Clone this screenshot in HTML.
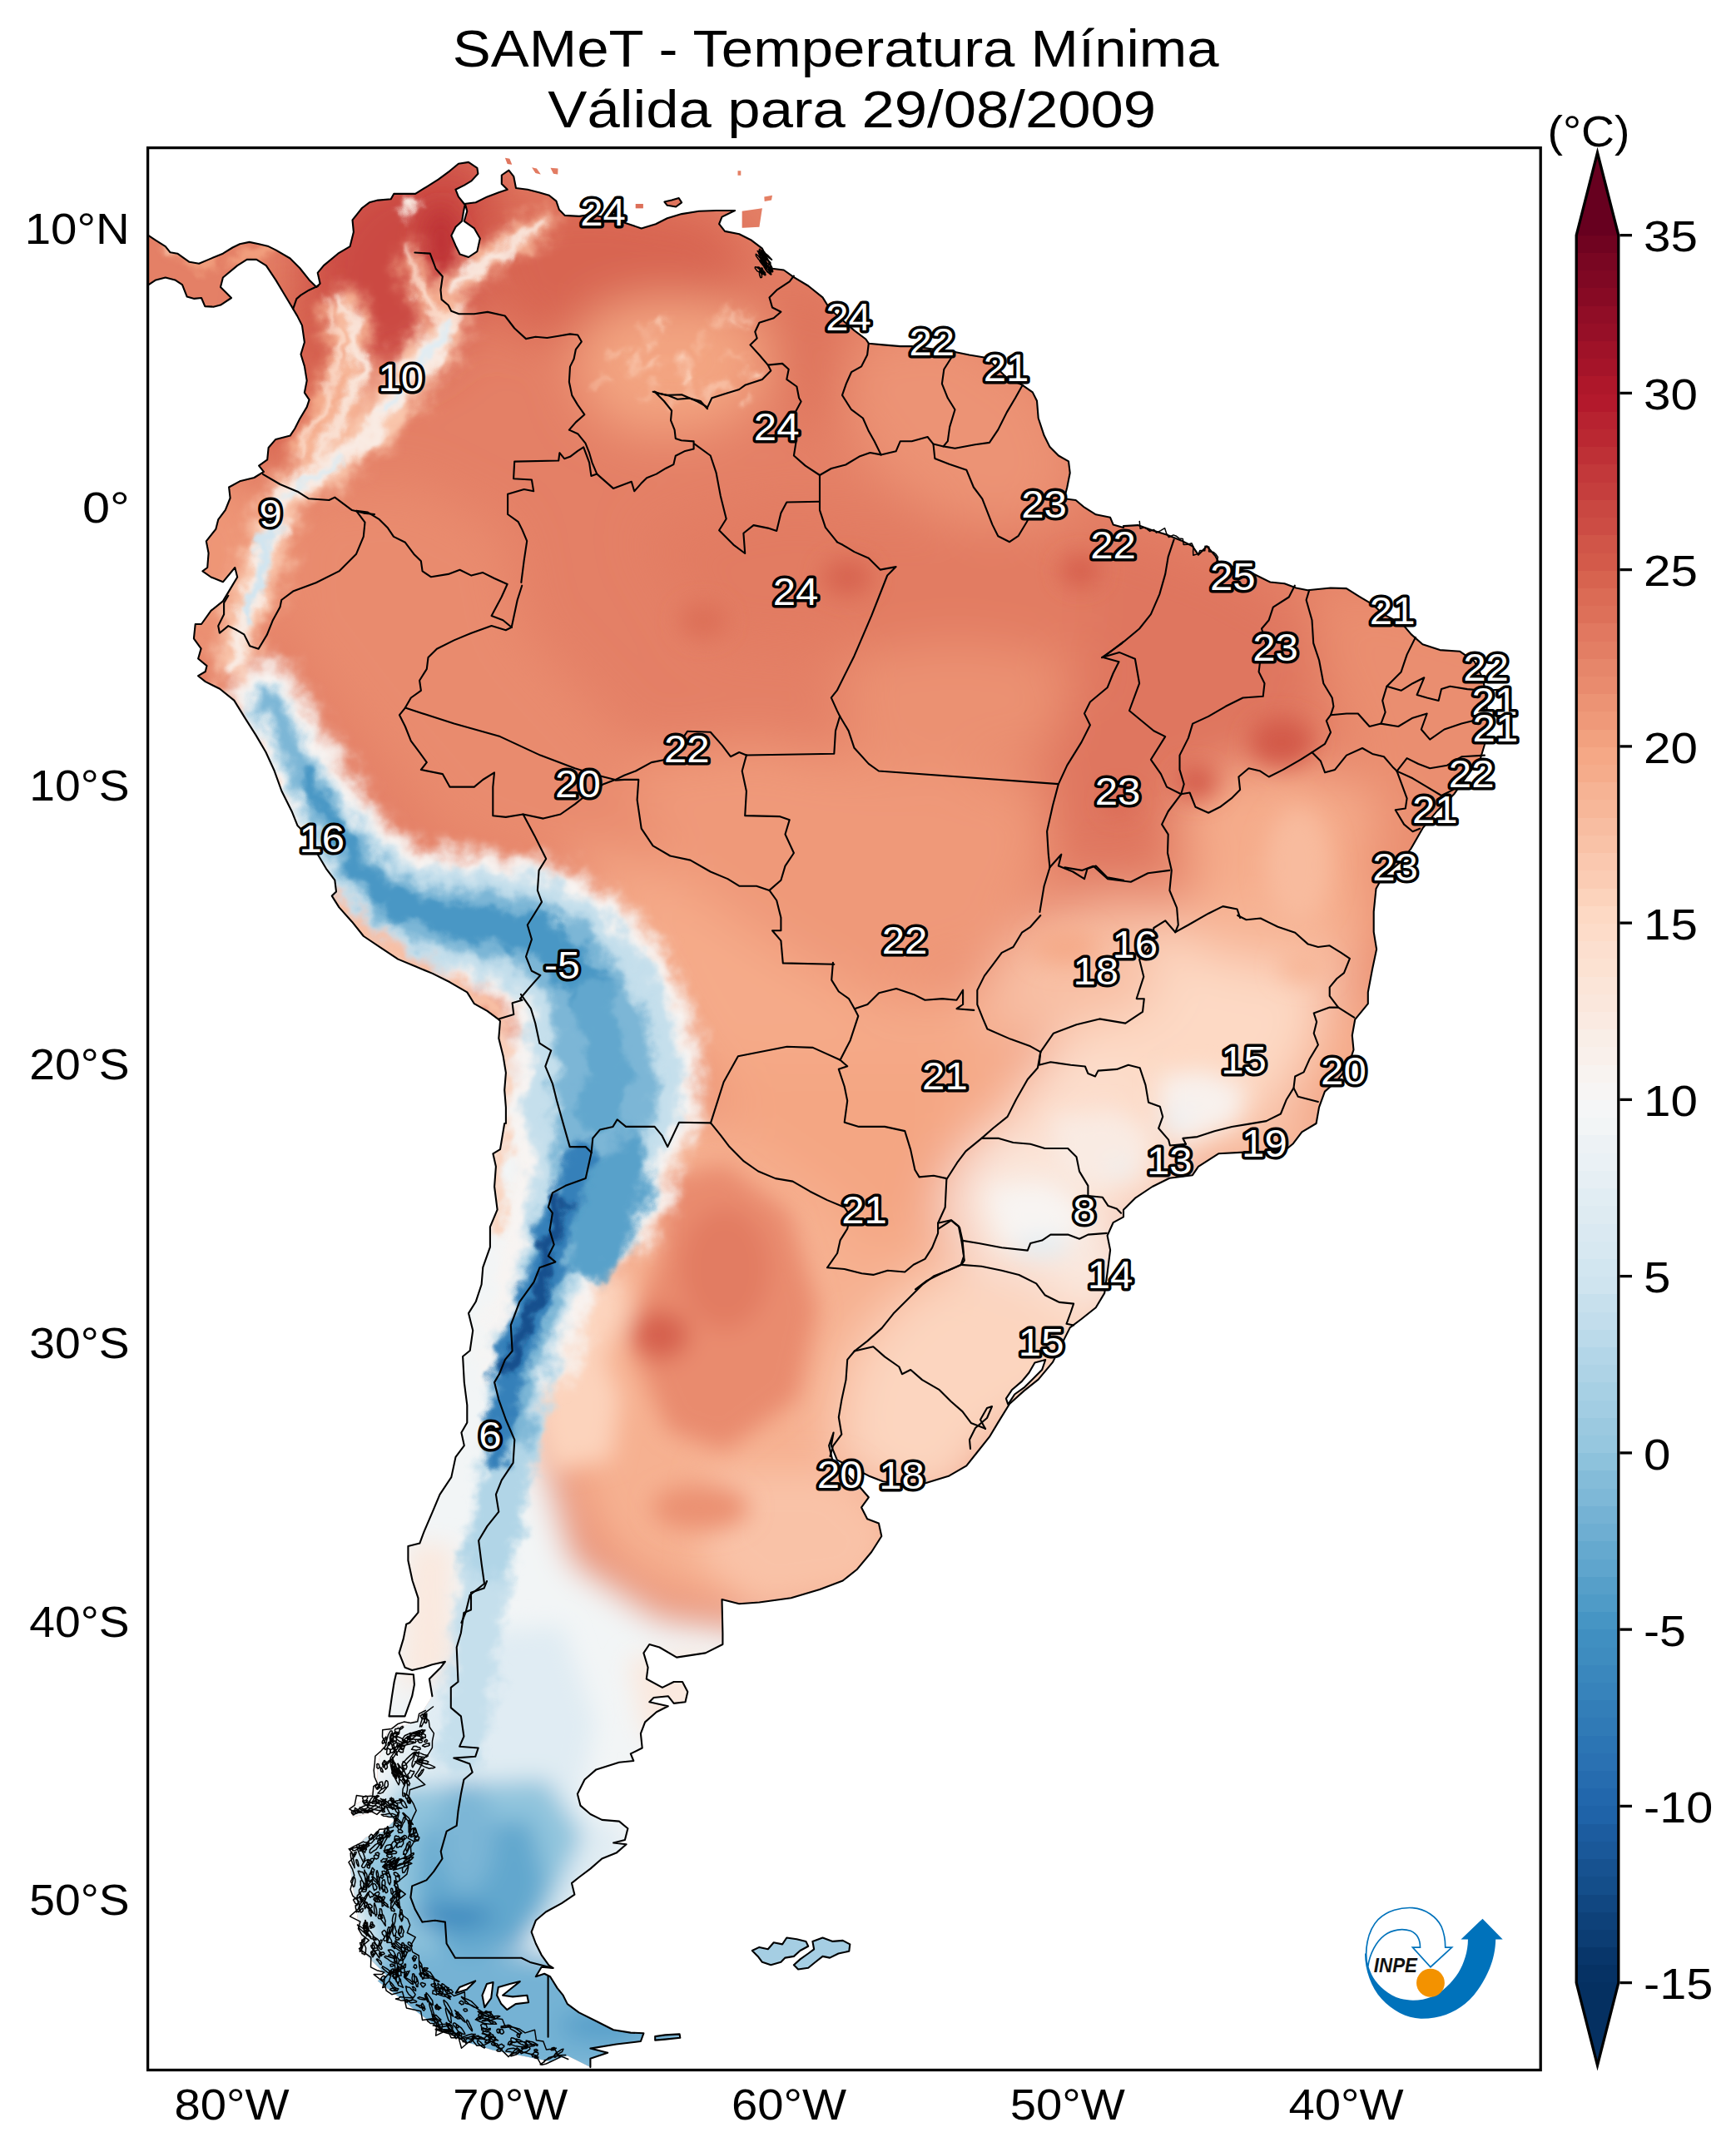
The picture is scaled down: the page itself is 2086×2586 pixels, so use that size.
<!DOCTYPE html>
<html><head><meta charset="utf-8"><title>SAMeT - Temperatura Mínima</title>
<style>html,body{margin:0;padding:0;background:#fff}body{width:2086px;height:2586px;overflow:hidden}svg{display:block}text{font-family:"Liberation Sans",sans-serif;fill:#000}</style></head><body>
<svg width="2086" height="2586" viewBox="0 0 2086 2586">
<defs>
<clipPath id="land"><path d="M174.3 280.2 L178.6 283.1 L187.3 288.9 L198.8 296.1 L204.6 303.3 L213.2 304.7 L227.6 314.8 L239.1 316.8 L250.6 311.9 L267.9 304.7 L279.4 297.5 L288.1 293.2 L299.6 290.9 L311.1 293.2 L322.6 296.1 L331.3 300.4 L348.6 310.5 L360.1 322.0 L371.6 336.4 L380.3 345.0 L384.6 340.7 L381.7 327.8 L388.9 319.1 L406.2 304.7 L420.6 296.1 L424.9 278.8 L423.5 264.4 L435.0 250.0 L443.8 243.3 L454.1 240.6 L469.7 239.2 L473.2 232.9 L487.0 232.9 L499.1 232.9 L512.9 224.3 L526.7 215.7 L540.6 205.3 L550.9 196.7 L563.0 194.9 L573.4 201.8 L574.4 208.8 L566.5 217.4 L557.8 222.6 L547.5 227.8 L550.9 236.4 L557.8 245.0 L571.7 243.3 L585.5 236.4 L599.3 231.2 L609.7 227.8 L602.8 220.9 L602.8 210.5 L611.4 204.6 L617.3 212.2 L620.0 226.0 L633.9 227.8 L647.7 231.2 L659.8 234.7 L668.4 241.6 L671.9 252.0 L678.8 258.9 L696.1 259.9 L709.9 257.8 L730.6 262.3 L750.0 266.8 L750.0 267.5 L770.7 274.4 L788.0 269.2 L801.8 262.3 L819.1 257.1 L839.9 253.7 L860.6 253.0 L883.1 253.0 L867.5 260.6 L864.1 269.2 L871.0 277.9 L888.2 281.3 L902.1 288.2 L915.9 298.6 L922.8 312.4 L928.0 322.8 L941.8 324.5 L953.9 333.2 L971.2 343.5 L988.5 357.4 L997.1 371.2 L1012.7 385.0 L1026.5 397.1 L1040.3 407.5 L1043.8 412.7 L1061.1 414.4 L1081.8 416.1 L1095.6 416.1 L1147.5 423.0 L1164.7 426.5 L1185.5 430.0 L1209.7 454.1 L1228.7 462.8 L1240.8 471.4 L1246.0 481.8 L1247.7 502.5 L1254.6 523.3 L1261.5 537.1 L1271.9 547.5 L1284.0 554.4 L1285.7 568.2 L1282.3 585.5 L1278.8 599.3 L1292.6 601.0 L1303.0 609.7 L1316.8 618.3 L1334.1 621.8 L1337.6 630.4 L1350.0 633.9 L1350.0 632.1 L1367.3 631.1 L1384.6 637.3 L1401.8 642.5 L1419.1 649.4 L1432.9 656.3 L1439.9 666.7 L1450.2 656.3 L1460.6 668.4 L1464.1 675.3 L1505.5 689.2 L1526.3 699.5 L1543.5 701.3 L1557.4 706.5 L1571.2 709.2 L1598.8 706.5 L1617.9 707.1 L1633.4 716.8 L1650.7 727.2 L1661.1 737.6 L1685.3 750.0 L1695.6 762.1 L1709.4 774.2 L1730.2 781.1 L1754.4 782.8 L1771.7 794.9 L1782.0 815.7 L1786.2 839.9 L1787.2 867.5 L1783.8 895.2 L1778.6 912.4 L1764.7 929.7 L1747.5 953.9 L1726.7 974.7 L1709.4 995.4 L1695.6 1019.6 L1681.8 1036.9 L1661.1 1054.1 L1653.5 1068.0 L1650.7 1095.6 L1650.7 1119.8 L1654.1 1140.6 L1649.0 1164.7 L1643.8 1192.4 L1643.8 1206.2 L1628.2 1225.2 L1624.8 1244.2 L1626.5 1261.5 L1619.6 1282.3 L1605.8 1299.5 L1591.9 1311.6 L1585.0 1330.6 L1581.6 1350.0 L1581.6 1350.0 L1564.3 1360.4 L1553.9 1374.2 L1543.5 1382.8 L1495.2 1384.6 L1464.1 1386.3 L1439.9 1401.8 L1432.9 1412.2 L1405.3 1415.7 L1384.6 1426.0 L1363.8 1439.9 L1350.0 1453.7 L1350.0 1462.3 L1337.6 1469.2 L1330.6 1484.8 L1334.1 1502.1 L1330.6 1529.7 L1327.2 1553.9 L1316.8 1571.2 L1299.5 1585.0 L1285.7 1595.4 L1275.3 1616.1 L1265.0 1636.9 L1247.7 1657.6 L1230.4 1671.4 L1213.1 1687.0 L1199.3 1709.4 L1188.9 1726.7 L1175.1 1744.0 L1161.3 1761.3 L1140.6 1773.4 L1112.9 1782.0 L1081.8 1783.8 L1061.1 1780.3 L1043.8 1773.4 L1023.0 1763.0 L1005.8 1754.4 L998.8 1737.1 L1001.6 1721.5 L996.1 1737.1 L1000.6 1756.1 L1019.6 1773.4 L1033.4 1787.2 L1043.8 1799.3 L1035.1 1811.4 L1042.1 1825.2 L1055.9 1830.4 L1059.3 1846.0 L1047.2 1865.0 L1030.0 1885.7 L1012.7 1899.5 L985.0 1909.9 L950.5 1920.3 L912.4 1925.5 L888.2 1927.2 L867.5 1922.0 L868.4 1962.2 L868.4 1976.0 L847.7 1986.4 L813.1 1991.6 L792.4 1979.5 L780.3 1976.0 L773.4 1986.4 L778.6 2003.7 L776.8 2017.5 L795.9 2027.9 L809.7 2021.0 L820.0 2021.0 L826.3 2033.1 L823.5 2045.2 L809.7 2046.9 L802.8 2038.2 L785.5 2040.0 L780.3 2045.2 L802.8 2050.3 L788.9 2057.3 L775.1 2069.4 L769.9 2083.2 L771.7 2100.5 L757.8 2107.4 L761.3 2116.0 L744.0 2117.7 L716.4 2126.4 L702.5 2138.5 L693.9 2155.8 L697.4 2169.6 L709.4 2180.0 L723.3 2186.9 L744.0 2188.6 L754.4 2197.2 L750.9 2211.1 L737.1 2214.5 L752.6 2216.2 L740.6 2226.6 L723.3 2233.5 L709.4 2245.6 L695.6 2256.0 L687.0 2262.9 L690.4 2276.7 L674.9 2287.1 L655.9 2297.5 L643.8 2307.8 L638.6 2321.7 L643.8 2335.5 L650.7 2349.3 L659.3 2361.4 L664.5 2364.9 L650.7 2363.8 L643.8 2375.2 L654.1 2371.8 L661.1 2375.2 L669.7 2389.1 L676.6 2397.7 L681.8 2408.1 L695.6 2418.4 L716.4 2428.8 L737.1 2439.2 L757.8 2442.6 L773.4 2443.3 L769.9 2453.0 L740.6 2456.5 L709.4 2461.6 L730.2 2466.8 L709.4 2473.7 L709.4 2484.1 L681.8 2470.3 L661.1 2477.2 L626.5 2470.3 L591.9 2463.4 L557.4 2453.0 L529.7 2439.2 L502.1 2418.4 L481.3 2401.2 L453.7 2380.4 L464.1 2373.5 L436.4 2345.9 L431.2 2314.7 L426.0 2280.2 L420.9 2245.6 L424.3 2221.4 L439.9 2207.6 L460.6 2200.7 L474.4 2186.9 L453.7 2176.5 L424.3 2183.4 L419.1 2173.0 L436.4 2162.7 L453.7 2148.8 L453.7 2121.2 L460.6 2093.5 L467.5 2076.3 L488.2 2072.8 L502.1 2065.9 L510.7 2052.1 L519.4 2038.2 L515.9 2017.5 L529.7 2003.7 L534.9 1996.8 L519.4 2000.2 L509.0 2003.7 L495.2 2007.1 L486.5 2003.7 L479.6 1986.4 L484.8 1969.1 L488.2 1951.8 L492.2 1950.0 L502.5 1937.6 L502.5 1920.3 L495.6 1899.5 L490.4 1875.3 L490.4 1858.1 L504.3 1854.6 L509.4 1840.8 L519.8 1816.6 L528.5 1795.9 L542.3 1775.1 L547.5 1750.9 L557.8 1737.1 L554.4 1721.5 L561.3 1709.4 L561.3 1688.7 L557.8 1661.1 L556.1 1630.0 L564.7 1623.0 L568.2 1598.8 L563.0 1578.1 L571.7 1564.3 L578.6 1543.5 L580.3 1522.8 L588.9 1498.6 L588.9 1474.4 L597.6 1453.7 L594.1 1426.0 L595.9 1401.8 L592.4 1386.3 L601.0 1381.1 L606.2 1350.0 L607.9 1350.0 L607.9 1330.6 L606.2 1309.9 L607.9 1289.2 L604.5 1268.4 L599.3 1247.7 L601.0 1227.0 L599.3 1225.2 L585.5 1214.9 L569.9 1206.2 L561.3 1192.4 L540.6 1180.3 L519.8 1169.9 L499.1 1161.3 L478.3 1152.6 L457.6 1138.8 L436.9 1125.0 L423.0 1107.7 L407.5 1090.4 L398.8 1076.6 L404.0 1071.4 L402.3 1057.6 L391.9 1043.8 L381.6 1026.5 L371.2 1005.8 L357.4 991.9 L350.5 974.7 L338.4 950.5 L329.7 926.3 L319.4 903.8 L307.3 883.1 L295.2 864.1 L281.3 841.6 L264.1 827.8 L246.8 819.1 L238.1 812.2 L246.8 807.0 L248.5 800.1 L238.1 791.5 L241.6 779.4 L232.9 767.3 L234.7 750.0 L242.0 750.0 L253.5 733.9 L267.9 722.4 L276.6 707.9 L285.2 693.5 L282.3 682.0 L267.9 699.3 L253.5 693.5 L243.4 686.3 L249.2 682.0 L250.6 664.7 L247.8 650.3 L259.3 635.9 L262.2 624.4 L270.8 612.9 L276.6 598.5 L275.1 585.5 L288.1 578.3 L305.4 574.0 L316.9 566.8 L311.1 559.6 L321.2 552.4 L322.6 538.0 L331.3 527.9 L348.6 523.6 L354.3 515.0 L360.1 503.5 L368.7 489.1 L371.6 480.4 L365.9 471.8 L368.7 457.4 L365.9 440.1 L361.5 425.7 L365.9 411.3 L363.0 391.1 L357.2 379.6 L348.6 365.2 L339.9 350.8 L331.3 336.4 L319.8 319.1 L308.2 311.9 L296.7 311.9 L285.2 319.1 L267.9 333.5 L265.0 345.0 L270.8 350.8 L278.0 358.0 L265.0 366.6 L256.4 368.7 L246.3 368.1 L242.0 358.0 L233.4 358.9 L224.7 356.6 L219.0 342.2 L210.3 336.4 L198.8 333.5 L187.3 336.4 L178.6 342.2 L174.3 342.7Z M476.2 2010.6 L496.9 2012.3 L497.9 2024.4 L495.2 2038.2 L486.5 2062.4 L467.5 2062.4 L471.0 2038.2 L473.7 2021.0Z M903.8 2344.0 L912.4 2339.9 L922.8 2342.3 L929.7 2334.3 L940.1 2336.4 L945.3 2328.5 L957.4 2330.2 L968.4 2332.9 L971.2 2338.8 L961.5 2344.0 L953.9 2350.9 L943.5 2352.6 L938.4 2357.8 L926.3 2361.3 L915.9 2357.8 L910.7 2350.9Z M976.4 2332.9 L988.5 2328.5 L1000.6 2332.9 L1012.7 2331.9 L1021.3 2336.4 L1020.3 2344.7 L1007.5 2347.5 L997.1 2352.6 L988.5 2350.9 L979.8 2357.8 L971.2 2364.7 L959.1 2366.5 L953.9 2361.3 L961.5 2354.4 L971.2 2347.5 L978.1 2342.3Z M787.2 2447.1 L799.3 2445.4 L816.6 2444.4 L817.3 2448.8 L799.3 2450.6 L787.2 2451.6Z M798.4 242.6 L807.0 240.6 L815.7 238.1 L819.1 243.3 L812.2 248.5 L801.8 246.8Z M891.7 253.7 L915.9 250.2 L912.4 272.7 L891.7 273.7Z M918.3 236.4 L928.0 234.7 L927.0 240.6 L918.7 241.9Z M606.9 189.7 L612.4 190.8 L615.2 197.7 L609.7 197.0Z M639.1 201.2 L644.9 202.5 L649.8 209.4 L643.5 208.1Z M661.5 201.8 L670.5 202.5 L670.2 209.4 L665.0 208.8Z M886.5 205.3 L890.3 205.3 L890.3 210.8 L886.5 210.8Z M763.8 245.0 L772.8 245.0 L772.8 250.2 L763.8 250.2Z"/></clipPath>
<clipPath id="frame"><rect x="177.6" y="177.6" width="1673.6" height="2309.9"/></clipPath>
<filter id="b40" x="-30%" y="-30%" width="160%" height="160%" filterUnits="objectBoundingBox"><feGaussianBlur stdDeviation="40"/></filter>
<filter id="b40d" x="-30%" y="-30%" width="160%" height="160%" filterUnits="objectBoundingBox"><feGaussianBlur stdDeviation="40" result="b"/><feTurbulence type="fractalNoise" baseFrequency="0.035" numOctaves="3" seed="43" result="n"/><feDisplacementMap in="b" in2="n" scale="34" xChannelSelector="R" yChannelSelector="G"/></filter>
<filter id="b30" x="-30%" y="-30%" width="160%" height="160%" filterUnits="objectBoundingBox"><feGaussianBlur stdDeviation="30"/></filter>
<filter id="b30d" x="-30%" y="-30%" width="160%" height="160%" filterUnits="objectBoundingBox"><feGaussianBlur stdDeviation="30" result="b"/><feTurbulence type="fractalNoise" baseFrequency="0.035" numOctaves="3" seed="33" result="n"/><feDisplacementMap in="b" in2="n" scale="34" xChannelSelector="R" yChannelSelector="G"/></filter>
<filter id="b24" x="-30%" y="-30%" width="160%" height="160%" filterUnits="objectBoundingBox"><feGaussianBlur stdDeviation="24"/></filter>
<filter id="b24d" x="-30%" y="-30%" width="160%" height="160%" filterUnits="objectBoundingBox"><feGaussianBlur stdDeviation="24" result="b"/><feTurbulence type="fractalNoise" baseFrequency="0.035" numOctaves="3" seed="27" result="n"/><feDisplacementMap in="b" in2="n" scale="34" xChannelSelector="R" yChannelSelector="G"/></filter>
<filter id="b20" x="-30%" y="-30%" width="160%" height="160%" filterUnits="objectBoundingBox"><feGaussianBlur stdDeviation="20"/></filter>
<filter id="b20d" x="-30%" y="-30%" width="160%" height="160%" filterUnits="objectBoundingBox"><feGaussianBlur stdDeviation="20" result="b"/><feTurbulence type="fractalNoise" baseFrequency="0.035" numOctaves="3" seed="23" result="n"/><feDisplacementMap in="b" in2="n" scale="34" xChannelSelector="R" yChannelSelector="G"/></filter>
<filter id="b14" x="-30%" y="-30%" width="160%" height="160%" filterUnits="objectBoundingBox"><feGaussianBlur stdDeviation="14"/></filter>
<filter id="b14d" x="-30%" y="-30%" width="160%" height="160%" filterUnits="objectBoundingBox"><feGaussianBlur stdDeviation="14" result="b"/><feTurbulence type="fractalNoise" baseFrequency="0.035" numOctaves="3" seed="17" result="n"/><feDisplacementMap in="b" in2="n" scale="34" xChannelSelector="R" yChannelSelector="G"/></filter>
<filter id="b10" x="-30%" y="-30%" width="160%" height="160%" filterUnits="objectBoundingBox"><feGaussianBlur stdDeviation="10"/></filter>
<filter id="b10d" x="-30%" y="-30%" width="160%" height="160%" filterUnits="objectBoundingBox"><feGaussianBlur stdDeviation="10" result="b"/><feTurbulence type="fractalNoise" baseFrequency="0.035" numOctaves="3" seed="13" result="n"/><feDisplacementMap in="b" in2="n" scale="34" xChannelSelector="R" yChannelSelector="G"/></filter>
<filter id="b8" x="-30%" y="-30%" width="160%" height="160%" filterUnits="objectBoundingBox"><feGaussianBlur stdDeviation="8"/></filter>
<filter id="b8d" x="-30%" y="-30%" width="160%" height="160%" filterUnits="objectBoundingBox"><feGaussianBlur stdDeviation="8" result="b"/><feTurbulence type="fractalNoise" baseFrequency="0.035" numOctaves="3" seed="11" result="n"/><feDisplacementMap in="b" in2="n" scale="34" xChannelSelector="R" yChannelSelector="G"/></filter>
<filter id="b6" x="-30%" y="-30%" width="160%" height="160%" filterUnits="objectBoundingBox"><feGaussianBlur stdDeviation="6"/></filter>
<filter id="b6d" x="-30%" y="-30%" width="160%" height="160%" filterUnits="objectBoundingBox"><feGaussianBlur stdDeviation="6" result="b"/><feTurbulence type="fractalNoise" baseFrequency="0.035" numOctaves="3" seed="9" result="n"/><feDisplacementMap in="b" in2="n" scale="34" xChannelSelector="R" yChannelSelector="G"/></filter>
<filter id="b4" x="-30%" y="-30%" width="160%" height="160%" filterUnits="objectBoundingBox"><feGaussianBlur stdDeviation="4"/></filter>
<filter id="b4d" x="-30%" y="-30%" width="160%" height="160%" filterUnits="objectBoundingBox"><feGaussianBlur stdDeviation="4" result="b"/><feTurbulence type="fractalNoise" baseFrequency="0.035" numOctaves="3" seed="7" result="n"/><feDisplacementMap in="b" in2="n" scale="34" xChannelSelector="R" yChannelSelector="G"/></filter>
<filter id="b3" x="-30%" y="-30%" width="160%" height="160%" filterUnits="objectBoundingBox"><feGaussianBlur stdDeviation="3"/></filter>
<filter id="b3d" x="-30%" y="-30%" width="160%" height="160%" filterUnits="objectBoundingBox"><feGaussianBlur stdDeviation="3" result="b"/><feTurbulence type="fractalNoise" baseFrequency="0.035" numOctaves="3" seed="6" result="n"/><feDisplacementMap in="b" in2="n" scale="34" xChannelSelector="R" yChannelSelector="G"/></filter>
<filter id="b2" x="-30%" y="-30%" width="160%" height="160%" filterUnits="objectBoundingBox"><feGaussianBlur stdDeviation="2"/></filter>
<filter id="b2d" x="-30%" y="-30%" width="160%" height="160%" filterUnits="objectBoundingBox"><feGaussianBlur stdDeviation="2" result="b"/><feTurbulence type="fractalNoise" baseFrequency="0.035" numOctaves="3" seed="5" result="n"/><feDisplacementMap in="b" in2="n" scale="34" xChannelSelector="R" yChannelSelector="G"/></filter>
</defs>
<rect width="2086" height="2586" fill="#fff"/>
<g clip-path="url(#frame)"><g clip-path="url(#land)">
<rect x="0" y="0" width="2086" height="2586" fill="#e48066"/>
<g filter="url(#b30)">
<rect x="-300" y="-300" width="2686" height="3186" fill="none" stroke="none"/>
<path d="M364.7 286.8 L423.1 208.9 L559.4 170.0 L608.1 228.4 L578.9 325.8 L539.9 423.1 L462.1 462.1 L393.9 442.6 L364.7 364.7Z" fill="#cb4942" fill-opacity="1"/>
<path d="M578.9 247.9 L715.2 228.4 L870.9 257.6 L909.9 325.8 L851.5 393.9 L715.2 413.4 L598.3 393.9Z" fill="#d86551" fill-opacity="1"/>
<path d="M335.5 345.2 L393.9 364.7 L393.9 462.1 L364.7 539.9 L286.8 578.9 L228.4 559.4 L316.0 481.5Z" fill="#d7634f" fill-opacity="1"/>
<path d="M689.2 419.6 L720.3 372.9 L798.0 357.4 L886.2 367.7 L927.6 419.6 L917.3 471.4 L865.4 512.9 L772.1 523.3 L709.9 492.2Z" fill="#f3a481" fill-opacity="1"/>
<path d="M909.9 325.8 L1007.2 355.0 L1046.2 442.6 L1026.7 520.5 L948.8 501.0 L929.3 413.4Z" fill="#de735c" fill-opacity="1"/>
<path d="M1026.7 403.6 L1143.5 384.2 L1260.3 462.1 L1299.3 578.9 L1240.9 637.3 L1143.5 627.6 L1046.2 559.4 L1007.2 481.5Z" fill="#ec9374" fill-opacity="1"/>
<path d="M345.2 598.3 L491.3 578.9 L608.1 637.3 L627.6 754.1 L715.2 851.5 L793.1 929.3 L773.6 1026.7 L656.8 1046.2 L539.9 1007.2 L423.1 870.9 L335.5 754.1Z" fill="#e98b6e" fill-opacity="1"/>
<path d="M208.9 578.9 L306.3 559.4 L335.5 676.2 L286.8 773.6 L208.9 793.1 L189.5 676.2Z" fill="#ee9677" fill-opacity="1"/>
<path d="M773.6 637.3 L948.8 598.3 L1143.5 627.6 L1338.2 637.3 L1396.6 715.2 L1318.8 793.1 L1104.6 793.1 L851.5 773.6Z" fill="#e27b62" fill-opacity="1"/>
<path d="M1010.0 790.0 L1150.0 770.0 L1280.0 790.0 L1290.0 900.0 L1150.0 930.0 L1020.0 910.0Z" fill="#eb9172" fill-opacity="1"/>
<path d="M1318.8 627.6 L1464.8 676.2 L1571.9 734.6 L1591.3 851.5 L1532.9 929.3 L1425.8 978.0 L1386.9 1046.2 L1270.1 1046.2 L1250.6 909.9 L1309.0 793.1Z" fill="#df765e" fill-opacity="1"/>
<path d="M1571.9 695.7 L1688.7 715.2 L1883.4 773.6 L1883.4 948.8 L1727.6 1026.7 L1630.3 929.3 L1591.3 812.5Z" fill="#ea8e70" fill-opacity="1"/>
<path d="M1416.1 948.8 L1532.9 909.9 L1649.8 948.8 L1688.7 1046.2 L1669.2 1143.5 L1552.4 1163.0 L1435.6 1104.6Z" fill="#f5ac8b" fill-opacity="1"/>
<path d="M1630.3 1007.2 L1708.2 968.3 L1727.6 1143.5 L1669.2 1240.9 L1620.5 1201.9 L1649.8 1104.6Z" fill="#eb9172" fill-opacity="1"/>
<path d="M754.1 909.9 L909.9 890.4 L1046.2 919.6 L1250.6 939.1 L1260.3 1046.2 L1192.2 1153.3 L1046.2 1201.9 L939.1 1143.5 L793.1 1046.2Z" fill="#ef9979" fill-opacity="1"/>
<path d="M676.2 1007.2 L793.1 1046.2 L939.1 1143.5 L1046.2 1201.9 L1182.5 1182.5 L1240.9 1289.5 L1201.9 1396.6 L1007.2 1396.6 L851.5 1318.8 L773.6 1182.5Z" fill="#f5aa89" fill-opacity="1"/>
<path d="M1176.0 1189.9 L1203.7 1141.5 L1252.1 1100.0 L1341.9 1079.3 L1411.1 1086.2 L1397.2 1120.7 L1376.5 1169.1 L1376.5 1214.1 L1321.2 1224.4 L1265.9 1245.2 L1214.1 1248.6 L1182.9 1234.8Z" fill="#f8bfa4" fill-opacity="1"/>
<path d="M1376.5 1214.1 L1386.9 1120.7 L1445.6 1079.3 L1549.3 1093.1 L1625.3 1151.8 L1597.7 1203.7 L1583.9 1255.5 L1556.2 1307.4 L1514.7 1348.8 L1428.3 1373.0 L1404.1 1369.6 L1376.5 1307.4 L1355.8 1279.7 L1252.1 1265.9 L1265.9 1245.2 L1321.2 1224.4Z" fill="#fdd9c4" fill-opacity="1"/>
<path d="M1411.1 1086.2 L1497.5 1072.4 L1618.4 1106.9 L1625.3 1151.8 L1577.0 1169.1 L1497.5 1155.3 L1428.3 1141.5Z" fill="#f7b596" fill-opacity="1"/>
<path d="M1252.1 1265.9 L1355.8 1279.7 L1376.5 1307.4 L1404.1 1369.6 L1440.4 1400.7 L1428.3 1445.6 L1376.5 1480.2 L1307.4 1437.0 L1293.5 1390.3 L1255.5 1380.0 L1179.5 1367.9 L1210.6 1341.9 L1234.8 1297.0Z" fill="#fcdecd" fill-opacity="1"/>
<path d="M1138.0 1416.2 L1179.5 1367.9 L1255.5 1380.0 L1293.5 1390.3 L1307.4 1437.0 L1347.1 1457.7 L1329.8 1481.9 L1283.2 1483.6 L1203.7 1499.2 L1155.3 1490.6 L1127.6 1476.7Z" fill="#fae8de" fill-opacity="1"/>
<path d="M1155.3 1490.6 L1203.7 1499.2 L1283.2 1483.6 L1329.8 1481.9 L1376.5 1480.2 L1376.5 1549.3 L1324.7 1601.2 L1290.1 1566.6 L1245.2 1542.4 L1179.5 1521.7 L1158.8 1514.7Z" fill="#faeae1" fill-opacity="1"/>
<path d="M1608.1 1210.6 L1687.6 1186.4 L1687.6 1272.8 L1653.0 1341.9 L1587.3 1328.1 L1559.7 1317.7 L1556.2 1293.5 L1583.9 1255.5 L1580.4 1221.0Z" fill="#f5aa89" fill-opacity="1"/>
<path d="M1424.9 1374.8 L1480.2 1354.0 L1538.9 1338.5 L1559.7 1317.7 L1587.3 1328.1 L1618.4 1376.5 L1549.3 1428.3 L1459.4 1428.3 L1440.4 1400.7Z" fill="#f8bb9e" fill-opacity="1"/>
<path d="M851.5 1271.6 L1143.5 1271.6 L1133.8 1427.4 L1085.1 1524.7 L997.5 1524.7 L870.9 1368.9Z" fill="#f4a683" fill-opacity="1"/>
<path d="M997.5 1524.7 L1133.8 1456.6 L1153.3 1524.7 L1085.1 1573.4 L1026.7 1622.1Z" fill="#f6af8e" fill-opacity="1"/>
<path d="M1026.7 1622.1 L1085.1 1553.9 L1153.3 1515.0 L1289.5 1563.6 L1367.4 1583.1 L1299.3 1680.5 L1201.9 1738.9 L1143.5 1816.8 L1046.2 1797.3 L997.5 1748.6 L1002.4 1670.7Z" fill="#fcd5bf" fill-opacity="1"/>
<path d="M686.0 1349.5 L802.8 1310.5 L870.9 1359.2 L1017.0 1456.6 L1046.2 1573.4 L1017.0 1651.3 L997.5 1768.1 L1075.4 1836.2 L1046.2 1914.1 L909.9 1938.5 L793.1 1923.8 L715.2 1865.4 L666.5 1748.6 L676.2 1622.1 L715.2 1524.7 L754.1 1427.4Z" fill="#f6b191" fill-opacity="1"/>
</g>
<g filter="url(#b20)">
<rect x="-300" y="-300" width="2686" height="3186" fill="none" stroke="none"/>
<path d="M316.0 1252.1 L627.6 1252.1 L656.8 1330.0 L661.6 1524.7 L651.9 1738.9 L690.8 1875.2 L793.1 1943.3 L909.9 1957.9 L1104.6 1933.6 L1104.6 2595.6 L316.0 2595.6Z" fill="#f2f5f6" fill-opacity="1"/>
<path d="M851.5 1768.1 L1007.2 1768.1 L1085.1 1836.2 L1046.2 1914.1 L909.9 1933.6 L841.7 1875.2Z" fill="#f9c2a7" fill-opacity="1"/>
</g>
<g filter="url(#b14)">
<rect x="-300" y="-300" width="2686" height="3186" fill="none" stroke="none"/>
<ellipse cx="1018.0" cy="694.0" rx="30.0" ry="22.0" transform="rotate(0 1018.0 694.0)" fill="#d7634f" fill-opacity="1"/>
<ellipse cx="1298.0" cy="686.0" rx="24.0" ry="18.0" transform="rotate(0 1298.0 686.0)" fill="#d55d4c" fill-opacity="1"/>
<ellipse cx="845.0" cy="746.0" rx="28.0" ry="20.0" transform="rotate(0 845.0 746.0)" fill="#dc6e57" fill-opacity="1"/>
<ellipse cx="1345.0" cy="965.0" rx="16.0" ry="14.0" transform="rotate(0 1345.0 965.0)" fill="#da6853" fill-opacity="1"/>
<path d="M1393.8 1293.5 L1445.6 1286.6 L1497.5 1307.4 L1487.1 1348.8 L1428.3 1373.0 L1404.1 1369.6 L1393.8 1341.9Z" fill="#f8f1ed" fill-opacity="1"/>
<path d="M1262.4 1341.9 L1341.9 1335.0 L1383.4 1362.7 L1376.5 1411.1 L1321.2 1431.8 L1272.8 1411.1Z" fill="#f9ebe3" fill-opacity="1"/>
<path d="M1186.4 1428.3 L1255.5 1421.4 L1293.5 1445.6 L1307.4 1480.2 L1255.5 1490.6 L1203.7 1497.5Z" fill="#f8f4f2" fill-opacity="1"/>
<ellipse cx="1252.1" cy="1497.5" rx="34.0" ry="12.0" transform="rotate(0 1252.1 1497.5)" fill="#e0ecf3" fill-opacity="1"/>
<ellipse cx="1411.1" cy="1345.4" rx="16.0" ry="9.0" transform="rotate(0 1411.1 1345.4)" fill="#e4eef4" fill-opacity="1"/>
<ellipse cx="1345.4" cy="1404.1" rx="14.0" ry="8.0" transform="rotate(0 1345.4 1404.1)" fill="#e7f0f4" fill-opacity="1"/>
<ellipse cx="1279.7" cy="1138.0" rx="40.0" ry="22.0" transform="rotate(0 1279.7 1138.0)" fill="#f5aa89" fill-opacity="1"/>
<ellipse cx="1566.6" cy="1162.2" rx="30.0" ry="16.0" transform="rotate(0 1566.6 1162.2)" fill="#f7b596" fill-opacity="1"/>
<path d="M793.1 1417.6 L870.9 1398.1 L948.8 1456.6 L982.9 1573.4 L958.6 1680.5 L870.9 1743.7 L802.8 1719.4 L773.6 1651.3 L754.1 1602.6 L793.1 1505.2Z" fill="#e98b6e" fill-opacity="1"/>
<path d="M693.7 1542.4 L749.4 1527.5 L756.9 1579.6 L727.1 1631.6 L745.7 1679.9 L734.6 1754.3 L660.2 1769.1 L641.6 1694.8 L660.2 1620.4Z" fill="#fcd3bc" fill-opacity="1"/>
<ellipse cx="870.9" cy="1524.7" rx="53.5" ry="73.0" transform="rotate(0 870.9 1524.7)" fill="#e27b62" fill-opacity="1"/>
<ellipse cx="793.1" cy="1604.5" rx="35.0" ry="29.2" transform="rotate(0 793.1 1604.5)" fill="#d6604d" fill-opacity="1"/>
<ellipse cx="841.7" cy="1811.9" rx="58.4" ry="27.3" transform="rotate(0 841.7 1811.9)" fill="#eb9172" fill-opacity="1"/>
<ellipse cx="530.0" cy="292.0" rx="22.0" ry="45.0" transform="rotate(0 530.0 292.0)" fill="#be3036" fill-opacity="1"/>
<ellipse cx="1540.0" cy="892.0" rx="40.0" ry="30.0" transform="rotate(0 1540.0 892.0)" fill="#d35a4a" fill-opacity="1"/>
<ellipse cx="1438.0" cy="940.0" rx="25.0" ry="20.0" transform="rotate(0 1438.0 940.0)" fill="#d35a4a" fill-opacity="1"/>
<ellipse cx="1560.0" cy="1040.0" rx="40.0" ry="70.0" transform="rotate(0 1560.0 1040.0)" fill="#f8bb9e" fill-opacity="1"/>
<path d="M539.9 1962.8 L676.2 1953.1 L715.2 2069.9 L695.7 2167.2 L754.1 2206.2 L715.2 2303.5 L637.3 2361.9 L491.3 2381.4 L442.6 2206.2 L491.3 2069.9Z" fill="#e0ecf3" fill-opacity="1"/>
<path d="M754.1 1992.0 L851.5 1982.3 L841.7 2079.6 L773.6 2089.3Z" fill="#fae9df" fill-opacity="1"/>
<path d="M481.5 2147.8 L656.8 2138.0 L700.6 2206.2 L656.8 2303.5 L578.9 2361.9 L462.1 2361.9 L423.1 2245.1Z" fill="#90c4dd" fill-opacity="1"/>
<path d="M505.9 2196.4 L637.3 2186.7 L656.8 2264.6 L627.6 2342.5 L539.9 2352.2 L501.0 2284.0Z" fill="#62a7ce" fill-opacity="1"/>
<path d="M462.1 2342.5 L676.2 2352.2 L832.0 2430.1 L832.0 2498.2 L539.9 2498.2 L413.4 2400.9Z" fill="#75b2d4" fill-opacity="1"/>
<ellipse cx="544.8" cy="2303.5" rx="48.7" ry="12.7" transform="rotate(0 544.8 2303.5)" fill="#3885bc" fill-opacity="1"/>
<ellipse cx="724.9" cy="2434.9" rx="53.5" ry="17.5" transform="rotate(0 724.9 2434.9)" fill="#569fc9" fill-opacity="1"/>
<ellipse cx="559.4" cy="2206.2" rx="34.1" ry="68.1" transform="rotate(0 559.4 2206.2)" fill="#7bb6d6" fill-opacity="1"/>
<path d="M491.3 1855.7 L544.8 1855.7 L544.8 2011.5 L481.5 2030.9Z" fill="#fae9df" fill-opacity="1"/>
</g>
<g filter="url(#b6)">
<rect x="-300" y="-300" width="2686" height="3186" fill="none" stroke="none"/>
<path d="M860.0 2290.0 L1060.0 2290.0 L1060.0 2400.0 L860.0 2400.0Z" fill="#a5cee3" fill-opacity="1"/>
</g>
<g filter="url(#b4d)">
<rect x="-300" y="-300" width="2686" height="3186" fill="none" stroke="none"/>
<ellipse cx="760.7" cy="432.0" rx="8.3" ry="4.1" transform="rotate(-52 760.7 432.0)" fill="#fbceb7" fill-opacity="1"/>
<ellipse cx="831.2" cy="471.9" rx="8.3" ry="3.1" transform="rotate(0 831.2 471.9)" fill="#fbccb4" fill-opacity="1"/>
<ellipse cx="818.8" cy="432.5" rx="10.4" ry="3.1" transform="rotate(-41 818.8 432.5)" fill="#fbceb7" fill-opacity="1"/>
<ellipse cx="881.5" cy="430.0" rx="8.8" ry="2.6" transform="rotate(15 881.5 430.0)" fill="#f9c4a9" fill-opacity="1"/>
<ellipse cx="723.4" cy="457.9" rx="6.2" ry="4.1" transform="rotate(-11 723.4 457.9)" fill="#f8bfa4" fill-opacity="1"/>
<ellipse cx="852.0" cy="473.0" rx="9.9" ry="3.6" transform="rotate(-43 852.0 473.0)" fill="#fbceb7" fill-opacity="1"/>
<ellipse cx="883.6" cy="383.3" rx="5.7" ry="5.2" transform="rotate(-5 883.6 383.3)" fill="#fcd7c2" fill-opacity="1"/>
<ellipse cx="864.4" cy="466.2" rx="10.4" ry="4.1" transform="rotate(8 864.4 466.2)" fill="#fbccb4" fill-opacity="1"/>
<ellipse cx="827.1" cy="436.7" rx="9.3" ry="5.2" transform="rotate(-25 827.1 436.7)" fill="#f8bda1" fill-opacity="1"/>
<ellipse cx="905.4" cy="446.0" rx="10.4" ry="5.2" transform="rotate(13 905.4 446.0)" fill="#fcd5bf" fill-opacity="1"/>
<ellipse cx="824.5" cy="450.7" rx="10.4" ry="4.1" transform="rotate(-24 824.5 450.7)" fill="#fcd5bf" fill-opacity="1"/>
<ellipse cx="738.9" cy="425.3" rx="7.8" ry="3.6" transform="rotate(-52 738.9 425.3)" fill="#f9c6ac" fill-opacity="1"/>
<ellipse cx="793.9" cy="389.5" rx="9.9" ry="4.7" transform="rotate(-55 793.9 389.5)" fill="#fbd0b9" fill-opacity="1"/>
<ellipse cx="831.2" cy="455.9" rx="8.3" ry="4.1" transform="rotate(-25 831.2 455.9)" fill="#fbceb7" fill-opacity="1"/>
<ellipse cx="812.0" cy="481.8" rx="4.7" ry="4.1" transform="rotate(-56 812.0 481.8)" fill="#fbd0b9" fill-opacity="1"/>
<ellipse cx="897.1" cy="478.7" rx="6.2" ry="4.1" transform="rotate(-17 897.1 478.7)" fill="#fbd0b9" fill-opacity="1"/>
<ellipse cx="775.2" cy="477.1" rx="6.7" ry="3.6" transform="rotate(6 775.2 477.1)" fill="#f8bda1" fill-opacity="1"/>
<ellipse cx="789.2" cy="467.3" rx="4.7" ry="5.2" transform="rotate(4 789.2 467.3)" fill="#f9c6ac" fill-opacity="1"/>
<ellipse cx="766.9" cy="441.9" rx="10.9" ry="3.6" transform="rotate(-27 766.9 441.9)" fill="#f9c4a9" fill-opacity="1"/>
<ellipse cx="815.1" cy="432.5" rx="7.3" ry="4.1" transform="rotate(-58 815.1 432.5)" fill="#fddbc7" fill-opacity="1"/>
<ellipse cx="787.2" cy="437.2" rx="8.8" ry="3.6" transform="rotate(-15 787.2 437.2)" fill="#fcd7c2" fill-opacity="1"/>
<ellipse cx="845.2" cy="411.3" rx="9.3" ry="2.6" transform="rotate(-53 845.2 411.3)" fill="#f9c4a9" fill-opacity="1"/>
<ellipse cx="898.1" cy="375.0" rx="8.8" ry="3.1" transform="rotate(16 898.1 375.0)" fill="#fbceb7" fill-opacity="1"/>
<ellipse cx="776.3" cy="412.3" rx="6.7" ry="4.1" transform="rotate(-22 776.3 412.3)" fill="#fbd0b9" fill-opacity="1"/>
<ellipse cx="866.0" cy="384.3" rx="11.4" ry="4.1" transform="rotate(-44 866.0 384.3)" fill="#f9c2a7" fill-opacity="1"/>
<ellipse cx="774.7" cy="397.3" rx="5.7" ry="3.1" transform="rotate(-5 774.7 397.3)" fill="#f9c2a7" fill-opacity="1"/>
<ellipse cx="227.8" cy="305.5" rx="36.3" ry="11.4" transform="rotate(20 227.8 305.5)" fill="#f19e7d" fill-opacity="1"/>
<ellipse cx="212.2" cy="300.3" rx="20.7" ry="4.1" transform="rotate(20 212.2 300.3)" fill="#f9c6ac" fill-opacity="1"/>
<ellipse cx="305.5" cy="305.5" rx="31.1" ry="9.3" transform="rotate(-20 305.5 305.5)" fill="#f19e7d" fill-opacity="1"/>
</g>
<g filter="url(#b10d)">
<rect x="-300" y="-300" width="2686" height="3186" fill="none" stroke="none"/>
<path d="M318.0 838.0 L340.0 880.0" fill="none" stroke="#f8f4f2" stroke-width="85.0" stroke-linecap="round" stroke-linejoin="round" stroke-opacity="1"/>
<path d="M340.0 880.0 L366.0 932.0" fill="none" stroke="#f8f4f2" stroke-width="91.0" stroke-linecap="round" stroke-linejoin="round" stroke-opacity="1"/>
<path d="M366.0 932.0 L396.0 985.0" fill="none" stroke="#f8f4f2" stroke-width="98.0" stroke-linecap="round" stroke-linejoin="round" stroke-opacity="1"/>
<path d="M396.0 985.0 L428.0 1038.0" fill="none" stroke="#f8f4f2" stroke-width="108.0" stroke-linecap="round" stroke-linejoin="round" stroke-opacity="1"/>
<path d="M428.0 1038.0 L470.0 1082.0" fill="none" stroke="#f8f4f2" stroke-width="124.0" stroke-linecap="round" stroke-linejoin="round" stroke-opacity="1"/>
<path d="M470.0 1082.0 L528.0 1101.0" fill="none" stroke="#f8f4f2" stroke-width="146.0" stroke-linecap="round" stroke-linejoin="round" stroke-opacity="1"/>
<path d="M528.0 1101.0 L580.0 1112.0" fill="none" stroke="#f8f4f2" stroke-width="162.0" stroke-linecap="round" stroke-linejoin="round" stroke-opacity="1"/>
<path d="M580.0 1112.0 L632.0 1118.0" fill="none" stroke="#f8f4f2" stroke-width="169.0" stroke-linecap="round" stroke-linejoin="round" stroke-opacity="1"/>
<path d="M632.0 1118.0 L684.0 1153.0" fill="none" stroke="#f8f4f2" stroke-width="176.0" stroke-linecap="round" stroke-linejoin="round" stroke-opacity="1"/>
<path d="M684.0 1153.0 L712.0 1200.0" fill="none" stroke="#f8f4f2" stroke-width="185.0" stroke-linecap="round" stroke-linejoin="round" stroke-opacity="1"/>
<path d="M712.0 1200.0 L724.0 1250.0" fill="none" stroke="#f8f4f2" stroke-width="204.0" stroke-linecap="round" stroke-linejoin="round" stroke-opacity="1"/>
<path d="M724.0 1250.0 L730.0 1290.0" fill="none" stroke="#f8f4f2" stroke-width="223.0" stroke-linecap="round" stroke-linejoin="round" stroke-opacity="1"/>
<path d="M730.0 1290.0 L726.0 1330.0" fill="none" stroke="#f8f4f2" stroke-width="223.0" stroke-linecap="round" stroke-linejoin="round" stroke-opacity="1"/>
<path d="M726.0 1330.0 L715.2 1330.0" fill="none" stroke="#f8f4f2" stroke-width="214.31542056074767" stroke-linecap="round" stroke-linejoin="round" stroke-opacity="1"/>
<path d="M715.2 1330.0 L710.3 1427.4" fill="none" stroke="#f8f4f2" stroke-width="187.26635514018693" stroke-linecap="round" stroke-linejoin="round" stroke-opacity="1"/>
<path d="M710.3 1427.4 L681.1 1476.0" fill="none" stroke="#f8f4f2" stroke-width="149.78582554517135" stroke-linecap="round" stroke-linejoin="round" stroke-opacity="1"/>
<path d="M681.1 1476.0 L661.6 1524.7" fill="none" stroke="#f8f4f2" stroke-width="125.93457943925235" stroke-linecap="round" stroke-linejoin="round" stroke-opacity="1"/>
<path d="M661.6 1524.7 L632.4 1622.1" fill="none" stroke="#f8f4f2" stroke-width="114.25233644859813" stroke-linecap="round" stroke-linejoin="round" stroke-opacity="1"/>
<path d="M541.5 385.4 L527.1 411.3" fill="none" stroke="#f9c6ac" stroke-width="46.4815668202765" stroke-linecap="round" stroke-linejoin="round" stroke-opacity="1"/>
<path d="M527.1 411.3 L504.1 434.3" fill="none" stroke="#f9c6ac" stroke-width="53.68202764976958" stroke-linecap="round" stroke-linejoin="round" stroke-opacity="1"/>
<path d="M504.1 434.3 L481.1 468.9" fill="none" stroke="#f9c6ac" stroke-width="55.1221198156682" stroke-linecap="round" stroke-linejoin="round" stroke-opacity="1"/>
<path d="M481.1 468.9 L463.8 494.8" fill="none" stroke="#f9c6ac" stroke-width="50.80184331797235" stroke-linecap="round" stroke-linejoin="round" stroke-opacity="1"/>
<path d="M463.8 494.8 L446.5 517.9" fill="none" stroke="#f9c6ac" stroke-width="46.4815668202765" stroke-linecap="round" stroke-linejoin="round" stroke-opacity="1"/>
<path d="M446.5 517.9 L423.5 538.0" fill="none" stroke="#f9c6ac" stroke-width="45.04147465437788" stroke-linecap="round" stroke-linejoin="round" stroke-opacity="1"/>
<path d="M423.5 538.0 L400.4 555.3" fill="none" stroke="#f9c6ac" stroke-width="45.04147465437788" stroke-linecap="round" stroke-linejoin="round" stroke-opacity="1"/>
<path d="M400.4 555.3 L383.1 569.7" fill="none" stroke="#f9c6ac" stroke-width="45.04147465437788" stroke-linecap="round" stroke-linejoin="round" stroke-opacity="1"/>
<path d="M383.1 569.7 L360.1 584.1" fill="none" stroke="#f9c6ac" stroke-width="45.04147465437788" stroke-linecap="round" stroke-linejoin="round" stroke-opacity="1"/>
<path d="M360.1 584.1 L342.8 595.6" fill="none" stroke="#f9c6ac" stroke-width="45.04147465437788" stroke-linecap="round" stroke-linejoin="round" stroke-opacity="1"/>
<path d="M342.8 595.6 L331.3 624.4" fill="none" stroke="#f9c6ac" stroke-width="46.4815668202765" stroke-linecap="round" stroke-linejoin="round" stroke-opacity="1"/>
<path d="M331.3 624.4 L319.8 653.2" fill="none" stroke="#f9c6ac" stroke-width="49.36175115207373" stroke-linecap="round" stroke-linejoin="round" stroke-opacity="1"/>
<path d="M319.8 653.2 L314.0 682.0" fill="none" stroke="#f9c6ac" stroke-width="50.80184331797235" stroke-linecap="round" stroke-linejoin="round" stroke-opacity="1"/>
<path d="M314.0 682.0 L305.4 710.8" fill="none" stroke="#f9c6ac" stroke-width="49.36175115207373" stroke-linecap="round" stroke-linejoin="round" stroke-opacity="1"/>
<path d="M305.4 710.8 L296.7 739.6" fill="none" stroke="#f9c6ac" stroke-width="46.4815668202765" stroke-linecap="round" stroke-linejoin="round" stroke-opacity="1"/>
<path d="M296.7 739.6 L285.2 768.4" fill="none" stroke="#f9c6ac" stroke-width="43.60138248847926" stroke-linecap="round" stroke-linejoin="round" stroke-opacity="1"/>
<path d="M285.2 768.4 L279.4 797.2" fill="none" stroke="#f9c6ac" stroke-width="40.72119815668203" stroke-linecap="round" stroke-linejoin="round" stroke-opacity="1"/>
<path d="M414.8 359.4 L423.5 388.2" fill="none" stroke="#f7b596" stroke-width="27.52073732718894" stroke-linecap="round" stroke-linejoin="round" stroke-opacity="1"/>
<path d="M423.5 388.2 L429.2 417.1" fill="none" stroke="#f7b596" stroke-width="31.120967741935484" stroke-linecap="round" stroke-linejoin="round" stroke-opacity="1"/>
<path d="M429.2 417.1 L432.1 445.9" fill="none" stroke="#f7b596" stroke-width="31.841013824884794" stroke-linecap="round" stroke-linejoin="round" stroke-opacity="1"/>
<path d="M432.1 445.9 L423.5 474.7" fill="none" stroke="#f7b596" stroke-width="31.120967741935484" stroke-linecap="round" stroke-linejoin="round" stroke-opacity="1"/>
<path d="M423.5 474.7 L411.9 497.7" fill="none" stroke="#f7b596" stroke-width="29.680875576036865" stroke-linecap="round" stroke-linejoin="round" stroke-opacity="1"/>
<path d="M411.9 497.7 L397.5 523.6" fill="none" stroke="#f7b596" stroke-width="28.24078341013825" stroke-linecap="round" stroke-linejoin="round" stroke-opacity="1"/>
<path d="M397.5 523.6 L383.1 549.5" fill="none" stroke="#f7b596" stroke-width="27.52073732718894" stroke-linecap="round" stroke-linejoin="round" stroke-opacity="1"/>
<path d="M397.5 371.0 L403.3 399.8" fill="none" stroke="#f6af8e" stroke-width="19.920506912442395" stroke-linecap="round" stroke-linejoin="round" stroke-opacity="1"/>
<path d="M403.3 399.8 L409.1 428.6" fill="none" stroke="#f6af8e" stroke-width="22.08064516129032" stroke-linecap="round" stroke-linejoin="round" stroke-opacity="1"/>
<path d="M409.1 428.6 L400.4 457.4" fill="none" stroke="#f6af8e" stroke-width="22.08064516129032" stroke-linecap="round" stroke-linejoin="round" stroke-opacity="1"/>
<path d="M400.4 457.4 L388.9 486.2" fill="none" stroke="#f6af8e" stroke-width="21.360599078341014" stroke-linecap="round" stroke-linejoin="round" stroke-opacity="1"/>
<path d="M388.9 486.2 L371.6 517.9" fill="none" stroke="#f6af8e" stroke-width="20.640552995391705" stroke-linecap="round" stroke-linejoin="round" stroke-opacity="1"/>
<path d="M371.6 517.9 L357.2 546.7" fill="none" stroke="#f6af8e" stroke-width="20.640552995391705" stroke-linecap="round" stroke-linejoin="round" stroke-opacity="1"/>
<path d="M498.3 301.8 L496.9 330.6" fill="none" stroke="#f6af8e" stroke-width="20.640552995391705" stroke-linecap="round" stroke-linejoin="round" stroke-opacity="1"/>
<path d="M496.9 330.6 L507.0 353.7" fill="none" stroke="#f6af8e" stroke-width="22.80069124423963" stroke-linecap="round" stroke-linejoin="round" stroke-opacity="1"/>
<path d="M507.0 353.7 L524.3 371.0" fill="none" stroke="#f6af8e" stroke-width="24.96082949308756" stroke-linecap="round" stroke-linejoin="round" stroke-opacity="1"/>
<path d="M524.3 371.0 L541.5 385.4" fill="none" stroke="#f6af8e" stroke-width="27.84101382488479" stroke-linecap="round" stroke-linejoin="round" stroke-opacity="1"/>
<path d="M541.5 347.9 L573.2 322.0" fill="none" stroke="#f8bb9e" stroke-width="29.68087557603687" stroke-linecap="round" stroke-linejoin="round" stroke-opacity="1"/>
<path d="M573.2 322.0 L602.0 299.0" fill="none" stroke="#f8bb9e" stroke-width="31.120967741935484" stroke-linecap="round" stroke-linejoin="round" stroke-opacity="1"/>
<path d="M602.0 299.0 L630.8 278.8" fill="none" stroke="#f8bb9e" stroke-width="28.96082949308756" stroke-linecap="round" stroke-linejoin="round" stroke-opacity="1"/>
<path d="M630.8 278.8 L653.9 267.3" fill="none" stroke="#f8bb9e" stroke-width="26.08064516129032" stroke-linecap="round" stroke-linejoin="round" stroke-opacity="1"/>
</g>
<g filter="url(#b4d)">
<rect x="-300" y="-300" width="2686" height="3186" fill="none" stroke="none"/>
<path d="M541.5 385.4 L527.1 411.3" fill="none" stroke="#f9ebe3" stroke-width="21.5852534562212" stroke-linecap="round" stroke-linejoin="round" stroke-opacity="1"/>
<path d="M527.1 411.3 L504.1 434.3" fill="none" stroke="#f9ebe3" stroke-width="27.34562211981567" stroke-linecap="round" stroke-linejoin="round" stroke-opacity="1"/>
<path d="M504.1 434.3 L481.1 468.9" fill="none" stroke="#f9ebe3" stroke-width="28.497695852534562" stroke-linecap="round" stroke-linejoin="round" stroke-opacity="1"/>
<path d="M481.1 468.9 L463.8 494.8" fill="none" stroke="#f9ebe3" stroke-width="25.04147465437788" stroke-linecap="round" stroke-linejoin="round" stroke-opacity="1"/>
<path d="M463.8 494.8 L446.5 517.9" fill="none" stroke="#f9ebe3" stroke-width="21.5852534562212" stroke-linecap="round" stroke-linejoin="round" stroke-opacity="1"/>
<path d="M446.5 517.9 L423.5 538.0" fill="none" stroke="#f9ebe3" stroke-width="20.433179723502302" stroke-linecap="round" stroke-linejoin="round" stroke-opacity="1"/>
<path d="M423.5 538.0 L400.4 555.3" fill="none" stroke="#f9ebe3" stroke-width="20.433179723502302" stroke-linecap="round" stroke-linejoin="round" stroke-opacity="1"/>
<path d="M400.4 555.3 L383.1 569.7" fill="none" stroke="#f9ebe3" stroke-width="20.433179723502302" stroke-linecap="round" stroke-linejoin="round" stroke-opacity="1"/>
<path d="M383.1 569.7 L360.1 584.1" fill="none" stroke="#f9ebe3" stroke-width="20.433179723502302" stroke-linecap="round" stroke-linejoin="round" stroke-opacity="1"/>
<path d="M360.1 584.1 L342.8 595.6" fill="none" stroke="#f9ebe3" stroke-width="20.433179723502302" stroke-linecap="round" stroke-linejoin="round" stroke-opacity="1"/>
<path d="M342.8 595.6 L331.3 624.4" fill="none" stroke="#f9ebe3" stroke-width="21.5852534562212" stroke-linecap="round" stroke-linejoin="round" stroke-opacity="1"/>
<path d="M331.3 624.4 L319.8 653.2" fill="none" stroke="#f9ebe3" stroke-width="23.889400921658986" stroke-linecap="round" stroke-linejoin="round" stroke-opacity="1"/>
<path d="M319.8 653.2 L314.0 682.0" fill="none" stroke="#f9ebe3" stroke-width="25.04147465437788" stroke-linecap="round" stroke-linejoin="round" stroke-opacity="1"/>
<path d="M314.0 682.0 L305.4 710.8" fill="none" stroke="#f9ebe3" stroke-width="23.889400921658986" stroke-linecap="round" stroke-linejoin="round" stroke-opacity="1"/>
<path d="M305.4 710.8 L296.7 739.6" fill="none" stroke="#f9ebe3" stroke-width="21.5852534562212" stroke-linecap="round" stroke-linejoin="round" stroke-opacity="1"/>
<path d="M296.7 739.6 L285.2 768.4" fill="none" stroke="#f9ebe3" stroke-width="19.28110599078341" stroke-linecap="round" stroke-linejoin="round" stroke-opacity="1"/>
<path d="M285.2 768.4 L279.4 797.2" fill="none" stroke="#f9ebe3" stroke-width="16.976958525345623" stroke-linecap="round" stroke-linejoin="round" stroke-opacity="1"/>
<path d="M414.8 359.4 L423.5 388.2" fill="none" stroke="#fae9df" stroke-width="10.640552995391705" stroke-linecap="round" stroke-linejoin="round" stroke-opacity="1"/>
<path d="M423.5 388.2 L429.2 417.1" fill="none" stroke="#fae9df" stroke-width="13.340725806451612" stroke-linecap="round" stroke-linejoin="round" stroke-opacity="1"/>
<path d="M429.2 417.1 L432.1 445.9" fill="none" stroke="#fae9df" stroke-width="13.880760368663594" stroke-linecap="round" stroke-linejoin="round" stroke-opacity="1"/>
<path d="M432.1 445.9 L423.5 474.7" fill="none" stroke="#fae9df" stroke-width="13.340725806451612" stroke-linecap="round" stroke-linejoin="round" stroke-opacity="1"/>
<path d="M423.5 474.7 L411.9 497.7" fill="none" stroke="#fae9df" stroke-width="12.260656682027648" stroke-linecap="round" stroke-linejoin="round" stroke-opacity="1"/>
<path d="M411.9 497.7 L397.5 523.6" fill="none" stroke="#fae9df" stroke-width="11.180587557603687" stroke-linecap="round" stroke-linejoin="round" stroke-opacity="1"/>
<path d="M397.5 523.6 L383.1 549.5" fill="none" stroke="#fae9df" stroke-width="10.640552995391705" stroke-linecap="round" stroke-linejoin="round" stroke-opacity="1"/>
<path d="M397.5 371.0 L403.3 399.8" fill="none" stroke="#fce0d0" stroke-width="7.940380184331797" stroke-linecap="round" stroke-linejoin="round" stroke-opacity="1"/>
<path d="M403.3 399.8 L409.1 428.6" fill="none" stroke="#fce0d0" stroke-width="9.560483870967742" stroke-linecap="round" stroke-linejoin="round" stroke-opacity="1"/>
<path d="M409.1 428.6 L400.4 457.4" fill="none" stroke="#fce0d0" stroke-width="9.560483870967742" stroke-linecap="round" stroke-linejoin="round" stroke-opacity="1"/>
<path d="M400.4 457.4 L388.9 486.2" fill="none" stroke="#fce0d0" stroke-width="9.020449308755762" stroke-linecap="round" stroke-linejoin="round" stroke-opacity="1"/>
<path d="M388.9 486.2 L371.6 517.9" fill="none" stroke="#fce0d0" stroke-width="8.48041474654378" stroke-linecap="round" stroke-linejoin="round" stroke-opacity="1"/>
<path d="M371.6 517.9 L357.2 546.7" fill="none" stroke="#fce0d0" stroke-width="8.48041474654378" stroke-linecap="round" stroke-linejoin="round" stroke-opacity="1"/>
<path d="M498.3 301.8 L496.9 330.6" fill="none" stroke="#fce0d0" stroke-width="8.048387096774192" stroke-linecap="round" stroke-linejoin="round" stroke-opacity="1"/>
<path d="M496.9 330.6 L507.0 353.7" fill="none" stroke="#fce0d0" stroke-width="9.56048387096774" stroke-linecap="round" stroke-linejoin="round" stroke-opacity="1"/>
<path d="M507.0 353.7 L524.3 371.0" fill="none" stroke="#fce0d0" stroke-width="11.07258064516129" stroke-linecap="round" stroke-linejoin="round" stroke-opacity="1"/>
<path d="M524.3 371.0 L541.5 385.4" fill="none" stroke="#fce0d0" stroke-width="13.088709677419354" stroke-linecap="round" stroke-linejoin="round" stroke-opacity="1"/>
<path d="M541.5 347.9 L573.2 322.0" fill="none" stroke="#f9ebe3" stroke-width="12.26065668202765" stroke-linecap="round" stroke-linejoin="round" stroke-opacity="1"/>
<path d="M573.2 322.0 L602.0 299.0" fill="none" stroke="#f9ebe3" stroke-width="13.340725806451612" stroke-linecap="round" stroke-linejoin="round" stroke-opacity="1"/>
<path d="M602.0 299.0 L630.8 278.8" fill="none" stroke="#f9ebe3" stroke-width="11.720622119815667" stroke-linecap="round" stroke-linejoin="round" stroke-opacity="1"/>
<path d="M630.8 278.8 L653.9 267.3" fill="none" stroke="#f9ebe3" stroke-width="9.560483870967742" stroke-linecap="round" stroke-linejoin="round" stroke-opacity="1"/>
<ellipse cx="489.7" cy="250.0" rx="12.0" ry="10.0" transform="rotate(0 489.7 250.0)" fill="#f9ebe3" fill-opacity="1"/>
</g>
<g filter="url(#b3d)">
<rect x="-300" y="-300" width="2686" height="3186" fill="none" stroke="none"/>
<path d="M541.5 385.4 L527.1 411.3" fill="none" stroke="#e0ecf3" stroke-width="9.7926267281106" stroke-linecap="round" stroke-linejoin="round" stroke-opacity="1"/>
<path d="M527.1 411.3 L504.1 434.3" fill="none" stroke="#e0ecf3" stroke-width="12.672811059907835" stroke-linecap="round" stroke-linejoin="round" stroke-opacity="1"/>
<path d="M481.1 468.9 L463.8 494.8" fill="none" stroke="#e0ecf3" stroke-width="10.080645161290322" stroke-linecap="round" stroke-linejoin="round" stroke-opacity="1"/>
<path d="M400.4 555.3 L383.1 569.7" fill="none" stroke="#ddebf2" stroke-width="8.064516129032258" stroke-linecap="round" stroke-linejoin="round" stroke-opacity="1"/>
<path d="M383.1 569.7 L360.1 584.1" fill="none" stroke="#ddebf2" stroke-width="8.064516129032258" stroke-linecap="round" stroke-linejoin="round" stroke-opacity="1"/>
<path d="M360.1 584.1 L342.8 595.6" fill="none" stroke="#ddebf2" stroke-width="8.064516129032258" stroke-linecap="round" stroke-linejoin="round" stroke-opacity="1"/>
<path d="M331.3 624.4 L319.8 653.2" fill="none" stroke="#d1e5f0" stroke-width="13.680875576036865" stroke-linecap="round" stroke-linejoin="round" stroke-opacity="1"/>
<path d="M319.8 653.2 L314.0 682.0" fill="none" stroke="#d1e5f0" stroke-width="14.400921658986174" stroke-linecap="round" stroke-linejoin="round" stroke-opacity="1"/>
<path d="M314.0 682.0 L305.4 710.8" fill="none" stroke="#d1e5f0" stroke-width="13.680875576036865" stroke-linecap="round" stroke-linejoin="round" stroke-opacity="1"/>
<path d="M305.4 710.8 L296.7 739.6" fill="none" stroke="#d1e5f0" stroke-width="12.240783410138249" stroke-linecap="round" stroke-linejoin="round" stroke-opacity="1"/>
</g>
<g filter="url(#b6d)">
<rect x="-300" y="-300" width="2686" height="3186" fill="none" stroke="none"/>
<path d="M318.0 838.0 L340.0 880.0" fill="none" stroke="#c5dfec" stroke-width="41.0" stroke-linecap="round" stroke-linejoin="round" stroke-opacity="1"/>
<path d="M340.0 880.0 L366.0 932.0" fill="none" stroke="#c5dfec" stroke-width="47.0" stroke-linecap="round" stroke-linejoin="round" stroke-opacity="1"/>
<path d="M366.0 932.0 L396.0 985.0" fill="none" stroke="#c5dfec" stroke-width="54.0" stroke-linecap="round" stroke-linejoin="round" stroke-opacity="1"/>
<path d="M396.0 985.0 L428.0 1038.0" fill="none" stroke="#c5dfec" stroke-width="64.0" stroke-linecap="round" stroke-linejoin="round" stroke-opacity="1"/>
<path d="M428.0 1038.0 L470.0 1082.0" fill="none" stroke="#c5dfec" stroke-width="80.0" stroke-linecap="round" stroke-linejoin="round" stroke-opacity="1"/>
<path d="M470.0 1082.0 L528.0 1101.0" fill="none" stroke="#c5dfec" stroke-width="102.0" stroke-linecap="round" stroke-linejoin="round" stroke-opacity="1"/>
<path d="M528.0 1101.0 L580.0 1112.0" fill="none" stroke="#c5dfec" stroke-width="118.0" stroke-linecap="round" stroke-linejoin="round" stroke-opacity="1"/>
<path d="M580.0 1112.0 L632.0 1118.0" fill="none" stroke="#c5dfec" stroke-width="125.0" stroke-linecap="round" stroke-linejoin="round" stroke-opacity="1"/>
<path d="M632.0 1118.0 L684.0 1153.0" fill="none" stroke="#c5dfec" stroke-width="132.0" stroke-linecap="round" stroke-linejoin="round" stroke-opacity="1"/>
<path d="M684.0 1153.0 L712.0 1200.0" fill="none" stroke="#c5dfec" stroke-width="141.0" stroke-linecap="round" stroke-linejoin="round" stroke-opacity="1"/>
<path d="M712.0 1200.0 L724.0 1250.0" fill="none" stroke="#c5dfec" stroke-width="160.0" stroke-linecap="round" stroke-linejoin="round" stroke-opacity="1"/>
<path d="M724.0 1250.0 L730.0 1290.0" fill="none" stroke="#c5dfec" stroke-width="179.0" stroke-linecap="round" stroke-linejoin="round" stroke-opacity="1"/>
<path d="M730.0 1290.0 L726.0 1330.0" fill="none" stroke="#c5dfec" stroke-width="179.0" stroke-linecap="round" stroke-linejoin="round" stroke-opacity="1"/>
<path d="M726.0 1330.0 L715.2 1330.0" fill="none" stroke="#c5dfec" stroke-width="170.31542056074767" stroke-linecap="round" stroke-linejoin="round" stroke-opacity="1"/>
<path d="M715.2 1330.0 L710.3 1427.4" fill="none" stroke="#c5dfec" stroke-width="143.26635514018693" stroke-linecap="round" stroke-linejoin="round" stroke-opacity="1"/>
<path d="M710.3 1427.4 L681.1 1476.0" fill="none" stroke="#c5dfec" stroke-width="105.78582554517135" stroke-linecap="round" stroke-linejoin="round" stroke-opacity="1"/>
<path d="M681.1 1476.0 L661.6 1524.7" fill="none" stroke="#c5dfec" stroke-width="81.93457943925235" stroke-linecap="round" stroke-linejoin="round" stroke-opacity="1"/>
<path d="M661.6 1524.7 L632.4 1622.1" fill="none" stroke="#c5dfec" stroke-width="70.25233644859813" stroke-linecap="round" stroke-linejoin="round" stroke-opacity="1"/>
<path d="M632.4 1622.1 L617.8 1719.4" fill="none" stroke="#c5dfec" stroke-width="64.41121495327103" stroke-linecap="round" stroke-linejoin="round" stroke-opacity="1"/>
<path d="M617.8 1719.4 L598.3 1816.8" fill="none" stroke="#b1d5e7" stroke-width="60.517133956386296" stroke-linecap="round" stroke-linejoin="round" stroke-opacity="1"/>
<path d="M598.3 1816.8 L578.9 1914.1" fill="none" stroke="#b1d5e7" stroke-width="58.570093457943926" stroke-linecap="round" stroke-linejoin="round" stroke-opacity="1"/>
<path d="M578.9 1914.1 L569.1 2011.5" fill="none" stroke="#c5dfec" stroke-width="56.676012461059194" stroke-linecap="round" stroke-linejoin="round" stroke-opacity="1"/>
<path d="M569.1 2011.5 L554.5 2108.8" fill="none" stroke="#c5dfec" stroke-width="53.755451713395644" stroke-linecap="round" stroke-linejoin="round" stroke-opacity="1"/>
<path d="M604.0 1230.0 L602.0 1300.0 L598.0 1400.0 L592.0 1480.0" fill="none" stroke="#fbd0b9" stroke-width="16" stroke-linecap="round" stroke-linejoin="round" stroke-opacity="1"/>
<path d="M258.0 830.0 L296.0 905.0 L333.0 995.0 L378.0 1064.0 L440.0 1124.0 L520.0 1174.0 L590.0 1214.0" fill="none" stroke="#f8bfa4" stroke-width="24" stroke-linecap="round" stroke-linejoin="round" stroke-opacity="1"/>
</g>
<g filter="url(#b6d)">
<rect x="-300" y="-300" width="2686" height="3186" fill="none" stroke="none"/>
<path d="M318.0 838.0 L340.0 880.0" fill="none" stroke="#7bb6d6" stroke-width="23.1" stroke-linecap="round" stroke-linejoin="round" stroke-opacity="1"/>
<path d="M340.0 880.0 L366.0 932.0" fill="none" stroke="#7bb6d6" stroke-width="27.060000000000002" stroke-linecap="round" stroke-linejoin="round" stroke-opacity="1"/>
<path d="M366.0 932.0 L396.0 985.0" fill="none" stroke="#7bb6d6" stroke-width="31.68" stroke-linecap="round" stroke-linejoin="round" stroke-opacity="1"/>
<path d="M396.0 985.0 L428.0 1038.0" fill="none" stroke="#7bb6d6" stroke-width="38.28" stroke-linecap="round" stroke-linejoin="round" stroke-opacity="1"/>
<path d="M428.0 1038.0 L470.0 1082.0" fill="none" stroke="#7bb6d6" stroke-width="48.84" stroke-linecap="round" stroke-linejoin="round" stroke-opacity="1"/>
<path d="M470.0 1082.0 L528.0 1101.0" fill="none" stroke="#7bb6d6" stroke-width="63.36" stroke-linecap="round" stroke-linejoin="round" stroke-opacity="1"/>
<path d="M528.0 1101.0 L580.0 1112.0" fill="none" stroke="#7bb6d6" stroke-width="73.92" stroke-linecap="round" stroke-linejoin="round" stroke-opacity="1"/>
<path d="M580.0 1112.0 L632.0 1118.0" fill="none" stroke="#7bb6d6" stroke-width="78.54" stroke-linecap="round" stroke-linejoin="round" stroke-opacity="1"/>
<path d="M632.0 1118.0 L684.0 1153.0" fill="none" stroke="#7bb6d6" stroke-width="83.16000000000001" stroke-linecap="round" stroke-linejoin="round" stroke-opacity="1"/>
<path d="M684.0 1153.0 L712.0 1200.0" fill="none" stroke="#7bb6d6" stroke-width="89.10000000000001" stroke-linecap="round" stroke-linejoin="round" stroke-opacity="1"/>
<path d="M712.0 1200.0 L724.0 1250.0" fill="none" stroke="#7bb6d6" stroke-width="101.64" stroke-linecap="round" stroke-linejoin="round" stroke-opacity="1"/>
<path d="M724.0 1250.0 L730.0 1290.0" fill="none" stroke="#7bb6d6" stroke-width="114.18" stroke-linecap="round" stroke-linejoin="round" stroke-opacity="1"/>
<path d="M730.0 1290.0 L726.0 1330.0" fill="none" stroke="#7bb6d6" stroke-width="114.18" stroke-linecap="round" stroke-linejoin="round" stroke-opacity="1"/>
<path d="M726.0 1330.0 L715.2 1330.0" fill="none" stroke="#7bb6d6" stroke-width="108.44817757009346" stroke-linecap="round" stroke-linejoin="round" stroke-opacity="1"/>
<path d="M715.2 1330.0 L710.3 1427.4" fill="none" stroke="#7bb6d6" stroke-width="90.59579439252337" stroke-linecap="round" stroke-linejoin="round" stroke-opacity="1"/>
<path d="M710.3 1427.4 L681.1 1476.0" fill="none" stroke="#7bb6d6" stroke-width="65.8586448598131" stroke-linecap="round" stroke-linejoin="round" stroke-opacity="1"/>
<path d="M681.1 1476.0 L661.6 1524.7" fill="none" stroke="#7bb6d6" stroke-width="50.11682242990655" stroke-linecap="round" stroke-linejoin="round" stroke-opacity="1"/>
<path d="M661.6 1524.7 L632.4 1622.1" fill="none" stroke="#7bb6d6" stroke-width="42.40654205607477" stroke-linecap="round" stroke-linejoin="round" stroke-opacity="1"/>
<path d="M632.4 1622.1 L617.8 1719.4" fill="none" stroke="#7bb6d6" stroke-width="38.55140186915888" stroke-linecap="round" stroke-linejoin="round" stroke-opacity="1"/>
<path d="M708.6 1386.2 L771.7 1360.2 L777.3 1434.6 L753.2 1505.2 L716.0 1542.4 L686.2 1527.5 L677.0 1471.7 L697.4 1419.7Z" fill="#59a1ca" fill-opacity="1"/>
</g>
<g filter="url(#b4d)">
<rect x="-300" y="-300" width="2686" height="3186" fill="none" stroke="none"/>
<path d="M366.0 932.0 L396.0 985.0" fill="none" stroke="#4997c5" stroke-width="17.28" stroke-linecap="round" stroke-linejoin="round" stroke-opacity="1"/>
<path d="M396.0 985.0 L428.0 1038.0" fill="none" stroke="#4997c5" stroke-width="20.88" stroke-linecap="round" stroke-linejoin="round" stroke-opacity="1"/>
<path d="M428.0 1038.0 L470.0 1082.0" fill="none" stroke="#4997c5" stroke-width="26.64" stroke-linecap="round" stroke-linejoin="round" stroke-opacity="1"/>
<path d="M470.0 1082.0 L528.0 1101.0" fill="none" stroke="#4997c5" stroke-width="34.56" stroke-linecap="round" stroke-linejoin="round" stroke-opacity="1"/>
<path d="M528.0 1101.0 L580.0 1112.0" fill="none" stroke="#4997c5" stroke-width="40.32" stroke-linecap="round" stroke-linejoin="round" stroke-opacity="1"/>
<path d="M580.0 1112.0 L632.0 1118.0" fill="none" stroke="#4997c5" stroke-width="42.839999999999996" stroke-linecap="round" stroke-linejoin="round" stroke-opacity="1"/>
<path d="M632.0 1118.0 L684.0 1153.0" fill="none" stroke="#4997c5" stroke-width="45.36" stroke-linecap="round" stroke-linejoin="round" stroke-opacity="1"/>
<path d="M684.0 1153.0 L712.0 1200.0" fill="none" stroke="#4997c5" stroke-width="48.6" stroke-linecap="round" stroke-linejoin="round" stroke-opacity="1"/>
<path d="M712.0 1200.0 L724.0 1250.0" fill="none" stroke="#62a7ce" stroke-width="46.199999999999996" stroke-linecap="round" stroke-linejoin="round" stroke-opacity="1"/>
<path d="M724.0 1250.0 L730.0 1290.0" fill="none" stroke="#62a7ce" stroke-width="51.9" stroke-linecap="round" stroke-linejoin="round" stroke-opacity="1"/>
<path d="M730.0 1290.0 L726.0 1330.0" fill="none" stroke="#62a7ce" stroke-width="51.9" stroke-linecap="round" stroke-linejoin="round" stroke-opacity="1"/>
<path d="M726.0 1330.0 L715.2 1330.0" fill="none" stroke="#62a7ce" stroke-width="49.2946261682243" stroke-linecap="round" stroke-linejoin="round" stroke-opacity="1"/>
</g>
<g filter="url(#b4d)">
<rect x="-300" y="-300" width="2686" height="3186" fill="none" stroke="none"/>
<path d="M700.6 1388.4 L676.2 1446.8" fill="none" stroke="#3480b9" stroke-width="35.0" stroke-linecap="round" stroke-linejoin="round" stroke-opacity="1"/>
<path d="M676.2 1446.8 L653.8 1524.7" fill="none" stroke="#3480b9" stroke-width="40.0" stroke-linecap="round" stroke-linejoin="round" stroke-opacity="1"/>
<path d="M653.8 1524.7 L637.3 1583.1" fill="none" stroke="#3480b9" stroke-width="42.5" stroke-linecap="round" stroke-linejoin="round" stroke-opacity="1"/>
<path d="M637.3 1583.1 L613.0 1641.5" fill="none" stroke="#3480b9" stroke-width="40.0" stroke-linecap="round" stroke-linejoin="round" stroke-opacity="1"/>
<path d="M613.0 1641.5 L603.2 1699.9" fill="none" stroke="#3480b9" stroke-width="33.75" stroke-linecap="round" stroke-linejoin="round" stroke-opacity="1"/>
<path d="M603.2 1699.9 L598.3 1748.6" fill="none" stroke="#3480b9" stroke-width="23.75" stroke-linecap="round" stroke-linejoin="round" stroke-opacity="1"/>
</g>
<g filter="url(#b3d)">
<rect x="-300" y="-300" width="2686" height="3186" fill="none" stroke="none"/>
<path d="M676.2 1446.8 L653.8 1524.7" fill="none" stroke="#15508d" stroke-width="16.0" stroke-linecap="round" stroke-linejoin="round" stroke-opacity="1"/>
<path d="M653.8 1524.7 L637.3 1583.1" fill="none" stroke="#15508d" stroke-width="17.0" stroke-linecap="round" stroke-linejoin="round" stroke-opacity="1"/>
<path d="M637.3 1583.1 L613.0 1641.5" fill="none" stroke="#15508d" stroke-width="16.0" stroke-linecap="round" stroke-linejoin="round" stroke-opacity="1"/>
</g>
</g>
<path d="M558.9 245.0 L561.3 253.7 L557.8 265.8 L569.9 274.4 L576.8 286.5 L573.4 302.1 L563.0 309.0 L552.6 305.5 L547.5 295.2 L542.3 283.1 L547.5 272.7 L555.1 265.8 L557.1 253.7Z" fill="#fff"/>
<path d="M1256.2 1634.0 L1252.1 1646.1 L1241.7 1656.5 L1231.3 1666.8 L1219.2 1675.5 L1211.3 1687.6 L1208.9 1680.6 L1215.8 1670.3 L1227.9 1659.9 L1236.5 1649.5 L1243.4 1637.4Z" fill="#fff"/>
<path d="M598.8 2388.0 L612.7 2383.9 L624.8 2381.1 L612.7 2390.8 L604.0 2397.7 L616.1 2399.4 L633.4 2397.7 L635.1 2406.3 L619.6 2408.1 L609.2 2415.0 L602.3 2408.1 L597.1 2397.7Z" fill="#fff"/>
<path d="M585.0 2383.9 L592.6 2382.1 L590.2 2401.2 L582.3 2412.2 L579.5 2397.7Z" fill="#fff"/>
<path d="M552.2 2388.0 L571.2 2380.4 L560.8 2390.8 L547.7 2394.9Z" fill="#fff"/>
<g fill="none" stroke="#000" stroke-width="2.1" stroke-linejoin="round" stroke-linecap="round">
<path d="M174.3 280.2 L178.6 283.1 L187.3 288.9 L198.8 296.1 L204.6 303.3 L213.2 304.7 L227.6 314.8 L239.1 316.8 L250.6 311.9 L267.9 304.7 L279.4 297.5 L288.1 293.2 L299.6 290.9 L311.1 293.2 L322.6 296.1 L331.3 300.4 L348.6 310.5 L360.1 322.0 L371.6 336.4 L380.3 345.0 L384.6 340.7 L381.7 327.8 L388.9 319.1 L406.2 304.7 L420.6 296.1 L424.9 278.8 L423.5 264.4 L435.0 250.0 L443.8 243.3 L454.1 240.6 L469.7 239.2 L473.2 232.9 L487.0 232.9 L499.1 232.9 L512.9 224.3 L526.7 215.7 L540.6 205.3 L550.9 196.7 L563.0 194.9 L573.4 201.8 L574.4 208.8 L566.5 217.4 L557.8 222.6 L547.5 227.8 L550.9 236.4 L557.8 245.0 L571.7 243.3 L585.5 236.4 L599.3 231.2 L609.7 227.8 L602.8 220.9 L602.8 210.5 L611.4 204.6 L617.3 212.2 L620.0 226.0 L633.9 227.8 L647.7 231.2 L659.8 234.7 L668.4 241.6 L671.9 252.0 L678.8 258.9 L696.1 259.9 L709.9 257.8 L730.6 262.3 L750.0 266.8 L750.0 267.5 L770.7 274.4 L788.0 269.2 L801.8 262.3 L819.1 257.1 L839.9 253.7 L860.6 253.0 L883.1 253.0 L867.5 260.6 L864.1 269.2 L871.0 277.9 L888.2 281.3 L902.1 288.2 L915.9 298.6 L922.8 312.4 L928.0 322.8 L941.8 324.5 L953.9 333.2 L971.2 343.5 L988.5 357.4 L997.1 371.2 L1012.7 385.0 L1026.5 397.1 L1040.3 407.5 L1043.8 412.7 L1061.1 414.4 L1081.8 416.1 L1095.6 416.1 L1147.5 423.0 L1164.7 426.5 L1185.5 430.0 L1209.7 454.1 L1228.7 462.8 L1240.8 471.4 L1246.0 481.8 L1247.7 502.5 L1254.6 523.3 L1261.5 537.1 L1271.9 547.5 L1284.0 554.4 L1285.7 568.2 L1282.3 585.5 L1278.8 599.3 L1292.6 601.0 L1303.0 609.7 L1316.8 618.3 L1334.1 621.8 L1337.6 630.4 L1350.0 633.9 L1350.0 632.1 L1367.3 631.1 L1384.6 637.3 L1401.8 642.5 L1419.1 649.4 L1432.9 656.3 L1439.9 666.7 L1450.2 656.3 L1460.6 668.4 L1464.1 675.3 L1505.5 689.2 L1526.3 699.5 L1543.5 701.3 L1557.4 706.5 L1571.2 709.2 L1598.8 706.5 L1617.9 707.1 L1633.4 716.8 L1650.7 727.2 L1661.1 737.6 L1685.3 750.0 L1695.6 762.1 L1709.4 774.2 L1730.2 781.1 L1754.4 782.8 L1771.7 794.9 L1782.0 815.7 L1786.2 839.9 L1787.2 867.5 L1783.8 895.2 L1778.6 912.4 L1764.7 929.7 L1747.5 953.9 L1726.7 974.7 L1709.4 995.4 L1695.6 1019.6 L1681.8 1036.9 L1661.1 1054.1 L1653.5 1068.0 L1650.7 1095.6 L1650.7 1119.8 L1654.1 1140.6 L1649.0 1164.7 L1643.8 1192.4 L1643.8 1206.2 L1628.2 1225.2 L1624.8 1244.2 L1626.5 1261.5 L1619.6 1282.3 L1605.8 1299.5 L1591.9 1311.6 L1585.0 1330.6 L1581.6 1350.0 L1581.6 1350.0 L1564.3 1360.4 L1553.9 1374.2 L1543.5 1382.8 L1495.2 1384.6 L1464.1 1386.3 L1439.9 1401.8 L1432.9 1412.2 L1405.3 1415.7 L1384.6 1426.0 L1363.8 1439.9 L1350.0 1453.7 L1350.0 1462.3 L1337.6 1469.2 L1330.6 1484.8 L1334.1 1502.1 L1330.6 1529.7 L1327.2 1553.9 L1316.8 1571.2 L1299.5 1585.0 L1285.7 1595.4 L1275.3 1616.1 L1265.0 1636.9 L1247.7 1657.6 L1230.4 1671.4 L1213.1 1687.0 L1199.3 1709.4 L1188.9 1726.7 L1175.1 1744.0 L1161.3 1761.3 L1140.6 1773.4 L1112.9 1782.0 L1081.8 1783.8 L1061.1 1780.3 L1043.8 1773.4 L1023.0 1763.0 L1005.8 1754.4 L998.8 1737.1 L1001.6 1721.5 L996.1 1737.1 L1000.6 1756.1 L1019.6 1773.4 L1033.4 1787.2 L1043.8 1799.3 L1035.1 1811.4 L1042.1 1825.2 L1055.9 1830.4 L1059.3 1846.0 L1047.2 1865.0 L1030.0 1885.7 L1012.7 1899.5 L985.0 1909.9 L950.5 1920.3 L912.4 1925.5 L888.2 1927.2 L867.5 1922.0 L868.4 1962.2 L868.4 1976.0 L847.7 1986.4 L813.1 1991.6 L792.4 1979.5 L780.3 1976.0 L773.4 1986.4 L778.6 2003.7 L776.8 2017.5 L795.9 2027.9 L809.7 2021.0 L820.0 2021.0 L826.3 2033.1 L823.5 2045.2 L809.7 2046.9 L802.8 2038.2 L785.5 2040.0 L780.3 2045.2 L802.8 2050.3 L788.9 2057.3 L775.1 2069.4 L769.9 2083.2 L771.7 2100.5 L757.8 2107.4 L761.3 2116.0 L744.0 2117.7 L716.4 2126.4 L702.5 2138.5 L693.9 2155.8 L697.4 2169.6 L709.4 2180.0 L723.3 2186.9 L744.0 2188.6 L754.4 2197.2 L750.9 2211.1 L737.1 2214.5 L752.6 2216.2 L740.6 2226.6 L723.3 2233.5 L709.4 2245.6 L695.6 2256.0 L687.0 2262.9 L690.4 2276.7 L674.9 2287.1 L655.9 2297.5 L643.8 2307.8 L638.6 2321.7 L643.8 2335.5 L650.7 2349.3 L659.3 2361.4 L664.5 2364.9 L650.7 2363.8 L643.8 2375.2 L654.1 2371.8 L661.1 2375.2 L669.7 2389.1 L676.6 2397.7 L681.8 2408.1 L695.6 2418.4 L716.4 2428.8 L737.1 2439.2 L757.8 2442.6 L773.4 2443.3 L769.9 2453.0 L740.6 2456.5 L709.4 2461.6 L730.2 2466.8 L709.4 2473.7 L709.4 2484.1"/>
<path d="M519.4 2038.2 L515.9 2017.5 L529.7 2003.7 L534.9 1996.8 L519.4 2000.2 L509.0 2003.7 L495.2 2007.1 L486.5 2003.7 L479.6 1986.4 L484.8 1969.1 L488.2 1951.8 L492.2 1950.0 L502.5 1937.6 L502.5 1920.3 L495.6 1899.5 L490.4 1875.3 L490.4 1858.1 L504.3 1854.6 L509.4 1840.8 L519.8 1816.6 L528.5 1795.9 L542.3 1775.1 L547.5 1750.9 L557.8 1737.1 L554.4 1721.5 L561.3 1709.4 L561.3 1688.7 L557.8 1661.1 L556.1 1630.0 L564.7 1623.0 L568.2 1598.8 L563.0 1578.1 L571.7 1564.3 L578.6 1543.5 L580.3 1522.8 L588.9 1498.6 L588.9 1474.4 L597.6 1453.7 L594.1 1426.0 L595.9 1401.8 L592.4 1386.3 L601.0 1381.1 L606.2 1350.0 L607.9 1350.0 L607.9 1330.6 L606.2 1309.9 L607.9 1289.2 L604.5 1268.4 L599.3 1247.7 L601.0 1227.0 L599.3 1225.2 L585.5 1214.9 L569.9 1206.2 L561.3 1192.4 L540.6 1180.3 L519.8 1169.9 L499.1 1161.3 L478.3 1152.6 L457.6 1138.8 L436.9 1125.0 L423.0 1107.7 L407.5 1090.4 L398.8 1076.6 L404.0 1071.4 L402.3 1057.6 L391.9 1043.8 L381.6 1026.5 L371.2 1005.8 L357.4 991.9 L350.5 974.7 L338.4 950.5 L329.7 926.3 L319.4 903.8 L307.3 883.1 L295.2 864.1 L281.3 841.6 L264.1 827.8 L246.8 819.1 L238.1 812.2 L246.8 807.0 L248.5 800.1 L238.1 791.5 L241.6 779.4 L232.9 767.3 L234.7 750.0 L242.0 750.0 L253.5 733.9 L267.9 722.4 L276.6 707.9 L285.2 693.5 L282.3 682.0 L267.9 699.3 L253.5 693.5 L243.4 686.3 L249.2 682.0 L250.6 664.7 L247.8 650.3 L259.3 635.9 L262.2 624.4 L270.8 612.9 L276.6 598.5 L275.1 585.5 L288.1 578.3 L305.4 574.0 L316.9 566.8 L311.1 559.6 L321.2 552.4 L322.6 538.0 L331.3 527.9 L348.6 523.6 L354.3 515.0 L360.1 503.5 L368.7 489.1 L371.6 480.4 L365.9 471.8 L368.7 457.4 L365.9 440.1 L361.5 425.7 L365.9 411.3 L363.0 391.1 L357.2 379.6 L348.6 365.2 L339.9 350.8 L331.3 336.4 L319.8 319.1 L308.2 311.9 L296.7 311.9 L285.2 319.1 L267.9 333.5 L265.0 345.0 L270.8 350.8 L278.0 358.0 L265.0 366.6 L256.4 368.7 L246.3 368.1 L242.0 358.0 L233.4 358.9 L224.7 356.6 L219.0 342.2 L210.3 336.4 L198.8 333.5 L187.3 336.4 L178.6 342.2 L174.3 342.7"/>
<path d="M476.2 2010.6 L496.9 2012.3 L497.9 2024.4 L495.2 2038.2 L486.5 2062.4 L467.5 2062.4 L471.0 2038.2 L473.7 2021.0Z"/>
<path d="M903.8 2344.0 L912.4 2339.9 L922.8 2342.3 L929.7 2334.3 L940.1 2336.4 L945.3 2328.5 L957.4 2330.2 L968.4 2332.9 L971.2 2338.8 L961.5 2344.0 L953.9 2350.9 L943.5 2352.6 L938.4 2357.8 L926.3 2361.3 L915.9 2357.8 L910.7 2350.9Z"/>
<path d="M976.4 2332.9 L988.5 2328.5 L1000.6 2332.9 L1012.7 2331.9 L1021.3 2336.4 L1020.3 2344.7 L1007.5 2347.5 L997.1 2352.6 L988.5 2350.9 L979.8 2357.8 L971.2 2364.7 L959.1 2366.5 L953.9 2361.3 L961.5 2354.4 L971.2 2347.5 L978.1 2342.3Z"/>
<path d="M787.2 2447.1 L799.3 2445.4 L816.6 2444.4 L817.3 2448.8 L799.3 2450.6 L787.2 2451.6Z"/>
<path d="M798.4 242.6 L807.0 240.6 L815.7 238.1 L819.1 243.3 L812.2 248.5 L801.8 246.8Z"/>
<path d="M558.9 245.0 L561.3 253.7 L557.8 265.8 L569.9 274.4 L576.8 286.5 L573.4 302.1 L563.0 309.0 L552.6 305.5 L547.5 295.2 L542.3 283.1 L547.5 272.7 L555.1 265.8 L557.1 253.7Z"/>
<path d="M1256.2 1634.0 L1252.1 1646.1 L1241.7 1656.5 L1231.3 1666.8 L1219.2 1675.5 L1211.3 1687.6 L1208.9 1680.6 L1215.8 1670.3 L1227.9 1659.9 L1236.5 1649.5 L1243.4 1637.4Z"/>
<path d="M598.8 2388.0 L612.7 2383.9 L624.8 2381.1 L612.7 2390.8 L604.0 2397.7 L616.1 2399.4 L633.4 2397.7 L635.1 2406.3 L619.6 2408.1 L609.2 2415.0 L602.3 2408.1 L597.1 2397.7Z"/>
<path d="M585.0 2383.9 L592.6 2382.1 L590.2 2401.2 L582.3 2412.2 L579.5 2397.7Z"/>
<path d="M552.2 2388.0 L571.2 2380.4 L560.8 2390.8 L547.7 2394.9Z"/>
<path d="M498.4 303.5 L516.8 304.6 L523.7 323.0 L531.8 332.3 L529.5 348.4 L530.6 359.9 L538.7 366.8 L542.2 373.7 L551.4 377.2 L569.8 377.2 L585.9 374.9 L606.7 379.5 L618.2 394.5 L632.0 407.1 L643.5 404.8 L657.4 406.0 L671.2 403.7 L685.0 401.4 L694.2 402.5 L698.8 410.6 L691.9 419.8 L689.6 431.3 L685.0 440.6 L683.9 459.0 L687.3 475.1 L694.2 486.6 L702.3 498.2 L691.9 507.4 L683.9 516.6 L694.2 521.2 L703.5 532.7 L708.1 544.2 L711.5 555.8 L717.3 569.6"/>
<path d="M717.3 569.6 L736.9 586.9 L749.5 582.3 L758.8 578.8 L762.2 590.3 L770.3 581.1 L777.2 574.2 L788.7 569.6 L800.2 562.7 L809.4 558.1 L811.8 547.7 L823.3 541.9 L833.6 539.6 L833.6 530.4 L818.7 529.3 L811.8 527.0 L810.6 516.6 L806.0 505.1 L807.1 493.5 L797.9 482.0 L786.4 470.5 L791.0 472.8 L802.5 475.1 L814.1 479.7 L827.9 478.6 L841.7 482.0 L850.0 491.2"/>
<path d="M717.3 569.6 L710.4 571.9 L708.1 555.8 L701.2 537.3 L694.2 541.9 L685.0 548.8 L678.1 551.2 L672.4 544.2 L671.2 553.5 L618.2 554.6 L617.1 575.3 L638.9 576.5 L641.2 590.3 L629.7 588.0 L610.1 593.8 L610.1 618.0 L622.8 627.2 L627.4 636.4 L633.2 650.2 L629.7 673.3 L626.3 700.0"/>
<path d="M382.3 343.5 L371.2 348.7 L361.5 354.6 L356.3 359.1 L352.2 371.2"/>
<path d="M315.9 569.9 L336.6 582.0 L357.4 590.7 L371.2 599.3 L395.4 601.0 L402.3 597.6 L423.0 613.1 L436.9 616.6 L450.0 618.0"/>
<path d="M428.1 613.8 L438.5 627.6 L436.8 644.9 L428.1 665.7 L407.4 686.4 L379.7 700.2 L352.1 710.6 L338.2 721.0 L336.5 729.6 L327.9 745.2 L321.0 762.4 L310.6 779.7 L300.2 776.3 L293.3 762.4 L284.7 757.3 L274.3 752.1 L263.9 760.7 L262.2 752.1 L269.1 738.2 L269.1 724.4 L274.3 715.8"/>
<path d="M428.1 613.8 L441.9 615.6 L455.8 624.2 L466.1 634.6 L473.0 644.9 L486.9 651.8 L497.2 665.7 L505.9 674.3 L507.6 686.4 L518.0 693.3 L538.7 689.9 L552.5 684.7 L566.4 691.6 L580.2 688.1 L594.0 695.0 L609.6 702.0 L602.6 717.5 L590.6 740.0 L604.4 745.2 L614.7 753.8"/>
<path d="M627.2 703.7 L621.7 721.0 L614.7 753.8"/>
<path d="M614.7 753.8 L607.8 757.3 L590.6 752.1 L566.4 760.7 L545.6 769.4 L524.9 779.7 L514.5 790.1 L512.8 803.9 L504.1 817.7 L505.9 829.8 L493.8 838.5 L486.9 850.6 L480.0 859.2 L486.9 873.0 L493.8 890.3 L504.1 904.1 L512.8 916.2 L505.9 924.9 L531.8 930.1 L540.4 945.6 L569.8 945.6 L580.2 937.0 L594.0 928.3 L592.3 945.6 L592.3 980.2 L607.8 981.9 L628.6 978.5 L652.8 983.6 L673.5 978.5 L690.8 966.4 L708.1 952.5 L725.3 942.2 L739.2 937.0"/>
<path d="M486.9 850.6 L545.6 869.6 L600.9 885.1 L649.3 907.6 L690.8 923.2 L718.4 931.8 L739.2 937.0"/>
<path d="M628.6 978.5 L642.4 1004.4 L656.2 1032.0 L647.6 1045.9 L645.9 1070.0 L651.0 1083.9 L642.4 1097.7 L633.8 1111.5 L638.9 1128.8 L632.0 1149.5 L638.9 1166.8 L649.3 1172.0 L635.5 1187.6 L625.1 1200.0"/>
<path d="M953.9 331.5 L948.7 338.4 L933.2 348.7 L924.5 357.4 L928.0 369.5 L938.4 374.7 L929.7 382.3 L912.4 387.8 L907.3 398.8 L909.7 406.5 L901.4 414.4 L912.4 426.5 L922.8 438.6"/>
<path d="M922.8 438.6 L940.1 436.9 L947.7 443.8 L945.3 455.9 L957.4 464.5 L960.1 478.3 L962.6 482.5 L955.6 495.6 L952.2 514.6 L956.7 530.2 L953.9 547.5 L967.7 559.6 L985.0 571.0 L998.8 563.0 L1016.1 558.5 L1033.4 548.2 L1045.5 544.0 L1058.6 546.4"/>
<path d="M922.8 438.6 L926.3 445.5 L915.9 455.9 L895.2 462.8 L888.2 468.0 L871.0 473.2 L855.4 478.3 L850.2 489.4 L838.1 482.5 L819.1 474.2 L801.8 474.9 L784.6 470.7"/>
<path d="M834.7 533.6 L853.7 547.5 L860.6 568.2 L865.8 595.9 L872.7 623.5 L864.1 637.3 L881.3 654.6 L895.2 665.0 L893.4 640.8 L905.5 631.1 L922.8 634.6 L933.2 638.0 L938.4 616.6 L945.3 603.5 L985.0 602.8"/>
<path d="M985.0 571.0 L985.0 613.1 L991.9 633.9 L1005.8 651.2"/>
<path d="M1043.8 412.7 L1042.1 426.5 L1035.1 440.3 L1023.0 447.2 L1016.8 461.1 L1012.0 474.9 L1023.0 492.2 L1036.9 502.5 L1043.8 518.1 L1050.7 530.2 L1058.6 546.4"/>
<path d="M1147.5 423.0 L1134.3 443.8 L1131.9 461.1 L1138.8 478.3 L1147.5 492.2 L1141.2 512.9 L1138.8 530.2 L1133.6 536.4"/>
<path d="M1058.6 546.4 L1076.6 542.3 L1081.8 530.2 L1095.6 530.2 L1114.6 525.0 L1121.5 533.6 L1133.6 536.4 L1147.5 538.8 L1171.7 534.3 L1188.9 531.9 L1199.3 516.4 L1209.7 495.6 L1220.0 478.3 L1228.7 462.8"/>
<path d="M1121.5 533.6 L1123.3 550.9 L1140.6 557.8 L1161.3 564.7 L1169.9 585.5 L1180.3 599.3 L1192.4 630.4 L1199.3 644.2 L1213.1 651.2 L1223.5 644.2 L1233.9 627.0 L1240.8 613.1"/>
<path d="M1005.8 651.4 L1012.7 654.8 L1026.5 663.1 L1043.8 670.7 L1057.6 684.6 L1076.6 681.1 L1066.2 691.5 L1047.2 739.9 L1026.5 788.2 L1005.8 829.7 L998.8 838.4 L1005.8 853.9 L1009.2 860.8"/>
<path d="M1009.2 860.8 L1004.0 878.1 L1002.3 905.8 L896.9 907.5"/>
<path d="M1009.2 860.8 L1019.6 878.1 L1026.5 898.8 L1043.8 917.9 L1055.9 926.5 L1271.9 942.1"/>
<path d="M896.9 907.5 L888.2 904.0 L877.9 909.2 L867.5 895.4 L853.7 879.8 L826.0 878.8 L812.2 898.8 L800.1 912.7 L782.8 916.1 L763.8 926.5 L750.0 931.7 L739.6 936.9"/>
<path d="M896.9 907.5 L891.7 926.5 L896.9 950.7 L895.2 980.1 L936.6 981.1 L948.7 985.3 L943.5 1002.5 L953.9 1025.0 L943.5 1040.6 L938.4 1057.8 L924.5 1069.9"/>
<path d="M739.6 937.6 L750.0 936.9 L767.3 936.9 L765.6 961.1 L770.7 995.6 L784.6 1016.4 L805.3 1028.5 L829.5 1033.6 L853.7 1047.5 L874.4 1056.1 L888.2 1064.7 L909.0 1064.7 L924.5 1069.9 L933.2 1082.0 L938.4 1102.8 L938.4 1118.3 L928.0 1118.3 L938.4 1130.4 L940.8 1157.4 L1002.3 1158.8"/>
<path d="M1271.9 942.1 L1265.0 968.0 L1258.1 999.1 L1259.8 1026.7 L1261.5 1042.3 L1254.6 1064.7 L1249.4 1095.9"/>
<path d="M1271.9 942.1 L1282.3 919.6 L1299.5 891.9 L1309.9 871.2 L1303.0 857.4 L1309.9 843.5 L1330.6 826.3 L1337.6 809.0 L1344.5 795.2 L1325.5 790.0 L1350.0 771.0"/>
<path d="M1261.5 1042.3 L1275.3 1026.7 L1271.9 1040.6 L1289.2 1047.5 L1303.0 1056.1 L1306.5 1044.0 L1316.8 1040.6 L1330.6 1054.4 L1350.0 1057.8"/>
<path d="M1410.6 648.4 L1403.7 669.1 L1400.2 689.9 L1393.3 714.1 L1382.9 738.2 L1369.1 755.5 L1348.4 772.8 L1324.2 790.1"/>
<path d="M1324.2 790.1 L1344.9 783.9 L1363.9 791.8 L1369.1 821.2 L1357.0 854.0 L1386.4 878.2 L1400.2 885.1 L1382.9 912.8 L1395.0 930.1 L1402.0 945.6 L1419.2 954.3"/>
<path d="M1555.8 703.7 L1548.8 717.5 L1529.8 729.6 L1524.7 745.2 L1516.0 755.5 L1521.2 772.8 L1514.3 793.5 L1512.6 807.4 L1519.5 821.2 L1517.7 836.8 L1493.5 838.5 L1472.8 848.8 L1452.1 860.9 L1433.1 869.6 L1427.9 886.9 L1417.5 907.6 L1417.5 924.9 L1422.7 942.2 L1419.2 954.3"/>
<path d="M1419.2 954.3 L1429.6 952.5 L1436.5 969.8 L1452.1 976.7 L1465.9 969.8 L1479.7 959.4 L1490.1 949.1 L1488.4 933.5 L1500.5 923.2 L1514.3 926.6 L1524.7 933.5 L1541.9 924.9 L1562.7 912.8 L1576.5 904.1"/>
<path d="M1419.2 954.3 L1403.7 975.0 L1396.1 990.6 L1403.7 1002.6 L1403.0 1025.1 L1407.8 1045.9 L1405.4 1070.0 L1414.1 1090.8 L1415.8 1111.5 L1412.3 1120.2"/>
<path d="M1573.0 709.9 L1569.6 721.0 L1576.5 745.2 L1578.2 772.8 L1585.1 793.5 L1590.3 821.2 L1600.7 838.5 L1602.4 848.8 L1599.0 859.2 L1593.8 866.1 L1599.0 880.0 L1592.1 893.8 L1576.5 904.1"/>
<path d="M1599.0 859.2 L1618.0 857.5 L1631.8 857.5 L1645.6 873.0 L1659.4 869.6"/>
<path d="M1700.9 765.9 L1690.6 786.6 L1683.6 807.4 L1666.4 824.7 L1661.2 841.9 L1664.6 855.8 L1659.4 869.6"/>
<path d="M1666.4 824.7 L1683.6 829.8 L1697.5 821.2 L1711.3 814.3 L1702.6 835.0 L1714.7 838.5 L1728.6 841.9 L1732.0 828.1 L1742.4 824.7 L1763.1 828.1 L1783.9 829.8 L1801.2 828.8"/>
<path d="M1659.4 869.6 L1680.2 873.0 L1697.5 862.7 L1714.7 857.5 L1707.8 876.5 L1718.2 888.6 L1735.5 876.5 L1756.2 869.6 L1783.9 862.7 L1802.9 857.5"/>
<path d="M1576.5 904.1 L1586.9 914.5 L1592.1 928.3 L1604.1 924.9 L1618.0 907.6 L1637.0 899.0 L1649.1 905.9 L1662.9 909.3 L1673.3 921.4 L1678.5 926.6"/>
<path d="M1678.5 926.6 L1690.6 911.1 L1704.4 918.0 L1718.2 923.2 L1738.9 919.7 L1756.2 909.3 L1783.9 907.6"/>
<path d="M1678.5 926.6 L1697.5 935.3 L1714.7 945.6 L1732.0 956.0 L1745.9 949.1"/>
<path d="M1678.5 926.6 L1683.6 940.4 L1690.6 959.4 L1688.8 971.5 L1676.7 973.3 L1687.1 990.6 L1697.5 999.2 L1706.1 995.7"/>
<path d="M1412.3 1120.2 L1427.9 1111.5 L1452.1 1097.7 L1469.4 1089.1 L1486.6 1092.5 L1490.1 1102.9"/>
<path d="M1279.3 1042.4 L1300.0 1045.9 L1313.8 1040.7 L1331.1 1056.2 L1358.8 1059.7 L1379.5 1049.3 L1405.4 1045.9"/>
<path d="M1412.3 1120.2 L1400.2 1106.3 L1386.4 1115.0 L1384.7 1132.3 L1369.1 1153.0 L1374.3 1173.7 L1365.7 1200.0"/>
<path d="M1250.3 1100.0 L1238.2 1113.8 L1227.9 1120.7 L1217.5 1138.0 L1203.7 1144.9 L1193.3 1158.8 L1182.9 1172.6 L1174.3 1189.9 L1174.3 1207.1 L1181.2 1224.4 L1186.4 1236.5 L1214.1 1248.6 L1238.2 1257.3 L1250.3 1264.2"/>
<path d="M1250.3 1264.2 L1265.9 1241.7 L1293.5 1231.3 L1321.2 1224.4 L1352.3 1229.6 L1373.0 1215.8 L1374.8 1200.2 L1366.1 1200.2"/>
<path d="M1250.3 1264.2 L1246.9 1283.2 L1234.8 1297.0 L1221.0 1321.2 L1210.6 1341.9 L1193.3 1355.8 L1179.5 1367.9 L1160.5 1383.4 L1150.1 1397.2 L1138.0 1416.2"/>
<path d="M1250.3 1264.2 L1248.6 1279.7 L1262.4 1276.3 L1286.6 1279.7 L1303.9 1281.5 L1307.4 1290.1 L1316.0 1293.5 L1319.5 1286.6 L1341.9 1284.9 L1355.8 1279.7 L1369.6 1283.2 L1376.5 1303.9 L1380.0 1324.7 L1393.8 1329.8 L1397.2 1341.9 L1392.1 1355.8 L1404.1 1369.6 L1405.9 1376.5 L1424.9 1374.8"/>
<path d="M1424.9 1374.8 L1421.4 1367.9 L1438.7 1366.1 L1459.4 1359.2 L1480.2 1354.0 L1500.9 1350.6 L1521.7 1347.1 L1538.9 1338.5 L1545.9 1321.2 L1554.5 1307.4 L1556.2 1293.5 L1566.6 1288.4 L1573.5 1272.8 L1583.9 1255.5 L1578.7 1241.7 L1582.1 1227.9 L1578.7 1217.5 L1597.7 1210.6 L1608.1 1210.6 L1627.1 1222.7"/>
<path d="M1554.5 1307.4 L1559.7 1317.7 L1583.9 1324.0"/>
<path d="M1487.1 1100.0 L1497.5 1105.2 L1514.7 1103.5 L1535.5 1113.8 L1556.2 1120.7 L1571.8 1134.6 L1583.9 1138.0 L1597.7 1136.3 L1611.5 1144.9 L1621.9 1151.8 L1615.0 1169.1 L1606.3 1176.0 L1597.7 1186.4 L1597.7 1196.8 L1608.1 1210.6"/>
<path d="M1179.5 1367.9 L1200.2 1367.9 L1217.5 1373.0 L1238.2 1374.8 L1255.5 1380.0 L1283.2 1380.0 L1293.5 1390.3 L1297.0 1407.6 L1307.4 1424.9 L1307.4 1437.0 L1324.7 1438.7 L1331.6 1449.1 L1341.9 1452.5 L1347.1 1457.7"/>
<path d="M1127.6 1476.7 L1143.2 1466.4 L1151.8 1473.3 L1155.3 1490.6 L1176.0 1494.0 L1203.7 1499.2 L1234.8 1502.6 L1238.2 1494.0 L1252.1 1490.6 L1262.4 1483.6 L1283.2 1483.6 L1297.0 1488.8 L1307.4 1483.6 L1329.8 1481.9"/>
<path d="M1155.3 1490.6 L1158.8 1514.7 L1155.3 1519.9 L1179.5 1521.7 L1203.7 1526.8 L1224.4 1532.0 L1245.2 1542.4 L1255.5 1556.2 L1272.8 1564.9 L1290.1 1566.6 L1286.6 1577.0 L1281.5 1590.8 L1290.1 1592.5"/>
<path d="M1155.3 1519.9 L1134.6 1528.6 L1113.8 1538.9 L1100.0 1549.3"/>
<path d="M624.9 1200.1 L627.6 1201.8 L615.6 1205.3 L617.3 1219.1 L600.0 1224.3"/>
<path d="M625.9 1194.9 L638.0 1212.2 L643.2 1229.5 L648.4 1253.7 L662.2 1262.3 L655.3 1281.3 L663.9 1302.1 L669.1 1322.8 L677.8 1353.9 L684.7 1378.1 L703.7 1378.1 L710.6 1385.0"/>
<path d="M710.6 1385.0 L712.3 1367.7 L721.0 1357.4 L736.5 1353.9 L741.7 1345.3 L752.1 1353.9 L786.6 1353.9 L795.3 1364.3 L802.2 1378.1 L816.0 1348.7 L854.0 1349.4"/>
<path d="M710.6 1385.0 L703.7 1416.1 L679.5 1424.8 L663.9 1433.4 L658.8 1450.7 L663.9 1457.6 L660.5 1478.3 L665.7 1495.6 L658.8 1509.4 L667.4 1516.4 L648.4 1523.3 L641.5 1540.6 L624.2 1564.7 L613.8 1592.4 L615.6 1623.5 L606.9 1633.9 L600.0 1651.2"/>
<path d="M854.0 1349.4 L869.6 1300.3 L886.9 1269.2 L945.6 1257.8 L976.7 1258.9 L1009.6 1273.7"/>
<path d="M1000.9 1156.9 L999.2 1177.6 L1007.8 1191.5 L1019.9 1200.1 L1026.8 1212.2 L1031.3 1220.9 L1021.7 1250.2 L1009.6 1273.7"/>
<path d="M1009.6 1273.7 L1018.2 1281.3 L1007.8 1284.8 L1014.7 1305.5 L1018.2 1322.8 L1014.7 1348.7 L1032.0 1353.9 L1063.1 1353.9 L1087.3 1359.1 L1094.2 1381.6 L1099.4 1405.8 L1104.6 1414.4 L1121.9 1412.7 L1137.4 1416.1"/>
<path d="M1026.8 1212.2 L1042.4 1207.0 L1056.2 1193.2 L1077.0 1188.0 L1097.7 1194.9 L1111.5 1201.8 L1132.3 1200.1 L1149.5 1201.8 L1157.1 1189.7 L1157.1 1207.0 L1149.5 1212.2 L1170.3 1213.9"/>
<path d="M854.0 1349.4 L866.1 1364.3 L876.5 1378.1 L893.8 1395.4 L911.1 1407.5 L931.8 1416.1 L952.5 1419.6 L973.3 1431.7 L994.0 1442.1 L1014.7 1450.7 L1021.7 1461.1 L1018.2 1476.6 L1009.6 1490.4 L1006.1 1506.0 L994.0 1523.3 L1014.7 1525.0 L1035.5 1530.2 L1049.3 1531.9 L1066.6 1526.7 L1087.3 1528.5 L1097.7 1519.8 L1111.5 1512.9 L1120.2 1499.1 L1127.1 1481.8 L1127.1 1469.7 L1135.7 1450.7 L1137.4 1416.1"/>
<path d="M1127.1 1469.7 L1142.6 1466.2 L1153.0 1474.9 L1156.5 1490.4 L1158.2 1509.4 L1154.7 1519.8 L1139.2 1526.7 L1121.9 1533.6 L1108.1 1544.0 L1090.8 1561.3 L1073.5 1578.6 L1059.7 1595.9 L1042.4 1611.4 L1026.8 1623.5"/>
<path d="M1026.8 1623.5 L1018.2 1633.9 L1016.5 1658.1 L1011.3 1682.3 L1007.8 1703.0 L1011.3 1723.7 L1000.9 1737.6 L997.5 1750.0"/>
<path d="M1026.8 1623.5 L1049.3 1618.3 L1063.1 1630.4 L1080.4 1642.5 L1083.9 1651.2 L1094.2 1646.0 L1108.1 1658.1 L1128.8 1670.2 L1142.6 1684.0 L1156.5 1696.1 L1166.8 1709.9 L1184.1 1716.8"/>
<path d="M600.0 1651.0 L594.1 1661.1 L599.3 1681.8 L607.9 1706.0 L618.3 1730.2 L616.6 1757.8 L602.8 1778.6 L595.9 1795.9 L599.3 1816.6 L585.5 1833.9 L575.1 1851.2 L578.6 1878.8 L582.0 1903.0 L564.7 1916.8 L559.6 1937.6 L554.4 1950.0"/>
<path d="M585.0 1900.0 L581.6 1908.6 L566.0 1913.8 L566.0 1934.6 L557.4 1938.0 L553.9 1962.2 L548.7 1979.5 L550.5 2021.0 L541.8 2027.9 L541.8 2052.1 L553.9 2062.4 L557.4 2086.6 L552.2 2098.7 L574.7 2100.5 L571.2 2110.8 L545.3 2112.6 L564.3 2119.5 L567.7 2129.8 L557.4 2138.5 L553.9 2155.8 L550.5 2176.5 L548.7 2193.8 L536.6 2200.7 L529.7 2224.9 L531.5 2233.5 L521.1 2249.1 L512.4 2259.4 L495.2 2266.4 L493.4 2280.2 L498.6 2294.0 L507.3 2309.6 L522.8 2307.8 L534.9 2309.6 L536.6 2335.5 L547.0 2352.8 L626.5 2352.8 L636.9 2357.9 L664.5 2364.9"/>
<path d="M658.6 2375.2 L658.6 2447.8"/>
<path d="M1184.0 1717.0 L1178.0 1706.0 L1186.0 1692.0 L1192.0 1690.0 L1186.0 1704.0 L1172.0 1716.0 L1165.0 1730.0 L1166.0 1741.0"/>
</g>
<g fill="none" stroke="#000" stroke-width="1.5" stroke-linejoin="round">
<path d="M506.1 2116.0 L506.6 2117.3 L506.0 2118.7 L504.4 2118.3 L503.4 2117.9 L502.2 2117.6 L502.1 2116.4 L501.8 2115.2 L503.1 2114.8 L503.9 2113.7 L505.5 2113.4 L506.4 2114.7 L506.1 2116.0 M474.8 2285.7 L475.3 2285.4 L476.4 2285.6 L478.0 2288.1 L479.7 2290.1 L480.6 2292.0 L480.0 2292.4 L479.4 2292.6 L477.7 2290.7 L476.4 2289.3 L475.2 2287.7 L473.7 2285.4 L474.8 2285.7 M496.3 2387.6 L496.8 2387.3 L497.8 2388.2 L498.8 2389.2 L499.6 2390.5 L499.3 2391.1 L499.6 2392.3 L498.7 2391.8 L497.9 2391.4 L496.7 2390.6 L496.3 2389.2 L495.4 2387.5 L496.3 2387.6 M440.4 2285.8 L441.1 2286.2 L441.7 2287.5 L440.6 2289.6 L440.1 2291.1 L439.4 2292.4 L438.4 2293.7 L438.3 2291.7 L437.4 2291.1 L438.1 2289.0 L438.6 2286.9 L439.6 2285.4 L440.4 2285.8 M474.0 2168.7 L475.7 2171.1 L476.8 2171.5 L478.0 2173.6 L479.3 2176.4 L479.4 2178.6 L478.9 2179.9 L477.3 2178.0 L476.1 2177.0 L475.0 2174.9 L473.5 2172.2 L473.2 2169.7 L474.0 2168.7 M457.5 2123.6 L458.4 2124.9 L459.0 2125.5 L459.5 2126.7 L460.1 2128.1 L460.2 2129.4 L459.6 2129.5 L459.0 2129.0 L458.3 2129.1 L457.5 2127.4 L457.3 2125.8 L457.2 2124.4 L457.5 2123.6 M535.5 2412.7 L537.0 2413.6 L539.1 2417.9 L541.5 2421.4 L541.9 2425.6 L542.3 2428.7 L542.2 2430.9 L540.8 2429.8 L539.0 2427.7 L537.4 2423.0 L536.3 2419.3 L535.5 2415.6 L535.5 2412.7 M447.0 2204.6 L447.6 2205.2 L447.9 2206.3 L447.4 2207.7 L446.4 2208.4 L445.3 2210.0 L443.8 2210.0 L443.6 2208.3 L443.4 2207.0 L444.4 2205.9 L445.1 2205.0 L446.1 2204.2 L447.0 2204.6 M486.2 2403.9 L487.2 2403.5 L487.8 2402.9 L489.0 2402.8 L490.1 2403.4 L490.3 2404.2 L490.8 2404.9 L489.8 2405.2 L489.5 2406.1 L488.4 2405.8 L487.1 2405.6 L487.0 2404.7 L486.2 2403.9 M475.7 2269.4 L476.7 2270.0 L478.1 2275.5 L479.3 2282.1 L480.0 2288.6 L480.0 2293.0 L479.0 2291.4 L478.3 2291.9 L477.3 2287.5 L476.6 2282.5 L476.2 2278.5 L475.8 2274.2 L475.7 2269.4 M489.5 2340.1 L489.8 2342.4 L491.1 2343.8 L488.9 2347.1 L487.9 2349.2 L486.6 2351.7 L485.4 2351.6 L484.3 2350.9 L483.3 2349.2 L484.7 2345.6 L486.5 2344.0 L487.9 2339.9 L489.5 2340.1 M450.8 2276.5 L454.9 2279.7 L455.8 2279.4 L460.7 2284.5 L465.8 2288.9 L465.3 2289.5 L466.7 2291.4 L466.6 2292.1 L463.9 2290.4 L459.3 2286.0 L455.2 2282.1 L451.2 2277.9 L450.8 2276.5 M546.2 2415.2 L549.4 2418.2 L550.9 2419.2 L554.1 2422.4 L557.0 2426.0 L558.2 2428.1 L559.2 2430.0 L558.1 2429.5 L555.9 2427.8 L552.6 2423.6 L549.5 2420.2 L548.5 2418.4 L546.2 2415.2 M485.0 2375.0 L488.6 2377.3 L489.9 2377.8 L492.7 2379.3 L495.4 2381.9 L496.0 2383.1 L496.6 2384.1 L496.3 2384.6 L494.4 2383.8 L491.2 2381.2 L489.0 2379.2 L486.7 2377.0 L485.0 2375.0 M475.4 2240.2 L475.8 2240.9 L474.5 2242.2 L473.5 2244.0 L471.0 2245.5 L468.6 2246.3 L469.1 2244.6 L467.7 2244.3 L469.1 2242.5 L471.5 2241.2 L473.7 2239.0 L476.2 2238.2 L475.4 2240.2 M465.0 2234.5 L464.2 2235.4 L463.7 2236.3 L462.0 2237.1 L460.1 2237.5 L458.1 2237.6 L458.0 2236.6 L457.9 2235.7 L459.4 2234.8 L460.9 2233.4 L462.6 2234.0 L465.3 2233.2 L465.0 2234.5 M443.5 2167.6 L443.7 2168.3 L443.1 2169.2 L441.3 2169.5 L439.9 2168.8 L439.2 2168.4 L437.4 2167.9 L438.4 2167.0 L439.4 2166.3 L441.1 2166.6 L442.2 2166.7 L444.0 2166.7 L443.5 2167.6 M452.0 2274.2 L453.2 2274.0 L454.9 2273.2 L455.6 2274.6 L455.8 2276.0 L454.9 2277.1 L454.2 2278.2 L452.9 2278.9 L451.8 2278.0 L450.2 2277.7 L449.6 2276.2 L451.4 2275.2 L452.0 2274.2 M494.0 2238.6 L494.8 2239.4 L489.0 2241.8 L484.2 2243.8 L478.4 2245.8 L472.4 2247.2 L474.2 2245.4 L472.5 2244.9 L477.2 2242.5 L483.0 2240.3 L488.1 2239.1 L491.6 2238.6 L494.0 2238.6 M484.4 2116.3 L486.0 2117.6 L487.3 2118.9 L488.4 2120.7 L489.1 2123.1 L488.4 2124.4 L487.9 2126.1 L486.5 2125.4 L484.6 2125.5 L483.1 2122.6 L483.2 2119.8 L484.0 2118.4 L484.4 2116.3 M490.1 2089.6 L490.6 2090.4 L489.6 2091.0 L489.4 2092.3 L488.1 2092.4 L487.5 2091.4 L486.2 2091.2 L486.2 2090.1 L486.9 2089.2 L487.7 2088.4 L488.9 2088.3 L489.7 2088.8 L490.1 2089.6 M544.6 2431.1 L546.6 2431.1 L550.3 2433.9 L554.2 2436.8 L557.1 2440.9 L558.9 2444.3 L557.1 2444.4 L555.1 2443.6 L553.1 2442.6 L550.2 2440.5 L548.3 2437.5 L544.4 2433.1 L544.6 2431.1 M441.8 2164.1 L441.3 2164.9 L440.8 2165.9 L439.0 2166.0 L437.3 2167.0 L436.7 2166.2 L436.6 2165.6 L435.8 2165.1 L437.2 2164.4 L438.2 2163.6 L439.6 2163.5 L441.2 2163.4 L441.8 2164.1 M452.6 2248.2 L453.2 2247.7 L454.3 2250.9 L455.2 2257.0 L456.0 2262.3 L456.7 2268.0 L456.5 2271.2 L455.2 2266.9 L454.1 2262.1 L453.3 2257.3 L452.3 2252.0 L452.3 2249.1 L452.6 2248.2 M441.8 2263.2 L442.4 2264.3 L440.9 2266.8 L440.3 2268.1 L439.4 2270.3 L438.3 2270.4 L437.3 2270.6 L436.5 2270.1 L436.7 2268.5 L437.9 2266.7 L439.0 2265.6 L440.2 2264.3 L441.8 2263.2 M547.1 2423.6 L547.6 2423.3 L548.9 2423.4 L550.1 2423.8 L551.4 2424.2 L552.2 2424.8 L553.3 2425.7 L551.5 2425.4 L551.2 2426.0 L549.5 2425.7 L548.6 2424.8 L546.6 2424.1 L547.1 2423.6 M602.7 2435.7 L602.1 2435.1 L604.9 2434.8 L606.3 2434.0 L608.6 2434.0 L610.5 2434.3 L609.9 2435.0 L609.0 2435.5 L608.7 2436.2 L606.5 2436.6 L604.9 2436.3 L602.1 2436.5 L602.7 2435.7 M477.4 2083.3 L477.1 2084.7 L475.1 2086.4 L473.2 2087.5 L470.9 2089.7 L470.1 2088.7 L468.4 2088.9 L468.8 2087.7 L469.9 2086.3 L471.5 2084.6 L474.2 2082.9 L475.3 2083.7 L477.4 2083.3 M461.6 2115.2 L462.8 2116.1 L464.1 2117.0 L464.9 2120.4 L465.5 2123.4 L464.9 2124.9 L464.2 2125.5 L463.4 2126.3 L462.2 2123.8 L461.3 2121.3 L460.2 2117.9 L461.2 2116.9 L461.6 2115.2 M469.0 2161.4 L471.9 2163.6 L473.2 2163.9 L475.4 2165.9 L477.9 2168.6 L477.7 2169.7 L477.8 2170.8 L476.8 2170.6 L475.3 2169.9 L473.2 2168.0 L470.5 2165.3 L469.3 2163.0 L469.0 2161.4 M454.6 2158.0 L455.5 2158.4 L454.0 2159.3 L453.2 2160.0 L452.0 2160.9 L451.6 2160.3 L450.5 2160.4 L449.9 2159.9 L451.3 2158.9 L452.2 2158.2 L453.4 2157.3 L454.1 2157.8 L454.6 2158.0 M427.7 2225.4 L428.2 2225.7 L428.0 2226.7 L427.6 2227.6 L427.2 2228.6 L426.4 2229.4 L426.0 2228.7 L425.9 2228.1 L425.7 2227.6 L425.9 2226.7 L426.4 2225.7 L427.0 2225.7 L427.7 2225.4 M475.9 2368.2 L476.8 2368.8 L478.0 2370.9 L479.3 2375.0 L480.4 2380.6 L479.2 2381.3 L478.8 2383.7 L477.7 2381.9 L476.3 2381.4 L475.8 2375.7 L475.5 2372.4 L475.5 2369.9 L475.9 2368.2 M509.4 2125.6 L508.8 2127.3 L507.9 2129.2 L506.4 2131.5 L504.8 2133.4 L503.8 2134.2 L502.6 2135.2 L502.5 2134.6 L502.4 2133.4 L504.9 2130.5 L506.8 2127.1 L507.7 2127.2 L509.4 2125.6 M510.4 2396.3 L511.7 2398.0 L512.6 2398.6 L513.8 2400.9 L514.6 2403.0 L515.5 2405.5 L514.9 2405.8 L514.2 2405.8 L512.9 2403.6 L511.7 2401.9 L510.9 2399.6 L510.6 2398.0 L510.4 2396.3 M537.3 2393.5 L538.7 2392.5 L539.8 2391.8 L541.1 2390.6 L542.7 2391.5 L543.3 2392.7 L544.4 2393.7 L543.3 2394.7 L542.2 2395.4 L541.0 2395.2 L539.2 2395.9 L537.7 2395.0 L537.3 2393.5 M582.5 2454.3 L583.1 2453.5 L583.6 2452.6 L585.1 2451.8 L586.9 2451.2 L588.3 2451.3 L587.8 2452.2 L588.3 2452.7 L586.9 2453.4 L586.2 2454.5 L584.7 2454.4 L583.2 2454.8 L582.5 2454.3 M464.6 2148.4 L462.4 2150.7 L461.5 2152.0 L460.0 2154.0 L457.5 2154.9 L456.1 2155.2 L455.3 2155.0 L454.0 2154.9 L455.9 2153.0 L457.6 2150.8 L460.8 2148.9 L463.7 2147.7 L464.6 2148.4 M493.8 2082.1 L492.3 2085.5 L491.6 2087.3 L490.7 2089.7 L488.4 2092.6 L486.6 2091.9 L484.6 2092.4 L483.4 2091.3 L484.3 2088.6 L486.3 2085.7 L488.9 2084.5 L490.8 2083.7 L493.8 2082.1 M487.0 2155.6 L488.0 2156.2 L489.0 2156.1 L490.7 2159.4 L491.7 2161.9 L492.3 2164.1 L493.1 2166.9 L491.3 2165.0 L489.7 2162.8 L487.9 2160.9 L486.7 2157.9 L485.4 2154.6 L487.0 2155.6 M447.3 2249.8 L448.4 2249.9 L448.4 2252.2 L448.0 2254.6 L447.7 2258.5 L445.7 2259.5 L443.7 2261.1 L443.4 2258.1 L442.2 2256.6 L443.5 2253.2 L444.9 2250.9 L446.3 2247.7 L447.3 2249.8 M477.0 2206.8 L478.8 2206.6 L479.8 2208.1 L479.4 2210.0 L478.4 2211.5 L476.7 2211.6 L475.3 2211.4 L473.9 2210.9 L474.2 2209.3 L474.4 2208.1 L474.5 2206.6 L475.9 2205.9 L477.0 2206.8 M524.9 2388.7 L525.7 2388.3 L526.9 2387.8 L527.9 2389.1 L528.4 2390.4 L528.5 2391.6 L528.7 2393.4 L527.0 2392.8 L525.8 2392.8 L524.8 2391.6 L524.1 2390.4 L523.3 2388.8 L524.9 2388.7 M469.7 2360.5 L470.4 2360.2 L471.1 2360.2 L472.2 2360.2 L472.5 2361.2 L473.1 2362.2 L472.0 2362.6 L471.4 2362.9 L470.7 2363.0 L469.5 2363.1 L469.2 2362.0 L468.9 2361.0 L469.7 2360.5 M465.2 2197.9 L466.5 2198.3 L467.4 2199.6 L467.3 2201.5 L465.4 2201.9 L464.2 2202.3 L462.5 2203.4 L461.2 2202.3 L461.5 2200.3 L462.4 2199.2 L462.4 2197.0 L464.1 2197.3 L465.2 2197.9 M524.4 2409.9 L525.0 2408.4 L526.1 2410.2 L527.0 2411.1 L527.1 2412.3 L528.0 2414.3 L527.0 2415.1 L525.6 2414.1 L524.3 2414.5 L523.2 2413.0 L522.9 2411.3 L523.1 2409.8 L524.4 2409.9 M532.9 2403.1 L534.9 2404.8 L537.2 2407.0 L540.3 2412.1 L542.8 2416.8 L542.8 2418.5 L544.8 2423.1 L542.9 2421.6 L540.1 2417.6 L537.1 2414.1 L534.0 2408.4 L533.3 2405.5 L532.9 2403.1 M464.5 2251.1 L465.0 2250.3 L466.4 2251.2 L467.7 2252.1 L467.8 2253.4 L468.1 2254.4 L468.7 2256.1 L467.2 2255.5 L466.1 2255.6 L465.3 2254.1 L463.9 2253.0 L463.4 2251.5 L464.5 2251.1 M490.9 2187.6 L491.6 2187.7 L492.5 2189.4 L493.6 2191.0 L493.9 2193.1 L494.0 2194.7 L493.8 2196.1 L492.6 2194.1 L491.7 2194.3 L491.0 2191.9 L490.6 2190.0 L490.2 2187.8 L490.9 2187.6 M459.5 2363.7 L459.8 2362.8 L463.4 2364.9 L466.5 2366.9 L468.7 2369.2 L469.2 2370.3 L469.6 2371.2 L469.0 2371.5 L467.7 2371.5 L464.7 2369.3 L461.9 2367.1 L459.0 2364.4 L459.5 2363.7 M455.1 2147.1 L455.1 2147.8 L455.2 2148.5 L454.7 2149.4 L453.9 2150.0 L453.2 2150.2 L452.8 2149.9 L452.4 2149.7 L452.2 2149.0 L453.1 2148.2 L453.7 2147.7 L454.5 2146.7 L455.1 2147.1 M625.6 2466.3 L626.0 2464.6 L627.9 2462.6 L631.2 2460.8 L634.5 2459.7 L636.3 2460.3 L636.8 2461.2 L636.8 2462.3 L635.2 2463.7 L633.2 2465.2 L630.5 2466.0 L626.1 2467.8 L625.6 2466.3 M446.8 2310.1 L447.5 2309.8 L447.8 2311.1 L448.0 2312.6 L447.8 2314.4 L447.0 2314.7 L446.5 2315.2 L446.0 2314.8 L445.8 2313.6 L445.1 2312.4 L445.5 2310.7 L446.1 2309.6 L446.8 2310.1 M478.4 2094.4 L479.2 2094.7 L479.8 2095.5 L479.5 2096.8 L479.3 2097.6 L479.2 2098.7 L478.5 2099.1 L477.8 2098.8 L477.2 2098.1 L476.9 2096.9 L477.5 2096.0 L477.6 2094.7 L478.4 2094.4 M474.3 2117.9 L474.7 2119.0 L475.7 2120.4 L474.3 2121.8 L472.9 2122.7 L471.3 2122.8 L469.6 2122.5 L469.7 2120.7 L469.2 2119.1 L470.3 2117.7 L471.8 2116.6 L473.3 2117.1 L474.3 2117.9 M468.6 2087.9 L470.1 2089.9 L472.1 2094.3 L474.0 2099.4 L476.5 2105.3 L477.4 2109.2 L476.6 2108.7 L475.7 2107.9 L474.0 2104.4 L472.2 2100.1 L469.5 2093.7 L470.3 2093.4 L468.6 2087.9 M609.6 2433.2 L612.3 2433.7 L616.6 2436.3 L619.7 2437.6 L623.2 2440.1 L626.9 2443.1 L625.6 2443.5 L625.5 2444.7 L621.7 2443.0 L617.9 2440.4 L613.0 2437.8 L613.4 2436.5 L609.6 2433.2 M613.4 2471.0 L613.5 2470.1 L615.3 2468.5 L618.7 2466.7 L622.1 2464.8 L623.7 2464.8 L624.8 2464.8 L623.2 2466.2 L623.0 2467.2 L620.0 2469.1 L617.5 2469.7 L615.9 2470.2 L613.4 2471.0 M507.6 2093.0 L506.7 2093.7 L505.8 2094.1 L504.6 2094.2 L503.4 2093.9 L503.1 2092.9 L501.7 2092.0 L502.8 2091.2 L503.7 2090.4 L505.1 2091.2 L506.5 2091.2 L507.5 2092.0 L507.6 2093.0 M488.6 2141.3 L489.4 2142.9 L489.6 2146.0 L489.5 2150.9 L487.9 2157.4 L486.1 2157.9 L484.8 2158.8 L483.9 2158.0 L483.7 2154.7 L484.1 2149.7 L485.9 2145.6 L487.4 2141.7 L488.6 2141.3 M475.0 2212.7 L475.6 2214.2 L477.1 2215.2 L475.4 2218.0 L474.2 2219.4 L473.0 2221.0 L471.3 2222.5 L471.4 2219.7 L470.8 2218.5 L470.5 2216.1 L472.0 2213.7 L473.7 2212.5 L475.0 2212.7 M467.2 2101.9 L468.3 2101.8 L469.3 2102.9 L469.2 2105.3 L468.4 2107.3 L467.2 2108.0 L466.2 2108.7 L465.3 2108.1 L464.5 2106.7 L464.8 2104.6 L465.1 2102.4 L466.1 2100.4 L467.2 2101.9 M464.8 2324.6 L466.8 2326.9 L468.1 2327.7 L469.1 2329.5 L470.5 2332.0 L470.8 2334.8 L468.8 2334.1 L467.7 2334.4 L466.0 2334.1 L464.9 2331.3 L464.8 2329.1 L464.4 2326.9 L464.8 2324.6 M549.2 2444.1 L549.6 2443.5 L551.9 2444.7 L554.9 2447.7 L558.1 2450.5 L560.0 2453.1 L561.4 2455.5 L558.8 2454.0 L556.1 2452.1 L553.1 2449.6 L549.2 2446.3 L546.2 2442.6 L549.2 2444.1 M481.8 2097.4 L481.8 2098.8 L479.8 2102.6 L475.7 2107.7 L472.3 2112.7 L468.7 2116.8 L467.2 2117.5 L468.9 2114.0 L469.4 2111.9 L473.5 2106.1 L477.3 2101.5 L480.7 2097.6 L481.8 2097.4 M478.4 2346.7 L479.7 2346.2 L481.1 2348.0 L481.6 2351.0 L482.3 2353.6 L481.5 2355.0 L480.9 2356.3 L479.6 2356.3 L478.7 2353.6 L477.0 2352.1 L477.7 2349.9 L477.8 2348.0 L478.4 2346.7 M430.5 2177.2 L428.9 2176.6 L433.9 2176.0 L437.9 2175.7 L443.5 2174.9 L447.1 2175.2 L445.2 2176.1 L447.7 2176.7 L442.9 2177.4 L438.1 2178.1 L433.2 2178.2 L428.5 2178.2 L430.5 2177.2 M467.8 2343.2 L468.9 2343.1 L470.4 2343.3 L472.9 2344.8 L474.3 2347.5 L475.4 2349.8 L475.0 2351.0 L474.3 2352.3 L471.6 2350.5 L469.6 2347.9 L468.2 2345.9 L466.4 2343.3 L467.8 2343.2 M468.6 2204.5 L469.0 2205.7 L468.0 2206.5 L467.5 2207.8 L466.3 2207.4 L465.3 2206.9 L464.2 2206.2 L465.1 2205.1 L464.7 2203.8 L465.7 2203.2 L466.8 2203.4 L468.0 2203.3 L468.6 2204.5 M479.3 2233.3 L479.1 2234.1 L477.8 2235.7 L475.1 2237.9 L471.6 2240.8 L469.0 2242.2 L469.5 2241.0 L470.3 2239.8 L471.1 2238.5 L473.9 2236.4 L476.2 2234.7 L479.5 2232.4 L479.3 2233.3 M434.4 2259.6 L435.7 2260.1 L436.6 2262.2 L437.2 2264.8 L436.6 2266.9 L436.5 2269.7 L435.3 2269.9 L434.1 2270.1 L433.7 2267.0 L433.2 2265.2 L433.4 2263.3 L433.2 2260.1 L434.4 2259.6 M511.9 2394.3 L514.4 2397.0 L516.0 2398.9 L517.4 2401.0 L519.6 2404.0 L520.1 2406.8 L520.2 2409.4 L517.9 2407.6 L516.0 2405.9 L513.6 2403.1 L512.0 2399.3 L512.3 2397.3 L511.9 2394.3 M435.0 2330.5 L436.6 2332.0 L437.9 2336.7 L439.7 2340.7 L439.4 2345.3 L439.0 2348.4 L438.0 2348.9 L436.9 2347.9 L435.1 2347.6 L434.6 2341.5 L432.6 2334.7 L434.6 2334.2 L435.0 2330.5 M482.0 2361.8 L483.0 2361.8 L483.5 2362.8 L484.6 2363.3 L484.2 2364.3 L484.1 2365.3 L483.4 2365.8 L482.5 2366.0 L481.5 2365.7 L480.8 2364.6 L481.5 2363.6 L481.8 2363.0 L482.0 2361.8 M575.0 2420.5 L576.1 2420.0 L577.1 2419.5 L578.5 2419.2 L578.6 2420.6 L579.1 2421.7 L578.4 2423.0 L577.6 2424.2 L576.2 2424.5 L575.5 2423.5 L575.3 2422.6 L574.9 2421.8 L575.0 2420.5 M596.5 2440.5 L597.0 2439.6 L597.5 2438.5 L599.0 2438.3 L600.6 2438.4 L600.9 2439.7 L600.8 2440.6 L601.0 2441.5 L600.3 2442.5 L598.9 2443.0 L597.6 2442.3 L597.4 2441.2 L596.5 2440.5 M438.7 2218.8 L439.0 2220.2 L438.7 2221.8 L436.9 2223.0 L435.5 2223.8 L434.1 2224.0 L432.1 2224.2 L432.3 2222.5 L432.5 2220.9 L434.0 2219.5 L435.7 2218.3 L437.0 2218.8 L438.7 2218.8 M458.2 2301.0 L459.1 2301.0 L460.6 2301.2 L462.1 2305.2 L463.2 2308.7 L462.7 2310.3 L463.3 2314.2 L461.2 2311.2 L459.8 2308.9 L458.2 2306.7 L457.0 2303.2 L456.7 2300.4 L458.2 2301.0 M486.6 2093.0 L484.5 2092.9 L483.7 2093.8 L479.5 2092.3 L477.2 2090.2 L476.1 2089.0 L474.9 2087.8 L475.6 2087.3 L477.2 2086.8 L481.2 2088.3 L484.9 2090.4 L484.6 2091.5 L486.6 2093.0 M613.9 2449.8 L614.5 2448.8 L616.4 2449.0 L618.2 2449.7 L619.8 2450.7 L620.7 2451.9 L620.8 2453.0 L620.0 2453.8 L618.7 2454.4 L616.3 2453.8 L614.2 2452.4 L613.9 2450.9 L613.9 2449.8 M438.3 2311.5 L439.9 2311.5 L440.9 2313.1 L441.2 2314.5 L441.4 2315.6 L442.1 2317.7 L440.4 2317.6 L439.3 2317.5 L438.4 2316.7 L437.5 2315.8 L437.3 2314.4 L437.3 2312.7 L438.3 2311.5 M471.5 2245.1 L471.0 2246.3 L468.4 2246.2 L466.0 2246.1 L462.3 2245.8 L461.6 2244.1 L461.8 2242.9 L461.7 2241.6 L464.3 2241.5 L467.2 2240.9 L469.1 2242.8 L473.3 2243.9 L471.5 2245.1 M485.9 2132.9 L487.4 2135.0 L488.6 2135.7 L490.2 2137.2 L488.8 2138.9 L489.1 2141.4 L487.5 2141.3 L485.9 2142.5 L485.4 2139.5 L483.6 2138.4 L484.3 2136.4 L485.2 2135.3 L485.9 2132.9 M522.7 2438.5 L525.7 2438.2 L529.8 2438.4 L533.6 2438.7 L538.3 2439.1 L542.8 2440.1 L544.5 2441.1 L542.2 2441.6 L538.5 2441.7 L533.3 2440.8 L529.8 2440.3 L524.8 2439.5 L522.7 2438.5 M450.0 2327.8 L451.9 2329.1 L453.8 2330.4 L456.4 2333.7 L457.0 2337.0 L459.1 2341.2 L458.5 2342.5 L457.0 2342.4 L454.4 2338.8 L451.7 2336.4 L449.2 2331.6 L448.0 2327.5 L450.0 2327.8 M466.9 2093.2 L467.5 2093.7 L467.7 2094.9 L468.3 2095.7 L468.0 2096.8 L467.6 2097.4 L467.1 2097.4 L466.6 2097.4 L466.2 2096.7 L466.2 2095.8 L466.3 2095.0 L466.5 2094.3 L466.9 2093.2 M474.3 2332.4 L475.2 2332.1 L477.7 2334.1 L479.6 2335.5 L481.9 2337.4 L482.5 2338.8 L482.2 2339.5 L482.3 2340.7 L480.0 2339.3 L478.0 2337.3 L476.5 2335.7 L475.4 2334.2 L474.3 2332.4 M435.0 2268.7 L435.6 2269.1 L435.1 2271.0 L434.5 2272.7 L433.3 2273.8 L432.2 2275.3 L431.3 2275.6 L431.5 2274.0 L431.6 2272.9 L431.5 2271.2 L433.0 2269.3 L434.4 2267.8 L435.0 2268.7 M484.9 2337.5 L485.8 2337.0 L487.7 2337.6 L489.9 2339.1 L492.4 2340.8 L493.0 2342.4 L493.2 2343.7 L492.7 2344.7 L490.2 2343.5 L487.8 2342.0 L483.7 2340.0 L481.9 2337.2 L484.9 2337.5 M568.2 2447.0 L568.7 2446.5 L571.4 2446.7 L574.4 2447.2 L576.9 2448.0 L580.4 2448.9 L582.4 2450.0 L580.3 2450.2 L577.5 2450.1 L573.9 2449.6 L571.2 2448.5 L567.3 2447.5 L568.2 2447.0 M473.9 2259.2 L476.1 2263.8 L477.4 2263.9 L478.8 2269.5 L479.8 2273.4 L480.1 2276.1 L480.7 2280.5 L478.6 2276.3 L477.3 2273.4 L476.1 2270.3 L474.4 2266.0 L473.9 2262.3 L473.9 2259.2 M551.8 2405.9 L552.9 2405.1 L553.9 2404.3 L555.4 2405.0 L556.7 2405.3 L556.8 2406.5 L556.9 2407.3 L556.9 2408.4 L555.6 2408.5 L554.3 2409.0 L553.7 2407.8 L552.1 2407.2 L551.8 2405.9 M648.7 2480.8 L654.2 2477.5 L654.2 2475.8 L660.7 2473.9 L666.2 2470.7 L670.0 2470.2 L671.4 2470.9 L673.1 2471.8 L667.4 2474.9 L662.2 2477.3 L656.3 2480.0 L651.2 2481.3 L648.7 2480.8 M459.9 2181.6 L458.2 2180.6 L463.4 2180.2 L467.4 2179.2 L472.2 2179.6 L474.1 2180.4 L475.5 2181.1 L477.5 2182.1 L473.1 2183.0 L467.6 2183.5 L464.3 2182.5 L460.9 2182.3 L459.9 2181.6 M586.6 2447.3 L586.8 2446.0 L587.4 2444.6 L588.8 2443.3 L590.4 2444.4 L591.8 2444.9 L593.0 2446.1 L591.7 2447.4 L591.2 2448.6 L590.2 2450.2 L588.3 2449.9 L587.2 2448.6 L586.6 2447.3 M466.9 2315.6 L468.1 2316.0 L468.9 2317.7 L468.4 2319.9 L468.3 2321.3 L468.2 2323.8 L467.1 2324.1 L465.8 2324.3 L465.4 2321.9 L465.5 2320.0 L465.7 2318.6 L466.2 2317.5 L466.9 2315.6 M470.6 2369.3 L469.7 2373.0 L469.0 2376.0 L467.5 2380.4 L464.5 2383.6 L461.5 2388.0 L459.7 2388.6 L460.9 2384.5 L461.6 2381.7 L462.2 2377.4 L465.9 2373.1 L468.6 2370.2 L470.6 2369.3 M525.8 2384.9 L526.2 2383.3 L530.4 2387.3 L533.7 2391.1 L536.7 2394.7 L537.7 2397.2 L541.2 2402.6 L537.8 2400.7 L534.1 2397.3 L530.5 2393.8 L527.4 2389.7 L527.0 2387.6 L525.8 2384.9 M479.9 2176.7 L479.0 2180.0 L478.8 2181.5 L478.2 2183.9 L477.1 2185.7 L475.6 2189.7 L475.3 2188.8 L475.1 2187.8 L475.5 2185.8 L476.1 2183.1 L477.5 2180.7 L478.8 2178.0 L479.9 2176.7 M481.1 2130.2 L481.9 2130.8 L481.8 2132.0 L481.2 2132.9 L480.7 2133.9 L479.7 2134.1 L478.9 2133.8 L477.7 2133.6 L478.1 2132.3 L478.3 2131.2 L478.9 2129.7 L480.2 2129.4 L481.1 2130.2 M443.3 2176.0 L442.9 2174.4 L449.7 2170.4 L452.4 2167.3 L457.4 2165.1 L463.6 2161.9 L462.7 2164.3 L464.8 2164.8 L458.2 2168.9 L454.9 2171.5 L450.7 2173.7 L445.8 2176.0 L443.3 2176.0 M470.8 2335.6 L471.6 2335.5 L474.0 2336.7 L477.2 2339.3 L480.5 2341.7 L483.8 2344.6 L482.5 2344.5 L483.7 2346.4 L479.7 2343.8 L475.8 2341.2 L473.0 2338.5 L470.3 2336.0 L470.8 2335.6 M485.2 2097.4 L486.6 2098.0 L485.7 2099.7 L485.3 2101.2 L484.0 2102.6 L482.4 2102.3 L481.6 2101.2 L480.6 2100.5 L481.0 2099.1 L481.1 2097.3 L482.8 2096.9 L484.1 2096.9 L485.2 2097.4 M472.5 2335.9 L473.4 2334.7 L474.5 2336.0 L475.1 2337.7 L474.8 2339.0 L474.5 2340.0 L474.3 2341.6 L473.1 2340.6 L472.3 2339.9 L470.9 2339.0 L471.6 2337.5 L471.7 2336.2 L472.5 2335.9 M435.9 2313.2 L439.2 2315.8 L441.8 2318.0 L445.2 2321.2 L448.2 2325.7 L452.0 2331.2 L449.7 2330.5 L447.9 2329.9 L445.7 2329.5 L442.0 2323.8 L438.3 2319.5 L437.3 2316.6 L435.9 2313.2 M494.2 2203.9 L495.2 2203.7 L496.3 2203.5 L497.9 2203.5 L497.1 2205.0 L497.1 2206.1 L496.2 2207.1 L495.0 2207.2 L493.7 2207.5 L493.5 2206.4 L492.7 2205.7 L492.5 2204.4 L494.2 2203.9 M503.8 2356.0 L505.2 2358.5 L506.6 2360.4 L507.5 2365.9 L509.8 2372.5 L509.6 2376.1 L509.0 2377.8 L507.8 2378.2 L505.9 2372.5 L504.7 2366.6 L503.8 2362.0 L503.8 2359.2 L503.8 2356.0 M471.9 2311.1 L472.2 2312.8 L471.1 2317.8 L469.0 2323.7 L467.4 2327.9 L465.1 2334.4 L464.8 2332.7 L464.6 2331.5 L465.0 2328.4 L466.8 2323.0 L468.7 2316.7 L469.9 2315.6 L471.9 2311.1 M430.1 2286.7 L431.4 2288.8 L432.3 2290.6 L432.0 2293.1 L431.9 2295.3 L431.2 2297.7 L429.8 2296.8 L428.3 2297.8 L428.1 2295.0 L427.4 2293.0 L427.1 2289.8 L429.0 2289.8 L430.1 2286.7 M428.2 2234.3 L428.9 2234.7 L429.9 2236.4 L430.5 2238.7 L430.8 2240.4 L431.2 2242.4 L430.8 2242.8 L430.1 2242.2 L429.4 2240.9 L428.7 2239.2 L428.0 2237.1 L427.8 2235.1 L428.2 2234.3 M471.3 2082.2 L472.1 2082.8 L472.0 2086.1 L472.1 2088.5 L471.6 2091.6 L470.6 2092.2 L469.5 2095.3 L468.6 2094.0 L468.7 2090.7 L468.5 2088.0 L469.3 2084.9 L470.3 2083.2 L471.3 2082.2 M457.4 2294.1 L458.2 2294.0 L458.8 2296.0 L459.1 2298.2 L459.8 2301.3 L458.6 2301.8 L458.1 2304.0 L457.3 2301.9 L456.2 2301.4 L455.9 2298.4 L456.4 2296.3 L456.4 2293.6 L457.4 2294.1 M631.6 2452.1 L634.3 2452.5 L637.1 2453.3 L639.9 2453.7 L643.2 2455.5 L646.2 2457.1 L644.5 2457.1 L645.7 2458.4 L641.5 2456.8 L639.0 2456.1 L636.0 2454.8 L635.2 2454.0 L631.6 2452.1 M497.9 2349.8 L499.0 2350.6 L500.2 2351.3 L500.5 2352.8 L499.4 2353.8 L499.1 2355.3 L497.9 2355.1 L496.7 2355.3 L495.9 2354.2 L495.4 2352.8 L496.5 2351.9 L496.9 2350.8 L497.9 2349.8 M611.2 2454.2 L611.9 2453.4 L612.9 2453.0 L614.0 2452.8 L614.2 2454.1 L615.4 2454.8 L614.3 2455.9 L613.6 2456.9 L612.6 2457.7 L611.9 2456.6 L610.3 2456.9 L610.7 2455.3 L611.2 2454.2 M440.4 2158.0 L441.7 2158.9 L441.5 2161.1 L440.4 2162.9 L439.9 2165.6 L438.0 2166.2 L437.0 2165.0 L435.9 2164.4 L436.4 2162.5 L435.5 2160.5 L437.4 2159.2 L438.8 2158.3 L440.4 2158.0 M439.1 2307.0 L439.6 2309.7 L440.7 2310.5 L440.3 2315.9 L440.3 2321.4 L439.3 2324.2 L438.4 2322.5 L437.6 2322.8 L437.3 2319.5 L436.6 2315.8 L437.3 2311.0 L438.3 2310.2 L439.1 2307.0 M473.1 2199.2 L469.9 2202.3 L467.8 2204.5 L464.7 2207.1 L461.3 2208.8 L458.7 2209.9 L454.6 2211.8 L456.3 2209.4 L458.7 2206.9 L462.5 2203.8 L465.9 2202.5 L469.2 2200.8 L473.1 2199.2 M600.5 2439.1 L601.9 2438.5 L603.3 2438.4 L604.3 2439.4 L604.8 2440.5 L605.5 2441.8 L604.8 2443.2 L603.5 2444.2 L601.9 2443.8 L601.0 2442.7 L599.8 2441.9 L599.8 2440.4 L600.5 2439.1 M480.9 2198.4 L482.1 2199.0 L482.9 2199.7 L483.8 2200.7 L483.5 2202.0 L482.0 2202.5 L480.7 2202.1 L479.2 2202.4 L478.8 2201.3 L478.1 2200.4 L478.4 2199.3 L479.3 2198.3 L480.9 2198.4 M497.7 2196.2 L499.3 2197.0 L500.3 2199.8 L500.8 2202.0 L502.1 2204.9 L501.1 2206.5 L500.2 2208.0 L498.8 2207.2 L497.8 2204.8 L497.4 2202.7 L497.2 2200.9 L497.1 2198.5 L497.7 2196.2 M484.4 2074.7 L484.7 2075.4 L483.9 2076.3 L483.2 2076.9 L482.5 2077.4 L481.7 2077.9 L480.8 2077.9 L480.8 2077.0 L480.8 2076.1 L482.0 2075.5 L482.7 2075.0 L483.7 2074.4 L484.4 2074.7 M429.4 2216.3 L430.8 2216.3 L433.8 2222.8 L436.7 2227.2 L438.8 2233.6 L437.5 2234.2 L437.9 2237.3 L437.0 2238.3 L434.5 2233.3 L432.3 2229.0 L430.0 2223.2 L428.7 2218.1 L429.4 2216.3 M475.6 2273.6 L476.7 2274.2 L477.2 2275.9 L476.8 2278.0 L475.9 2280.0 L474.4 2281.1 L473.2 2280.6 L471.8 2280.5 L472.1 2278.2 L471.8 2276.3 L472.8 2274.2 L474.3 2272.9 L475.6 2273.6 M499.1 2375.2 L500.1 2375.2 L501.2 2377.7 L502.0 2380.1 L502.8 2383.1 L502.0 2384.2 L502.0 2387.5 L500.6 2387.3 L499.5 2383.2 L498.2 2381.0 L498.1 2378.2 L497.6 2374.3 L499.1 2375.2 M449.5 2280.3 L450.3 2280.1 L451.5 2280.6 L452.7 2282.1 L453.5 2283.8 L453.5 2285.2 L452.8 2285.6 L451.9 2285.4 L450.9 2285.2 L450.0 2283.8 L448.9 2282.3 L449.5 2281.5 L449.5 2280.3 M484.4 2211.2 L482.8 2212.6 L481.4 2213.6 L479.3 2214.2 L476.9 2214.5 L475.6 2213.5 L475.0 2212.5 L473.9 2211.0 L476.0 2209.8 L478.7 2209.6 L481.8 2208.5 L482.4 2210.3 L484.4 2211.2 M490.8 2369.2 L492.1 2368.3 L490.9 2370.6 L490.2 2372.1 L489.1 2374.0 L487.6 2375.7 L487.6 2374.4 L487.6 2373.5 L487.1 2373.0 L488.1 2370.8 L489.5 2369.0 L490.3 2369.2 L490.8 2369.2 M507.8 2368.8 L507.5 2367.7 L509.9 2368.9 L512.3 2370.3 L514.8 2372.3 L514.2 2373.0 L514.9 2374.0 L515.2 2375.0 L513.1 2374.0 L511.0 2372.2 L508.9 2370.8 L508.3 2369.7 L507.8 2368.8 M448.2 2256.0 L448.4 2255.4 L449.8 2256.6 L451.6 2258.6 L453.6 2261.2 L453.8 2262.5 L454.4 2264.0 L453.6 2264.0 L451.4 2261.1 L449.7 2260.1 L448.1 2257.5 L446.8 2255.3 L448.2 2256.0 M479.4 2083.0 L479.1 2083.6 L478.8 2084.3 L477.8 2084.3 L476.8 2084.1 L476.3 2083.4 L476.5 2082.7 L476.1 2081.8 L477.0 2081.4 L478.1 2081.4 L479.1 2081.7 L479.9 2082.3 L479.4 2083.0 M476.6 2126.8 L480.2 2131.1 L481.8 2130.9 L484.2 2135.3 L486.8 2139.5 L487.5 2142.7 L486.4 2143.3 L486.1 2145.8 L482.7 2139.9 L480.0 2137.9 L477.4 2133.1 L477.3 2130.3 L476.6 2126.8 M481.3 2316.1 L482.7 2314.4 L482.3 2317.8 L482.5 2320.0 L481.8 2322.9 L480.7 2323.0 L479.7 2325.5 L479.0 2324.2 L478.4 2322.5 L478.8 2319.4 L479.9 2317.4 L480.6 2314.4 L481.3 2316.1 M471.5 2111.0 L472.5 2114.7 L473.5 2117.9 L474.5 2123.8 L475.0 2130.6 L475.0 2135.5 L473.8 2131.9 L473.3 2132.9 L472.3 2130.7 L471.4 2124.2 L471.6 2119.9 L471.6 2116.6 L471.5 2111.0 M491.5 2093.2 L489.7 2094.7 L488.8 2096.0 L486.1 2098.1 L482.3 2099.0 L480.1 2098.9 L478.8 2098.4 L478.1 2097.5 L480.7 2095.5 L484.6 2094.4 L488.0 2092.6 L490.0 2092.9 L491.5 2093.2 M469.7 2292.4 L470.3 2291.6 L471.8 2292.9 L472.8 2293.7 L473.8 2294.8 L474.3 2296.0 L473.9 2296.8 L472.8 2296.5 L471.9 2296.2 L470.4 2296.0 L470.1 2294.5 L469.1 2293.1 L469.7 2292.4 M608.8 2463.5 L609.8 2462.5 L612.5 2461.7 L617.2 2461.3 L620.8 2463.0 L627.0 2463.8 L627.0 2465.4 L624.0 2466.2 L621.6 2467.2 L616.7 2466.6 L613.5 2465.6 L607.8 2464.9 L608.8 2463.5 M548.1 2433.7 L548.6 2433.1 L549.6 2433.6 L550.4 2434.5 L551.4 2435.3 L550.9 2435.9 L550.6 2436.3 L550.3 2436.8 L549.5 2436.4 L548.5 2436.2 L548.5 2435.2 L548.2 2434.5 L548.1 2433.7 M473.7 2278.2 L474.5 2279.2 L473.6 2281.5 L473.2 2283.1 L472.2 2284.3 L471.0 2286.6 L470.4 2285.1 L469.9 2284.4 L468.9 2283.6 L469.8 2281.5 L471.2 2280.5 L472.4 2278.4 L473.7 2278.2 M489.8 2160.4 L490.9 2160.2 L492.4 2160.4 L493.5 2162.6 L493.5 2164.5 L493.3 2165.9 L492.8 2167.0 L491.7 2167.1 L490.3 2166.3 L489.5 2164.4 L489.3 2162.8 L489.3 2161.4 L489.8 2160.4 M580.5 2443.1 L584.5 2444.6 L587.1 2445.5 L591.1 2447.2 L595.4 2449.8 L598.6 2452.1 L596.0 2451.5 L595.3 2451.6 L594.8 2452.4 L589.7 2449.8 L587.2 2447.6 L584.5 2445.8 L580.5 2443.1 M474.0 2126.0 L473.6 2127.5 L474.0 2128.0 L473.3 2129.1 L472.8 2130.6 L471.9 2130.9 L471.0 2131.3 L471.0 2130.3 L470.9 2129.4 L471.4 2128.1 L472.3 2127.3 L473.0 2126.9 L474.0 2126.0 M612.8 2455.4 L616.0 2454.4 L620.0 2453.8 L625.4 2453.3 L632.2 2454.1 L632.6 2455.9 L633.9 2457.0 L634.2 2458.2 L631.3 2459.3 L624.9 2459.4 L618.5 2458.4 L614.3 2456.9 L612.8 2455.4 M458.4 2174.8 L458.9 2174.4 L459.7 2174.3 L460.8 2174.8 L461.3 2175.6 L462.1 2176.4 L462.4 2177.3 L461.3 2177.3 L460.5 2177.7 L459.3 2177.0 L458.8 2176.1 L457.9 2175.2 L458.4 2174.8 M465.1 2169.8 L465.9 2169.2 L468.2 2168.9 L472.2 2168.7 L477.5 2170.1 L478.3 2171.5 L482.9 2173.3 L477.1 2172.9 L476.1 2173.8 L471.3 2173.6 L467.5 2171.9 L461.8 2170.5 L465.1 2169.8 M482.5 2363.4 L484.1 2364.1 L485.6 2364.7 L485.9 2367.0 L486.2 2368.6 L486.3 2370.3 L485.1 2370.4 L484.1 2370.3 L482.7 2370.4 L481.9 2368.5 L481.1 2366.4 L481.9 2365.0 L482.5 2363.4 M456.2 2166.4 L456.0 2165.4 L457.7 2165.1 L459.7 2165.4 L461.2 2166.1 L462.7 2166.9 L462.5 2167.8 L461.8 2168.3 L460.7 2168.7 L458.8 2169.3 L457.0 2168.2 L454.9 2167.3 L456.2 2166.4 M477.9 2367.4 L479.3 2366.9 L480.5 2368.8 L482.0 2369.8 L481.6 2371.7 L482.2 2373.9 L480.6 2374.0 L479.3 2374.1 L477.6 2374.2 L476.7 2372.0 L475.8 2369.8 L476.2 2367.7 L477.9 2367.4 M505.2 2087.8 L508.7 2089.4 L503.1 2090.0 L498.9 2090.3 L495.5 2089.6 L492.3 2089.0 L488.6 2087.9 L490.2 2086.4 L495.3 2086.0 L498.8 2085.4 L502.4 2086.0 L505.2 2086.7 L505.2 2087.8 M478.4 2191.6 L478.9 2192.7 L479.2 2194.1 L478.6 2195.2 L477.4 2195.5 L476.1 2195.0 L475.5 2193.8 L474.5 2192.9 L474.3 2191.6 L475.1 2190.6 L476.4 2191.1 L477.5 2190.6 L478.4 2191.6 M521.2 2124.7 L518.2 2124.7 L515.9 2125.3 L510.1 2123.1 L506.5 2121.2 L501.6 2119.1 L498.7 2116.8 L501.3 2116.3 L507.2 2118.0 L511.6 2119.0 L517.2 2120.9 L522.7 2123.6 L521.2 2124.7 M481.7 2294.4 L483.0 2295.4 L483.3 2299.6 L484.4 2301.8 L484.0 2304.6 L483.6 2307.4 L482.6 2308.9 L481.6 2306.7 L480.7 2304.8 L479.6 2302.1 L480.5 2299.5 L480.7 2296.3 L481.7 2294.4 M573.4 2451.7 L574.9 2452.1 L576.9 2453.5 L578.8 2455.4 L580.6 2457.4 L582.8 2460.2 L582.1 2461.1 L580.3 2460.2 L578.4 2458.8 L576.6 2457.4 L574.2 2455.1 L573.7 2453.3 L573.4 2451.7 M448.1 2342.0 L448.9 2341.4 L449.8 2341.1 L451.0 2340.9 L452.8 2341.0 L454.1 2341.9 L454.6 2343.0 L453.0 2343.5 L451.9 2343.9 L450.5 2344.5 L448.8 2343.9 L447.9 2342.9 L448.1 2342.0 M642.6 2463.6 L642.0 2463.0 L643.2 2462.8 L644.2 2462.5 L645.0 2463.0 L645.8 2463.3 L645.7 2463.8 L645.9 2464.3 L645.3 2464.8 L644.1 2464.7 L643.2 2464.5 L642.0 2464.2 L642.6 2463.6 M438.0 2313.1 L439.0 2313.5 L439.9 2315.3 L440.7 2317.0 L441.1 2319.1 L441.1 2321.3 L440.0 2321.3 L439.1 2320.6 L437.9 2320.3 L437.9 2317.7 L436.8 2315.4 L437.2 2313.9 L438.0 2313.1 M442.2 2214.0 L439.2 2216.6 L438.3 2218.8 L432.2 2220.6 L427.2 2223.4 L423.7 2223.7 L423.8 2222.2 L419.6 2222.2 L424.9 2218.9 L430.2 2216.3 L436.6 2213.1 L438.8 2214.1 L442.2 2214.0 M433.2 2275.0 L433.3 2276.8 L434.2 2277.6 L433.2 2279.0 L432.6 2280.2 L431.7 2280.4 L430.8 2280.8 L430.0 2280.3 L429.1 2279.3 L429.5 2277.5 L431.0 2276.8 L431.9 2276.0 L433.2 2275.0 M450.9 2159.1 L450.5 2160.9 L451.7 2162.2 L449.5 2164.5 L447.4 2166.0 L445.7 2166.5 L444.9 2165.6 L442.9 2165.6 L445.2 2163.0 L446.0 2161.3 L447.7 2159.4 L449.8 2158.3 L450.9 2159.1 M443.2 2216.8 L443.9 2217.7 L441.7 2219.0 L440.1 2220.7 L438.0 2220.4 L434.9 2221.7 L434.4 2220.7 L435.2 2219.4 L435.4 2217.9 L438.5 2217.1 L440.5 2216.4 L441.8 2216.6 L443.2 2216.8 M520.1 2393.6 L520.1 2392.1 L521.8 2392.3 L523.5 2392.0 L524.2 2393.6 L524.6 2394.7 L525.2 2396.1 L524.5 2397.3 L522.6 2396.4 L521.5 2396.1 L519.9 2395.8 L519.8 2394.5 L520.1 2393.6 M456.6 2144.0 L457.0 2145.2 L456.4 2146.7 L455.5 2148.2 L454.0 2149.0 L452.4 2149.6 L452.2 2148.2 L451.1 2147.8 L451.4 2146.4 L452.5 2145.1 L453.8 2144.6 L454.8 2144.7 L456.6 2144.0 M490.1 2140.2 L491.0 2139.8 L491.6 2141.5 L492.0 2142.3 L492.6 2143.5 L491.9 2144.1 L491.7 2145.7 L490.7 2144.6 L489.8 2144.2 L489.0 2143.2 L489.2 2141.9 L489.4 2140.8 L490.1 2140.2 M661.7 2463.2 L662.8 2462.2 L662.9 2461.3 L664.6 2460.6 L666.2 2460.6 L666.7 2461.2 L668.4 2461.2 L667.0 2462.2 L666.8 2463.0 L665.4 2463.5 L664.2 2463.4 L662.6 2463.7 L661.7 2463.2 M626.4 2460.9 L627.6 2460.4 L628.4 2459.9 L630.3 2459.5 L632.6 2459.6 L633.7 2460.1 L634.0 2460.6 L633.2 2461.1 L632.3 2461.6 L630.4 2461.7 L628.8 2461.6 L626.4 2461.6 L626.4 2460.9 M466.7 2349.6 L467.4 2349.0 L469.8 2349.7 L471.6 2349.8 L472.7 2351.0 L475.0 2351.9 L475.0 2352.8 L473.2 2352.6 L472.4 2352.9 L470.6 2352.5 L468.3 2351.7 L467.3 2350.6 L466.7 2349.6 M515.0 2096.2 L516.3 2096.9 L514.9 2098.0 L512.6 2098.4 L510.3 2099.2 L509.3 2098.4 L507.5 2098.0 L508.7 2096.8 L510.5 2096.1 L511.9 2095.3 L513.7 2095.1 L516.2 2094.8 L515.0 2096.2 M586.4 2451.5 L588.0 2449.9 L588.8 2448.4 L591.1 2448.2 L593.4 2447.5 L595.4 2448.4 L594.6 2450.1 L594.1 2451.2 L593.5 2452.3 L592.0 2453.4 L590.0 2453.1 L589.3 2452.0 L586.4 2451.5 M575.7 2426.4 L575.9 2425.3 L578.9 2425.1 L584.0 2425.3 L587.7 2427.9 L594.9 2430.0 L596.6 2432.2 L591.7 2432.1 L588.1 2432.3 L582.3 2431.6 L576.6 2429.2 L571.3 2426.8 L575.7 2426.4 M464.5 2326.4 L465.9 2326.7 L466.0 2328.4 L465.2 2329.8 L464.9 2331.3 L463.7 2331.9 L462.4 2332.4 L461.2 2331.7 L460.6 2330.1 L462.0 2328.7 L462.1 2327.1 L463.2 2326.0 L464.5 2326.4 M479.2 2362.4 L479.6 2363.3 L479.0 2365.2 L478.8 2366.3 L478.4 2367.5 L477.7 2369.4 L477.2 2368.4 L476.5 2368.6 L476.2 2367.4 L476.8 2365.7 L477.3 2363.9 L478.2 2363.8 L479.2 2362.4 M459.6 2267.1 L459.7 2264.8 L462.0 2266.3 L464.3 2267.8 L465.2 2270.2 L465.9 2272.4 L465.3 2273.9 L464.0 2274.7 L461.8 2272.3 L460.4 2271.1 L458.4 2269.4 L458.5 2267.7 L459.6 2267.1 M513.8 2091.4 L513.7 2092.0 L513.0 2092.6 L512.1 2093.2 L510.8 2093.5 L510.0 2093.2 L509.8 2092.7 L510.0 2092.1 L510.6 2091.7 L511.3 2090.8 L512.7 2090.5 L513.3 2091.1 L513.8 2091.4 M475.8 2371.9 L476.9 2373.0 L476.4 2374.5 L477.1 2375.9 L476.3 2377.2 L474.7 2377.0 L473.1 2377.3 L472.8 2375.7 L471.2 2374.7 L472.2 2373.5 L472.8 2372.2 L474.3 2372.4 L475.8 2371.9 M497.3 2198.4 L497.7 2197.4 L498.6 2198.5 L499.2 2199.7 L499.7 2201.0 L499.7 2202.2 L499.2 2202.9 L498.3 2202.3 L497.4 2202.1 L497.2 2200.6 L496.5 2199.5 L496.7 2198.7 L497.3 2198.4 M509.9 2084.2 L511.1 2084.7 L511.3 2085.8 L511.4 2086.9 L511.0 2088.2 L509.4 2087.5 L508.2 2087.6 L507.1 2086.9 L506.7 2085.8 L506.3 2084.4 L507.7 2084.1 L508.7 2083.2 L509.9 2084.2 M597.1 2464.6 L597.0 2463.7 L598.2 2462.7 L599.8 2462.1 L601.0 2462.1 L603.0 2461.3 L603.3 2462.2 L603.2 2463.0 L601.8 2463.8 L601.0 2465.0 L599.5 2464.8 L598.3 2464.9 L597.1 2464.6 M437.4 2216.6 L438.1 2217.0 L439.0 2217.6 L439.1 2218.9 L438.4 2220.2 L437.4 2220.7 L436.2 2221.3 L435.1 2220.7 L435.0 2219.1 L434.6 2217.8 L435.8 2217.0 L436.6 2216.2 L437.4 2216.6 M517.7 2385.1 L518.9 2384.2 L520.2 2384.0 L521.3 2383.6 L523.2 2383.2 L523.2 2384.9 L524.3 2386.0 L523.6 2387.2 L522.3 2388.1 L520.8 2387.5 L519.6 2387.1 L518.9 2386.2 L517.7 2385.1 M479.6 2077.6 L480.5 2078.6 L480.0 2080.0 L479.6 2081.3 L478.6 2082.7 L477.1 2082.3 L476.2 2081.4 L474.8 2080.8 L474.4 2079.1 L475.2 2077.4 L477.2 2077.5 L478.6 2076.4 L479.6 2077.6 M585.6 2426.0 L587.5 2426.7 L588.9 2427.4 L590.2 2428.1 L591.7 2429.2 L592.4 2430.4 L592.2 2431.1 L591.7 2431.7 L590.3 2431.2 L588.8 2429.9 L587.1 2428.7 L586.3 2427.5 L585.6 2426.0 M466.4 2164.0 L467.8 2163.6 L468.8 2162.9 L470.4 2162.4 L471.6 2163.6 L472.8 2164.9 L472.8 2166.7 L471.5 2167.9 L469.6 2167.3 L467.9 2168.4 L466.9 2166.8 L466.8 2165.4 L466.4 2164.0 M475.3 2082.8 L476.8 2081.4 L477.4 2084.4 L476.7 2087.6 L476.5 2090.2 L475.8 2093.6 L474.6 2091.8 L473.1 2093.1 L472.6 2090.2 L472.8 2087.3 L473.0 2084.2 L474.0 2081.7 L475.3 2082.8 M459.9 2204.6 L459.0 2206.4 L459.1 2208.0 L456.6 2208.7 L455.1 2209.3 L453.1 2209.9 L451.4 2209.5 L453.0 2207.6 L453.4 2206.4 L454.9 2205.6 L456.4 2204.4 L457.6 2204.9 L459.9 2204.6 M470.0 2367.8 L470.3 2369.1 L471.6 2369.3 L470.8 2370.8 L470.6 2372.0 L469.8 2372.8 L468.7 2373.6 L468.1 2372.4 L467.2 2371.6 L467.6 2370.1 L468.4 2369.2 L469.0 2367.7 L470.0 2367.8 M485.4 2101.0 L484.5 2102.9 L484.6 2104.2 L484.1 2105.8 L482.4 2105.5 L481.1 2105.8 L480.5 2104.7 L478.8 2104.0 L479.2 2102.3 L480.9 2101.6 L482.1 2100.5 L483.3 2101.2 L485.4 2101.0 M444.8 2236.0 L446.4 2236.4 L446.0 2237.6 L445.7 2238.4 L445.0 2238.8 L444.1 2239.3 L443.0 2238.7 L441.8 2238.0 L441.3 2236.8 L441.7 2235.7 L442.7 2235.2 L443.9 2235.1 L444.8 2236.0 M516.6 2407.7 L517.4 2408.0 L519.0 2411.2 L520.5 2417.2 L522.6 2423.1 L523.1 2427.1 L522.5 2427.8 L521.7 2427.8 L519.9 2424.1 L518.5 2417.7 L516.8 2412.6 L515.7 2407.6 L516.6 2407.7 M476.9 2226.3 L475.8 2227.0 L474.9 2227.6 L473.4 2227.5 L471.4 2227.7 L470.6 2226.7 L469.9 2225.7 L471.6 2225.2 L472.2 2224.4 L473.7 2224.0 L475.3 2224.6 L476.4 2225.4 L476.9 2226.3 M503.7 2371.8 L504.8 2370.8 L507.9 2371.7 L510.5 2372.9 L513.6 2373.9 L514.3 2375.5 L515.4 2377.0 L513.3 2377.1 L511.4 2377.1 L508.8 2376.7 L505.7 2375.1 L505.0 2373.5 L503.7 2371.8 M483.6 2123.8 L483.8 2122.6 L484.8 2123.7 L485.2 2125.6 L485.8 2126.8 L486.0 2128.1 L485.5 2128.4 L485.0 2128.4 L484.3 2127.6 L483.7 2126.2 L483.5 2125.1 L483.4 2124.3 L483.6 2123.8 M464.2 2086.7 L463.8 2088.5 L463.7 2089.7 L462.6 2091.4 L461.7 2093.4 L460.3 2095.3 L459.5 2095.1 L459.2 2094.1 L459.5 2092.4 L460.7 2090.4 L461.8 2089.0 L462.6 2088.6 L464.2 2086.7 M502.7 2081.8 L503.6 2082.7 L503.2 2084.0 L502.0 2084.9 L500.7 2084.6 L499.8 2084.2 L498.5 2084.0 L498.4 2082.9 L499.4 2082.0 L500.1 2081.3 L501.2 2080.5 L502.0 2081.3 L502.7 2081.8 M489.0 2231.0 L488.5 2231.8 L488.2 2232.4 L487.6 2233.1 L486.5 2233.6 L485.7 2233.5 L484.8 2233.3 L485.6 2232.4 L485.8 2231.8 L486.5 2231.1 L487.4 2231.0 L488.0 2231.1 L489.0 2231.0 M472.7 2368.4 L475.8 2371.9 L478.2 2374.7 L481.3 2378.6 L481.9 2382.8 L484.4 2388.4 L482.3 2387.4 L480.8 2386.6 L478.9 2386.0 L476.6 2381.0 L472.8 2375.1 L471.8 2370.3 L472.7 2368.4 M450.1 2263.6 L451.1 2264.4 L451.8 2265.9 L452.9 2267.3 L452.8 2269.4 L452.0 2270.7 L450.9 2270.5 L449.7 2271.8 L448.8 2269.8 L448.4 2267.8 L447.9 2265.4 L448.6 2263.4 L450.1 2263.6 M456.0 2346.4 L456.8 2346.6 L457.5 2347.2 L458.2 2348.0 L458.3 2349.0 L458.7 2350.1 L458.1 2350.5 L457.5 2350.3 L456.9 2349.7 L456.3 2349.0 L455.6 2348.0 L455.7 2347.1 L456.0 2346.4 M468.2 2380.8 L470.0 2382.6 L471.5 2384.2 L473.0 2386.3 L474.6 2388.7 L476.4 2392.0 L474.7 2390.8 L475.0 2392.5 L472.8 2389.6 L471.3 2387.3 L469.3 2384.6 L469.1 2383.2 L468.2 2380.8 M470.5 2229.9 L471.4 2231.0 L470.0 2231.8 L468.5 2232.5 L466.6 2232.3 L466.1 2231.0 L464.7 2230.1 L465.2 2228.9 L467.0 2228.5 L468.3 2228.1 L469.7 2228.3 L470.7 2228.9 L470.5 2229.9 M507.0 2382.5 L508.1 2382.8 L509.1 2383.2 L510.8 2383.6 L511.3 2385.4 L509.8 2386.2 L509.5 2387.4 L508.4 2387.9 L507.2 2387.2 L506.7 2385.7 L505.2 2384.4 L505.8 2383.0 L507.0 2382.5 M477.6 2275.2 L480.3 2272.7 L476.8 2279.9 L476.0 2283.9 L473.2 2288.4 L470.3 2293.1 L469.3 2292.3 L470.0 2288.9 L469.6 2287.0 L471.4 2281.7 L474.6 2276.0 L476.7 2274.5 L477.6 2275.2 M479.4 2365.4 L479.8 2366.6 L479.1 2368.3 L479.1 2369.6 L477.9 2370.2 L477.0 2371.3 L476.2 2371.1 L474.9 2371.1 L475.5 2369.3 L475.7 2367.7 L477.0 2366.7 L478.2 2365.7 L479.4 2365.4 M578.7 2428.5 L583.3 2426.7 L586.3 2425.5 L589.3 2424.1 L594.6 2422.7 L598.8 2422.4 L600.8 2422.9 L597.5 2424.6 L595.6 2426.1 L590.1 2427.4 L586.5 2427.7 L581.7 2428.7 L578.7 2428.5 M497.5 2227.1 L497.2 2228.1 L495.4 2229.8 L492.1 2231.5 L489.2 2233.6 L487.4 2234.0 L487.3 2233.4 L486.0 2233.5 L489.0 2231.4 L491.1 2230.0 L494.1 2227.8 L496.9 2226.6 L497.5 2227.1 M465.2 2140.0 L465.9 2140.9 L466.2 2142.6 L466.4 2144.6 L465.7 2147.2 L464.3 2148.1 L463.3 2148.0 L462.4 2147.4 L462.2 2145.6 L462.3 2143.7 L462.9 2141.5 L464.0 2139.6 L465.2 2140.0 M464.7 2244.9 L466.5 2248.4 L467.8 2252.1 L469.3 2255.6 L469.4 2259.2 L469.5 2261.9 L468.9 2262.5 L468.3 2264.8 L466.6 2262.1 L465.6 2256.4 L465.0 2252.4 L464.8 2249.0 L464.7 2244.9 M580.7 2442.7 L580.1 2441.4 L582.1 2440.8 L584.8 2441.8 L587.6 2441.7 L589.4 2442.9 L590.1 2444.1 L588.5 2444.9 L586.5 2445.3 L584.2 2445.5 L582.3 2444.5 L579.3 2443.7 L580.7 2442.7 M460.5 2281.8 L461.2 2282.7 L461.0 2285.3 L461.3 2286.8 L461.1 2288.8 L460.6 2290.2 L460.0 2290.4 L459.2 2290.9 L459.1 2288.5 L459.0 2286.6 L459.0 2284.1 L459.8 2282.9 L460.5 2281.8 M502.4 2400.4 L503.4 2400.2 L503.7 2399.6 L506.6 2400.5 L508.6 2401.0 L509.6 2401.6 L510.6 2402.2 L511.1 2402.9 L509.0 2402.9 L506.1 2402.6 L503.1 2401.7 L501.9 2400.9 L502.4 2400.4 M472.8 2365.7 L473.4 2366.6 L471.9 2369.1 L470.9 2370.9 L469.6 2372.7 L468.5 2373.1 L467.5 2373.4 L467.5 2372.3 L467.4 2371.2 L468.2 2369.0 L469.9 2367.8 L471.5 2366.1 L472.8 2365.7 M473.4 2101.0 L473.6 2101.9 L474.3 2102.9 L472.7 2105.0 L470.8 2106.3 L469.7 2106.0 L468.9 2105.9 L468.8 2105.0 L468.9 2103.9 L469.7 2102.2 L471.3 2101.7 L472.9 2100.3 L473.4 2101.0 M531.5 2385.4 L531.1 2383.8 L533.3 2384.8 L535.8 2387.0 L537.1 2389.0 L537.8 2390.4 L539.7 2393.1 L537.8 2392.6 L535.7 2391.5 L533.2 2389.8 L532.0 2387.6 L529.8 2385.2 L531.5 2385.4 M549.2 2443.1 L550.1 2442.0 L551.1 2442.5 L552.1 2442.7 L553.0 2443.4 L552.4 2444.6 L552.0 2445.7 L551.0 2446.6 L549.6 2447.3 L549.2 2445.9 L547.8 2445.5 L548.8 2444.2 L549.2 2443.1 M642.3 2472.0 L643.0 2471.4 L643.6 2470.9 L644.9 2471.1 L645.8 2471.6 L646.9 2472.0 L646.1 2472.7 L646.5 2473.5 L645.2 2473.4 L644.4 2473.5 L643.7 2473.1 L642.4 2472.8 L642.3 2472.0 M487.4 2359.7 L487.5 2360.9 L487.4 2361.9 L487.4 2362.8 L487.1 2364.3 L486.4 2364.4 L485.8 2365.0 L485.3 2364.5 L485.2 2363.5 L485.3 2362.2 L486.0 2360.9 L486.7 2360.1 L487.4 2359.7 M599.9 2460.6 L599.2 2459.5 L599.5 2457.9 L601.1 2456.9 L602.9 2456.2 L604.0 2457.5 L605.6 2457.9 L605.8 2459.5 L604.2 2460.6 L603.3 2461.7 L601.9 2462.0 L601.0 2461.1 L599.9 2460.6 M572.1 2426.0 L574.0 2424.7 L575.1 2423.9 L576.4 2422.7 L578.1 2423.0 L579.4 2423.1 L580.7 2423.4 L580.1 2424.3 L578.8 2425.1 L577.5 2426.5 L575.4 2426.4 L573.3 2426.6 L572.1 2426.0 M556.8 2414.6 L557.6 2414.1 L558.7 2414.1 L559.7 2414.0 L561.0 2414.5 L561.4 2415.5 L561.5 2416.4 L560.5 2416.8 L559.6 2417.1 L558.4 2417.1 L557.8 2416.2 L557.0 2415.5 L556.8 2414.6 M447.5 2259.3 L447.2 2261.1 L447.6 2262.1 L446.5 2264.4 L445.1 2265.4 L443.9 2267.1 L442.6 2268.0 L443.0 2266.1 L443.1 2264.8 L444.1 2263.0 L445.1 2261.9 L446.0 2260.8 L447.5 2259.3 M440.7 2170.2 L443.6 2169.5 L447.9 2169.9 L452.4 2170.0 L455.7 2172.2 L461.7 2173.9 L461.3 2175.3 L457.5 2175.4 L454.8 2175.5 L451.2 2174.8 L447.4 2173.7 L442.8 2172.1 L440.7 2170.2 M438.0 2267.7 L439.4 2267.9 L440.4 2269.3 L440.2 2271.2 L439.7 2272.9 L438.4 2272.9 L437.6 2273.2 L436.5 2273.4 L435.1 2272.7 L435.8 2270.8 L435.9 2269.3 L437.1 2269.1 L438.0 2267.7 M526.5 2434.1 L527.0 2434.1 L527.7 2433.8 L528.8 2435.2 L530.5 2436.2 L530.3 2436.9 L531.1 2438.2 L530.0 2437.9 L528.8 2437.2 L527.5 2436.8 L526.7 2435.5 L525.7 2434.3 L526.5 2434.1 M460.5 2206.4 L460.1 2208.0 L459.5 2209.3 L458.4 2209.1 L457.4 2209.8 L456.5 2208.7 L456.2 2207.3 L455.5 2205.7 L456.7 2205.1 L457.5 2204.8 L458.4 2204.9 L459.1 2205.6 L460.5 2206.4 M460.9 2259.0 L461.9 2258.8 L462.8 2261.8 L462.7 2265.8 L462.5 2268.5 L462.6 2273.4 L461.3 2270.8 L460.3 2273.4 L459.8 2269.1 L458.9 2265.9 L459.0 2261.7 L459.9 2259.5 L460.9 2259.0 M469.9 2161.1 L470.2 2160.1 L471.3 2161.2 L472.6 2161.3 L473.0 2162.6 L473.4 2163.8 L472.5 2164.0 L472.0 2164.6 L470.9 2164.9 L470.2 2163.4 L469.3 2162.5 L468.6 2161.2 L469.9 2161.1 M471.3 2221.4 L471.1 2222.8 L472.0 2223.7 L470.3 2224.8 L469.6 2225.8 L468.6 2226.5 L467.9 2226.0 L467.6 2225.2 L467.0 2224.3 L467.5 2222.6 L469.0 2222.1 L470.1 2221.8 L471.3 2221.4 M443.3 2273.5 L443.0 2275.1 L440.6 2279.5 L438.7 2283.6 L435.7 2288.2 L432.4 2293.0 L432.7 2291.2 L430.8 2292.9 L433.2 2287.9 L436.6 2282.3 L439.1 2278.8 L441.9 2274.5 L443.3 2273.5 M447.5 2334.7 L449.4 2334.8 L452.4 2337.6 L454.3 2342.6 L457.5 2346.8 L456.7 2348.8 L456.1 2350.1 L455.8 2353.1 L452.6 2348.0 L450.5 2344.7 L447.3 2340.3 L447.7 2337.8 L447.5 2334.7 M453.2 2281.0 L454.3 2279.9 L455.4 2281.2 L455.4 2282.9 L455.8 2284.2 L455.6 2285.8 L454.3 2285.4 L453.5 2285.3 L452.5 2285.1 L451.2 2284.0 L451.0 2282.0 L452.3 2281.3 L453.2 2281.0 M470.1 2269.0 L470.7 2269.0 L471.6 2269.8 L472.0 2272.4 L472.3 2274.6 L471.7 2275.2 L471.2 2275.4 L470.7 2276.0 L470.0 2274.9 L469.9 2272.8 L469.5 2271.0 L469.8 2270.1 L470.1 2269.0 M491.5 2404.8 L493.3 2404.1 L494.2 2403.3 L496.2 2403.2 L497.9 2403.6 L499.3 2404.2 L500.7 2405.1 L500.0 2406.1 L497.7 2406.3 L496.0 2406.5 L493.7 2406.8 L492.3 2405.8 L491.5 2404.8 M478.5 2192.7 L479.4 2192.9 L480.4 2193.4 L481.4 2194.7 L481.8 2196.5 L481.4 2198.0 L480.4 2198.8 L479.2 2198.0 L478.3 2197.2 L477.7 2195.8 L476.8 2194.1 L478.0 2193.5 L478.5 2192.7 M458.2 2168.7 L459.3 2168.4 L460.7 2169.6 L461.6 2170.7 L462.9 2171.9 L462.6 2172.9 L462.0 2173.3 L461.8 2174.6 L460.4 2173.5 L459.4 2172.5 L458.4 2171.2 L458.6 2170.2 L458.2 2168.7 M505.6 2370.2 L509.9 2371.8 L512.0 2372.3 L517.3 2374.7 L521.2 2377.0 L523.4 2378.5 L527.9 2381.2 L526.8 2381.4 L520.6 2378.5 L516.3 2376.6 L510.5 2373.8 L506.0 2371.1 L505.6 2370.2 M449.8 2286.4 L450.6 2288.5 L451.4 2290.7 L452.5 2294.9 L452.9 2300.5 L452.1 2300.5 L451.9 2302.6 L451.3 2302.1 L450.6 2299.4 L449.7 2295.3 L449.5 2291.0 L449.6 2288.2 L449.8 2286.4 M481.5 2315.5 L482.7 2314.3 L483.9 2317.8 L485.4 2321.0 L484.2 2323.8 L484.2 2326.9 L483.1 2327.3 L481.9 2328.1 L480.4 2325.9 L479.4 2321.9 L479.6 2318.2 L480.4 2316.0 L481.5 2315.5 M487.4 2369.0 L488.3 2369.7 L488.4 2371.2 L489.3 2372.1 L488.5 2373.1 L487.9 2373.6 L487.4 2374.4 L486.6 2374.2 L485.7 2373.6 L486.0 2372.0 L486.2 2370.9 L486.6 2369.6 L487.4 2369.0 M443.3 2274.0 L443.9 2272.2 L445.8 2273.8 L447.2 2275.0 L448.6 2276.7 L448.7 2278.4 L447.6 2279.2 L446.3 2279.1 L444.9 2280.3 L443.6 2278.0 L443.1 2276.4 L441.9 2274.5 L443.3 2274.0 M499.8 2408.6 L502.3 2409.4 L504.1 2410.0 L506.0 2410.1 L507.5 2411.5 L509.6 2412.7 L509.5 2413.3 L508.5 2413.3 L506.9 2412.8 L504.9 2412.4 L503.3 2411.1 L500.2 2409.6 L499.8 2408.6 M513.4 2427.4 L514.5 2426.7 L516.8 2427.1 L518.7 2427.7 L521.4 2428.5 L523.0 2430.1 L522.0 2431.0 L521.9 2432.3 L519.3 2431.5 L517.1 2431.5 L515.6 2430.0 L513.6 2428.7 L513.4 2427.4 M454.3 2254.9 L455.0 2255.5 L456.0 2255.7 L456.1 2257.6 L455.9 2259.5 L455.1 2260.7 L454.2 2260.9 L453.4 2260.5 L453.1 2258.9 L453.1 2257.6 L452.8 2255.7 L453.6 2255.0 L454.3 2254.9 M440.1 2311.6 L441.5 2310.3 L441.8 2314.8 L443.1 2317.6 L442.5 2321.1 L441.3 2321.9 L440.6 2326.3 L439.4 2323.5 L438.1 2321.9 L437.8 2317.7 L438.2 2314.2 L438.7 2310.3 L440.1 2311.6 M508.8 2061.5 L510.5 2061.5 L510.0 2063.0 L510.8 2064.4 L509.9 2065.4 L508.4 2065.4 L507.0 2065.8 L506.5 2064.3 L506.0 2063.4 L505.0 2061.8 L506.4 2061.0 L507.7 2059.9 L508.8 2061.5 M424.3 2179.4 L423.8 2178.3 L430.1 2174.7 L433.5 2171.9 L438.5 2169.8 L443.8 2167.4 L444.0 2168.7 L441.8 2170.8 L441.8 2172.4 L435.4 2175.3 L430.0 2178.6 L425.1 2180.3 L424.3 2179.4 M482.5 2345.2 L483.0 2344.7 L484.2 2345.8 L485.1 2347.0 L485.9 2348.2 L486.3 2349.5 L486.2 2350.4 L485.4 2350.5 L484.2 2349.6 L483.3 2348.2 L482.9 2347.0 L482.2 2345.8 L482.5 2345.2 M461.9 2374.5 L462.8 2375.1 L461.9 2376.8 L461.9 2378.2 L460.6 2379.0 L459.3 2380.2 L458.9 2378.9 L458.2 2378.4 L457.8 2377.4 L458.6 2376.0 L459.7 2375.1 L460.9 2374.2 L461.9 2374.5 M477.8 2233.5 L478.1 2234.9 L478.2 2236.4 L477.8 2238.5 L476.7 2239.8 L475.8 2242.1 L475.2 2241.4 L474.1 2241.8 L474.2 2239.8 L474.8 2237.5 L475.6 2235.3 L476.7 2234.6 L477.8 2233.5 M594.0 2457.5 L593.2 2456.9 L594.7 2456.4 L595.7 2455.8 L596.9 2455.8 L597.7 2456.2 L597.8 2456.7 L598.5 2457.3 L597.7 2458.1 L596.2 2458.1 L594.9 2458.5 L594.4 2458.0 L594.0 2457.5 M448.4 2233.7 L449.5 2234.4 L448.0 2236.7 L447.4 2238.3 L446.1 2239.2 L444.5 2241.2 L442.8 2241.3 L443.6 2238.9 L443.5 2237.6 L444.4 2236.1 L445.5 2234.0 L447.3 2233.1 L448.4 2233.7 M435.7 2293.4 L436.3 2293.7 L436.1 2294.8 L436.2 2296.1 L435.3 2297.1 L434.5 2297.8 L433.7 2298.2 L433.3 2297.4 L432.8 2296.5 L433.3 2294.8 L434.4 2294.0 L435.1 2293.3 L435.7 2293.4 M446.7 2346.5 L447.1 2345.4 L448.0 2346.7 L449.1 2347.8 L449.1 2349.3 L449.0 2350.4 L448.4 2350.5 L448.0 2351.8 L447.0 2350.3 L446.3 2349.0 L445.9 2347.6 L445.6 2346.0 L446.7 2346.5 M469.5 2225.1 L469.4 2225.6 L469.0 2226.6 L465.8 2226.5 L462.6 2226.1 L461.5 2225.2 L462.1 2224.6 L461.2 2223.7 L462.9 2223.1 L466.0 2223.5 L467.7 2224.1 L469.6 2224.5 L469.5 2225.1 M580.7 2450.0 L582.9 2448.8 L583.3 2447.6 L585.7 2447.0 L588.2 2446.4 L589.7 2447.1 L589.9 2448.1 L591.0 2449.1 L588.5 2450.1 L586.6 2451.4 L584.2 2451.0 L581.9 2450.9 L580.7 2450.0 M469.6 2218.0 L470.6 2219.0 L469.6 2220.7 L467.6 2222.2 L465.5 2222.5 L462.4 2224.2 L462.3 2222.3 L462.7 2220.9 L463.0 2219.3 L464.8 2217.5 L467.2 2217.0 L469.4 2216.6 L469.6 2218.0 M554.0 2399.3 L559.1 2401.7 L561.6 2402.5 L566.4 2404.9 L569.9 2408.2 L571.9 2410.2 L574.5 2412.8 L572.3 2412.4 L569.9 2412.1 L564.0 2408.5 L560.6 2405.2 L556.4 2402.0 L554.0 2399.3 M525.6 2439.2 L530.2 2439.5 L531.0 2438.5 L536.2 2439.7 L540.6 2440.7 L545.1 2442.2 L546.3 2443.5 L542.7 2443.6 L540.7 2444.2 L535.6 2442.7 L532.4 2441.8 L528.0 2440.6 L525.6 2439.2 M433.0 2173.1 L432.3 2171.8 L436.0 2173.5 L438.3 2173.7 L440.1 2175.3 L444.0 2177.1 L442.8 2177.6 L442.3 2178.2 L440.3 2178.1 L437.2 2176.2 L435.2 2175.1 L432.0 2173.6 L433.0 2173.1 M475.1 2231.8 L475.0 2233.0 L472.4 2235.9 L468.9 2238.8 L465.6 2242.0 L463.3 2243.1 L461.9 2243.4 L462.5 2242.0 L463.0 2240.2 L467.2 2236.9 L470.3 2234.4 L472.6 2233.0 L475.1 2231.8 M488.2 2232.7 L489.7 2233.2 L486.2 2236.1 L484.1 2239.1 L480.6 2239.7 L477.5 2241.3 L474.1 2242.4 L475.9 2239.8 L477.0 2237.6 L480.7 2234.2 L484.8 2232.7 L487.0 2232.3 L488.2 2232.7 M527.8 2428.5 L528.8 2428.9 L530.0 2429.8 L531.2 2432.4 L531.7 2435.1 L531.4 2436.6 L531.0 2437.9 L529.9 2437.4 L528.9 2435.3 L527.3 2433.7 L526.5 2430.6 L526.8 2428.5 L527.8 2428.5 M502.0 2205.5 L502.7 2207.0 L503.2 2208.0 L503.7 2209.4 L502.6 2210.4 L501.7 2211.3 L500.6 2210.9 L499.7 2210.5 L498.4 2209.7 L499.2 2208.2 L499.1 2206.3 L500.7 2206.2 L502.0 2205.5 M490.0 2215.1 L490.6 2215.9 L491.0 2217.4 L491.0 2220.2 L490.0 2221.9 L489.5 2225.5 L488.7 2224.6 L488.3 2223.5 L487.7 2222.4 L488.0 2219.8 L488.6 2217.4 L489.3 2215.1 L490.0 2215.1 M442.0 2240.2 L443.2 2240.4 L443.7 2241.6 L444.7 2242.1 L444.0 2243.1 L444.3 2244.3 L443.5 2245.0 L442.5 2244.8 L441.7 2244.1 L440.9 2243.3 L441.5 2242.3 L441.5 2241.3 L442.0 2240.2 M493.1 2212.8 L492.9 2215.9 L492.6 2218.7 L490.7 2222.6 L488.9 2226.1 L486.5 2230.2 L486.2 2227.7 L484.6 2228.3 L485.1 2225.0 L487.4 2221.1 L488.9 2217.6 L491.4 2213.1 L493.1 2212.8 M497.1 2231.5 L495.5 2233.3 L493.7 2234.8 L492.1 2236.6 L489.0 2238.3 L487.7 2237.8 L485.3 2238.2 L485.0 2237.1 L488.5 2235.0 L490.4 2233.7 L492.9 2232.1 L494.8 2231.9 L497.1 2231.5 M534.7 2387.6 L535.3 2386.6 L536.6 2387.4 L537.5 2388.1 L539.3 2388.8 L539.2 2390.5 L538.2 2391.5 L536.8 2391.3 L535.7 2391.4 L534.7 2390.6 L534.3 2389.5 L533.6 2388.2 L534.7 2387.6 M448.6 2210.0 L450.1 2210.5 L448.1 2212.8 L446.4 2214.7 L444.5 2215.3 L443.0 2215.7 L440.8 2216.5 L441.0 2215.0 L442.0 2213.2 L443.6 2211.4 L445.5 2210.8 L448.0 2208.9 L448.6 2210.0 M518.8 2419.8 L519.8 2420.3 L521.9 2423.2 L525.2 2428.5 L527.8 2433.9 L529.1 2437.2 L529.8 2439.6 L528.3 2438.0 L526.2 2435.1 L522.9 2429.8 L521.6 2426.1 L519.5 2422.0 L518.8 2419.8 M485.4 2206.9 L485.9 2209.1 L484.6 2212.6 L484.6 2215.7 L482.3 2219.2 L480.5 2218.7 L478.5 2220.1 L476.7 2220.0 L476.9 2216.7 L479.7 2213.2 L481.1 2210.1 L483.5 2206.9 L485.4 2206.9 M507.0 2080.4 L508.8 2080.4 L508.0 2082.2 L506.1 2083.8 L504.5 2085.3 L503.0 2085.4 L501.3 2085.6 L502.4 2083.6 L501.6 2082.4 L503.8 2081.2 L505.1 2080.0 L507.2 2078.5 L507.0 2080.4 M469.8 2237.2 L469.9 2238.4 L469.9 2240.1 L467.8 2240.7 L466.1 2240.6 L463.8 2241.1 L463.3 2239.6 L462.5 2238.2 L464.0 2236.6 L466.1 2236.2 L468.0 2235.2 L469.5 2236.0 L469.8 2237.2 M456.8 2347.2 L457.6 2346.8 L458.0 2346.2 L459.2 2345.9 L460.8 2346.1 L461.5 2346.9 L462.0 2347.7 L461.2 2348.4 L460.1 2348.7 L458.9 2348.4 L457.7 2348.4 L457.2 2347.8 L456.8 2347.2 M456.8 2213.5 L457.1 2215.2 L454.5 2219.0 L451.7 2222.7 L448.5 2224.5 L445.6 2226.8 L444.3 2226.5 L444.3 2225.0 L444.5 2222.9 L448.3 2219.4 L451.2 2216.6 L453.7 2215.2 L456.8 2213.5 M497.3 2093.6 L499.3 2094.1 L492.6 2095.8 L487.3 2097.1 L480.9 2098.7 L475.7 2099.3 L477.1 2098.2 L479.7 2097.1 L481.0 2096.1 L486.7 2094.5 L493.5 2093.1 L497.1 2093.0 L497.3 2093.6 M536.2 2430.0 L539.6 2434.3 L540.9 2434.0 L543.8 2438.8 L546.6 2443.6 L546.6 2445.8 L548.1 2449.9 L544.4 2445.0 L543.2 2445.6 L540.2 2441.0 L538.7 2437.1 L536.3 2432.5 L536.2 2430.0 M475.5 2366.4 L476.8 2367.3 L476.8 2370.2 L477.7 2372.1 L477.6 2375.4 L476.0 2375.9 L475.0 2376.1 L473.9 2375.9 L472.9 2374.6 L472.7 2371.9 L473.4 2369.5 L474.3 2367.8 L475.5 2366.4 M505.4 2101.1 L504.8 2102.3 L502.2 2102.6 L500.1 2103.3 L497.6 2102.7 L494.5 2102.2 L495.7 2100.8 L496.1 2099.8 L497.0 2098.4 L500.2 2098.4 L502.0 2099.6 L504.5 2100.0 L505.4 2101.1 M501.6 2081.6 L502.1 2082.8 L501.1 2085.0 L498.6 2086.8 L496.8 2088.2 L494.2 2090.4 L492.5 2090.1 L493.1 2088.1 L492.9 2086.2 L495.4 2083.5 L498.0 2082.4 L499.6 2082.3 L501.6 2081.6 M477.1 2124.4 L479.1 2125.0 L480.9 2128.2 L483.0 2129.8 L484.3 2133.2 L484.3 2135.9 L482.2 2135.1 L481.2 2135.8 L479.5 2134.5 L478.2 2132.1 L477.4 2129.7 L476.2 2126.3 L477.1 2124.4 M473.3 2314.3 L474.6 2314.6 L475.3 2318.5 L476.5 2321.2 L475.3 2323.5 L475.6 2327.7 L474.2 2325.7 L473.2 2326.8 L472.4 2324.4 L471.5 2321.6 L472.1 2318.9 L472.7 2317.2 L473.3 2314.3 M473.1 2249.7 L474.8 2250.4 L475.7 2250.0 L477.6 2251.3 L478.9 2253.0 L480.1 2254.8 L479.0 2255.0 L478.5 2255.5 L476.9 2254.5 L475.1 2254.1 L473.3 2252.2 L473.5 2251.1 L473.1 2249.7 M424.7 2175.9 L425.8 2175.2 L426.2 2177.0 L427.3 2178.0 L426.5 2179.3 L426.0 2180.1 L425.3 2180.8 L424.3 2181.0 L423.6 2179.7 L422.5 2178.6 L422.6 2176.6 L423.9 2176.1 L424.7 2175.9 M524.4 2434.7 L520.3 2434.1 L527.3 2433.2 L532.0 2432.6 L536.2 2432.5 L540.8 2432.3 L540.6 2433.1 L539.9 2433.8 L536.9 2434.6 L532.3 2435.5 L527.0 2435.7 L523.8 2435.4 L524.4 2434.7 M513.1 2110.8 L511.9 2111.5 L509.0 2111.6 L505.3 2110.9 L500.8 2110.0 L499.6 2108.6 L496.0 2106.9 L498.4 2106.3 L500.9 2105.6 L506.1 2107.1 L509.2 2108.5 L514.3 2109.8 L513.1 2110.8 M479.4 2270.7 L480.4 2270.5 L481.0 2271.1 L481.5 2271.8 L481.8 2272.8 L480.8 2273.4 L480.1 2274.5 L479.1 2273.6 L477.8 2273.6 L477.0 2272.7 L478.0 2271.7 L478.5 2270.9 L479.4 2270.7 M555.7 2453.6 L556.8 2452.1 L559.9 2451.1 L561.9 2449.2 L564.4 2450.2 L568.1 2449.6 L569.1 2450.8 L567.2 2452.3 L566.2 2453.8 L562.9 2454.4 L559.6 2455.3 L559.0 2453.8 L555.7 2453.6 M455.7 2228.4 L455.0 2229.1 L454.3 2230.1 L453.1 2229.5 L452.1 2229.1 L451.3 2228.3 L451.2 2227.2 L452.2 2226.6 L453.1 2226.4 L454.1 2225.8 L454.7 2226.8 L455.8 2227.3 L455.7 2228.4 M522.2 2422.3 L522.9 2422.1 L523.7 2421.4 L526.1 2423.5 L527.3 2424.9 L529.9 2427.0 L529.3 2427.7 L527.6 2427.2 L526.4 2427.1 L524.5 2425.5 L523.1 2424.2 L522.0 2422.9 L522.2 2422.3 M470.6 2079.6 L471.4 2081.4 L469.9 2087.4 L469.2 2092.3 L466.8 2096.3 L464.8 2101.2 L463.1 2102.5 L462.0 2101.6 L463.9 2095.2 L464.8 2090.8 L466.6 2084.5 L469.0 2080.3 L470.6 2079.6 M477.1 2093.7 L477.3 2095.3 L477.1 2096.9 L476.5 2099.0 L474.7 2100.4 L473.0 2101.2 L471.8 2100.8 L471.4 2099.6 L471.2 2098.0 L472.5 2096.1 L474.1 2095.3 L475.5 2094.2 L477.1 2093.7 M487.2 2344.4 L487.8 2345.0 L488.7 2345.9 L488.1 2349.4 L486.8 2351.9 L485.7 2353.7 L484.3 2355.8 L483.7 2354.3 L483.4 2351.9 L483.9 2348.4 L485.0 2344.7 L486.4 2343.9 L487.2 2344.4 M474.0 2349.1 L475.4 2350.2 L476.7 2355.1 L477.2 2359.9 L478.2 2364.5 L477.8 2367.3 L477.0 2367.7 L476.2 2370.0 L474.8 2365.5 L474.4 2360.3 L473.9 2356.6 L473.8 2353.3 L474.0 2349.1 M525.9 2396.1 L527.2 2395.3 L531.8 2396.0 L534.9 2396.2 L537.4 2397.4 L540.4 2398.3 L542.0 2399.4 L540.8 2400.0 L537.4 2399.7 L534.4 2399.0 L531.7 2398.4 L528.3 2397.4 L525.9 2396.1 M577.3 2433.6 L578.8 2432.7 L580.2 2431.8 L582.3 2432.8 L584.5 2433.3 L584.6 2434.8 L585.6 2436.3 L584.6 2437.4 L582.7 2437.7 L580.5 2438.1 L578.6 2436.8 L578.6 2435.1 L577.3 2433.6 M639.5 2470.1 L638.5 2468.7 L641.0 2467.6 L642.2 2465.8 L644.4 2466.2 L646.4 2466.5 L646.7 2468.0 L646.3 2469.3 L645.1 2470.3 L644.1 2472.1 L642.0 2471.5 L639.8 2471.5 L639.5 2470.1 M471.6 2118.1 L472.6 2116.8 L474.5 2120.7 L475.3 2127.0 L477.4 2133.7 L475.8 2134.2 L475.1 2135.6 L474.1 2135.8 L472.5 2133.2 L471.0 2127.9 L469.4 2121.0 L469.8 2116.5 L471.6 2118.1 M577.5 2420.9 L579.5 2419.4 L582.0 2418.6 L583.9 2416.5 L586.6 2417.6 L590.4 2417.5 L589.0 2419.4 L590.2 2420.7 L587.4 2421.8 L584.8 2423.4 L582.1 2422.4 L580.6 2421.6 L577.5 2420.9 M492.4 2089.6 L492.1 2090.2 L491.3 2090.4 L490.3 2089.9 L489.6 2089.5 L488.7 2088.9 L488.4 2088.1 L488.9 2087.5 L490.1 2087.7 L491.0 2088.0 L492.0 2088.4 L492.9 2089.1 L492.4 2089.6 M466.5 2202.7 L467.9 2201.8 L466.9 2205.4 L463.6 2211.0 L461.4 2215.2 L458.1 2221.1 L457.0 2221.3 L458.7 2216.6 L458.4 2215.1 L460.9 2209.6 L463.8 2205.2 L465.4 2203.4 L466.5 2202.7 M454.2 2119.8 L454.9 2119.8 L455.3 2120.8 L455.7 2122.1 L455.9 2123.8 L455.1 2124.7 L454.3 2125.3 L453.6 2124.7 L452.8 2123.9 L453.1 2122.2 L452.7 2120.4 L453.4 2119.5 L454.2 2119.8 M573.8 2416.8 L577.7 2417.9 L580.4 2418.5 L584.5 2419.9 L587.5 2421.6 L592.4 2423.7 L593.8 2425.0 L592.2 2425.1 L588.6 2424.2 L583.6 2421.9 L580.4 2420.4 L575.4 2418.2 L573.8 2416.8 M513.6 2118.1 L513.7 2119.1 L512.3 2120.0 L509.0 2119.1 L506.4 2118.7 L505.4 2117.6 L502.6 2116.4 L504.2 2115.5 L506.3 2114.9 L509.6 2115.5 L512.6 2116.0 L514.9 2117.1 L513.6 2118.1 M483.5 2334.1 L484.9 2335.2 L486.3 2337.1 L486.1 2340.9 L486.2 2343.1 L486.1 2345.3 L485.6 2348.1 L484.3 2345.4 L483.1 2344.5 L482.1 2341.5 L482.7 2339.0 L482.7 2336.1 L483.5 2334.1 M499.2 2360.7 L500.1 2361.4 L500.5 2362.3 L500.7 2363.3 L500.6 2364.5 L499.7 2365.0 L498.8 2365.7 L498.3 2364.4 L497.1 2364.3 L497.2 2363.0 L497.7 2362.1 L498.2 2361.0 L499.2 2360.7 M490.7 2235.8 L491.2 2237.5 L490.7 2240.4 L490.1 2243.5 L488.2 2246.1 L485.9 2250.1 L484.0 2250.5 L483.5 2248.1 L483.6 2245.1 L486.0 2241.6 L487.3 2239.2 L488.9 2236.9 L490.7 2235.8 M454.7 2231.7 L454.4 2232.8 L453.3 2233.4 L452.3 2234.1 L451.2 2233.5 L449.6 2233.1 L449.6 2231.7 L449.4 2230.2 L450.7 2229.3 L452.2 2228.8 L453.5 2229.6 L455.2 2230.1 L454.7 2231.7 M460.5 2163.2 L460.3 2162.2 L462.8 2163.9 L466.1 2166.4 L468.4 2169.1 L472.8 2173.1 L471.3 2172.7 L472.0 2174.4 L467.7 2170.7 L464.6 2168.1 L462.0 2165.6 L457.3 2161.3 L460.5 2163.2 M436.1 2280.6 L437.3 2280.7 L439.0 2281.5 L438.4 2283.4 L438.2 2285.3 L436.4 2285.3 L435.3 2285.0 L433.4 2285.8 L433.5 2283.8 L432.9 2282.4 L433.8 2281.2 L434.8 2280.0 L436.1 2280.6 M488.2 2206.1 L488.5 2207.2 L488.4 2208.5 L487.2 2209.5 L486.0 2210.5 L484.9 2210.3 L484.3 2209.7 L482.7 2209.5 L483.4 2207.9 L484.4 2206.5 L485.9 2205.4 L487.2 2205.8 L488.2 2206.1 M482.3 2124.6 L483.9 2124.6 L483.9 2126.9 L484.1 2129.0 L482.5 2130.3 L481.3 2132.0 L479.8 2132.0 L478.3 2131.5 L479.0 2128.9 L477.8 2127.0 L479.5 2125.3 L480.9 2123.5 L482.3 2124.6 M524.2 2411.2 L523.8 2410.5 L525.5 2411.0 L526.7 2411.2 L528.4 2411.7 L529.5 2412.6 L529.8 2413.3 L528.2 2413.1 L527.1 2413.0 L525.9 2413.1 L524.5 2412.3 L524.0 2411.6 L524.2 2411.2 M422.0 2227.0 L422.5 2225.8 L424.0 2230.5 L424.9 2235.3 L425.7 2239.0 L425.7 2241.2 L426.1 2244.7 L424.9 2241.5 L424.0 2240.0 L422.5 2235.9 L421.4 2230.3 L421.2 2226.8 L422.0 2227.0 M444.1 2287.9 L445.3 2288.5 L445.9 2289.4 L447.0 2290.2 L447.1 2291.7 L446.0 2292.6 L444.9 2293.1 L443.6 2293.2 L442.6 2292.3 L442.3 2291.0 L442.7 2289.9 L443.0 2288.7 L444.1 2287.9 M560.6 2427.4 L561.3 2427.2 L562.9 2428.9 L564.5 2432.7 L566.0 2435.7 L567.5 2439.3 L567.4 2440.8 L565.7 2438.9 L564.1 2436.8 L562.4 2433.8 L560.5 2430.1 L560.9 2429.2 L560.6 2427.4 M507.4 2079.4 L508.8 2080.0 L508.8 2081.7 L507.6 2083.0 L507.0 2084.0 L506.1 2084.4 L504.9 2084.9 L504.5 2083.7 L503.6 2082.8 L503.8 2081.3 L505.1 2080.5 L506.1 2078.9 L507.4 2079.4 M487.5 2181.3 L486.6 2184.6 L487.1 2185.2 L486.0 2189.0 L484.4 2191.0 L482.5 2195.9 L481.4 2196.8 L481.4 2195.0 L482.2 2191.8 L483.7 2188.1 L485.1 2184.1 L485.9 2184.3 L487.5 2181.3 M440.9 2235.3 L442.6 2234.5 L441.8 2237.3 L439.9 2241.0 L437.6 2244.4 L436.3 2244.3 L435.6 2244.2 L435.2 2243.5 L434.4 2242.6 L436.4 2238.8 L438.7 2236.1 L440.2 2235.2 L440.9 2235.3 M621.2 2444.6 L621.8 2444.5 L622.6 2444.0 L623.5 2445.4 L624.6 2446.4 L624.3 2447.3 L624.4 2448.3 L623.5 2448.3 L622.5 2448.2 L621.8 2446.9 L621.1 2446.0 L621.2 2445.4 L621.2 2444.6 M476.8 2244.0 L476.1 2244.8 L474.6 2245.1 L473.1 2245.0 L471.5 2244.8 L471.2 2244.0 L471.0 2243.3 L471.0 2242.7 L472.2 2242.4 L473.3 2242.5 L475.1 2242.2 L476.3 2243.0 L476.8 2244.0 M499.6 2104.8 L496.7 2109.1 L496.0 2111.5 L491.1 2116.5 L486.6 2121.4 L484.9 2121.5 L483.5 2122.0 L483.4 2120.8 L483.6 2118.9 L488.3 2113.9 L492.5 2109.9 L496.6 2106.4 L499.6 2104.8 M462.1 2117.0 L462.5 2118.0 L463.0 2118.9 L462.8 2120.6 L462.3 2122.3 L461.4 2123.6 L460.6 2123.8 L460.0 2123.1 L460.1 2121.4 L459.4 2119.8 L460.3 2117.6 L461.3 2116.7 L462.1 2117.0 M466.2 2195.7 L466.8 2196.0 L466.0 2198.1 L465.5 2200.0 L464.2 2201.7 L462.9 2203.2 L462.0 2203.5 L461.5 2202.8 L462.4 2200.6 L462.6 2198.4 L464.3 2197.1 L465.8 2194.7 L466.2 2195.7 M472.3 2123.4 L473.4 2124.9 L474.1 2128.3 L474.8 2130.5 L475.4 2133.6 L475.1 2135.8 L474.1 2134.9 L473.4 2134.7 L472.5 2134.0 L471.7 2130.9 L472.0 2128.6 L471.6 2124.9 L472.3 2123.4 M481.7 2298.1 L482.7 2298.9 L483.5 2300.4 L484.4 2302.3 L484.1 2304.6 L483.2 2305.3 L482.7 2307.0 L481.7 2307.0 L480.8 2305.1 L480.2 2302.8 L481.0 2301.3 L481.2 2299.6 L481.7 2298.1 M473.0 2119.1 L474.0 2119.1 L474.0 2120.9 L474.9 2122.1 L474.3 2123.5 L473.5 2124.3 L472.8 2124.6 L471.6 2125.3 L471.3 2123.4 L470.8 2121.9 L471.2 2120.3 L471.9 2118.8 L473.0 2119.1 M491.9 2189.7 L492.6 2189.3 L492.7 2193.3 L492.8 2195.9 L492.7 2198.6 L492.4 2201.9 L491.8 2201.9 L491.2 2202.0 L491.2 2198.0 L491.1 2195.9 L491.2 2193.5 L491.4 2191.1 L491.9 2189.7 M468.8 2390.1 L470.7 2389.4 L472.6 2389.1 L474.5 2388.2 L476.3 2389.2 L478.7 2389.7 L478.5 2390.6 L477.6 2391.3 L477.3 2392.6 L474.3 2392.1 L471.2 2392.2 L468.9 2391.3 L468.8 2390.1 M471.9 2166.0 L473.1 2165.0 L475.4 2164.3 L477.9 2163.7 L480.9 2163.3 L483.4 2163.6 L483.3 2164.6 L481.3 2165.4 L481.3 2166.4 L478.2 2166.4 L476.1 2166.6 L474.8 2166.2 L471.9 2166.0 M452.7 2353.6 L454.8 2355.1 L455.8 2355.2 L457.2 2356.4 L458.1 2357.9 L458.6 2359.1 L458.2 2359.7 L458.2 2360.9 L456.6 2360.2 L455.3 2358.1 L454.2 2356.8 L452.4 2354.7 L452.7 2353.6 M470.8 2113.8 L469.5 2115.4 L469.6 2116.1 L467.4 2118.0 L465.1 2120.1 L464.3 2119.9 L462.1 2121.2 L463.8 2119.3 L465.0 2117.9 L466.3 2116.7 L467.8 2115.5 L469.6 2114.3 L470.8 2113.8 M444.0 2295.1 L444.7 2296.0 L445.4 2296.6 L445.9 2298.4 L446.0 2300.0 L446.3 2302.0 L445.8 2302.6 L445.0 2301.1 L444.4 2300.6 L443.8 2298.8 L443.3 2296.7 L443.3 2294.8 L444.0 2295.1 M630.5 2459.5 L631.4 2458.9 L632.1 2458.1 L635.2 2457.4 L638.8 2456.8 L639.0 2457.7 L639.6 2458.0 L642.1 2458.4 L638.1 2459.1 L635.6 2459.7 L632.0 2460.5 L631.6 2459.8 L630.5 2459.5 M474.8 2329.2 L475.7 2328.6 L476.7 2328.3 L477.9 2328.3 L478.6 2329.0 L480.4 2329.3 L479.4 2330.1 L479.5 2330.9 L478.3 2330.8 L477.3 2331.4 L476.1 2330.7 L475.5 2330.0 L474.8 2329.2 M549.0 2418.2 L549.6 2417.7 L550.5 2418.2 L551.1 2419.3 L552.1 2420.5 L551.8 2421.5 L551.2 2422.0 L550.4 2421.9 L549.4 2422.1 L548.4 2420.9 L547.8 2419.5 L548.5 2418.7 L549.0 2418.2 M429.1 2312.6 L432.2 2314.6 L435.0 2316.5 L438.8 2319.5 L442.0 2322.9 L443.5 2325.0 L445.7 2327.8 L445.4 2328.8 L440.2 2324.2 L436.8 2321.7 L431.8 2317.3 L431.2 2315.4 L429.1 2312.6 M511.6 2060.2 L512.8 2059.0 L512.7 2063.3 L512.7 2065.6 L513.0 2068.7 L512.2 2070.3 L511.4 2070.7 L510.7 2069.7 L510.1 2068.3 L509.9 2065.5 L510.2 2062.7 L511.0 2061.6 L511.6 2060.2 M668.8 2468.4 L667.1 2468.5 L668.8 2466.5 L671.3 2465.2 L672.8 2464.1 L675.0 2462.7 L677.0 2462.2 L676.2 2464.0 L675.4 2465.6 L672.7 2467.0 L670.7 2468.8 L669.5 2468.7 L668.8 2468.4 M508.6 2114.7 L508.0 2116.1 L507.7 2116.9 L507.0 2117.4 L506.2 2118.4 L505.1 2117.5 L504.6 2116.2 L504.4 2115.0 L504.1 2113.3 L505.5 2113.4 L506.5 2112.5 L507.7 2113.4 L508.6 2114.7 M454.8 2278.4 L456.1 2278.7 L457.4 2279.3 L459.0 2280.6 L458.9 2282.5 L458.8 2283.8 L458.6 2285.3 L457.4 2285.8 L456.1 2283.8 L455.0 2282.8 L453.2 2280.8 L454.4 2279.7 L454.8 2278.4 M443.3 2254.6 L443.5 2255.5 L443.2 2257.3 L442.8 2259.2 L441.8 2261.0 L441.0 2261.6 L440.0 2263.0 L440.3 2261.2 L440.2 2260.1 L440.4 2258.3 L441.5 2256.5 L442.4 2255.3 L443.3 2254.6 M487.3 2386.5 L490.1 2388.1 L492.3 2388.2 L496.0 2392.1 L499.1 2396.6 L498.4 2398.5 L497.4 2399.1 L496.9 2400.6 L494.4 2399.4 L490.9 2396.2 L488.5 2392.1 L488.3 2389.7 L487.3 2386.5 M437.7 2329.8 L439.0 2327.7 L438.2 2331.7 L436.3 2337.6 L434.5 2343.1 L433.3 2344.8 L432.7 2345.2 L432.3 2345.0 L432.6 2342.3 L434.5 2337.0 L436.1 2331.8 L437.3 2329.4 L437.7 2329.8 M501.5 2205.8 L502.1 2207.1 L503.8 2207.6 L503.4 2210.0 L502.5 2212.0 L501.0 2212.0 L499.9 2212.2 L498.0 2213.0 L498.2 2210.6 L498.1 2208.7 L498.4 2206.1 L500.3 2206.3 L501.5 2205.8 M619.3 2450.7 L620.5 2450.1 L624.1 2451.2 L627.7 2453.1 L631.5 2455.2 L631.1 2456.4 L632.9 2458.1 L632.4 2459.1 L628.7 2457.3 L625.9 2456.4 L622.9 2454.5 L622.6 2453.3 L619.3 2450.7 M448.3 2244.9 L448.8 2246.1 L449.9 2246.7 L449.0 2249.2 L448.5 2250.7 L447.9 2252.6 L447.0 2252.5 L446.0 2252.6 L446.3 2250.2 L445.7 2248.6 L446.6 2246.9 L447.3 2244.5 L448.3 2244.9 M490.3 2333.9 L491.1 2333.6 L492.5 2334.1 L494.1 2335.7 L495.1 2337.4 L495.1 2338.3 L494.9 2339.1 L494.3 2339.2 L493.2 2338.7 L492.0 2337.6 L490.4 2336.1 L490.3 2334.9 L490.3 2333.9 M477.6 2118.7 L481.0 2123.2 L483.0 2125.5 L485.7 2128.7 L489.0 2134.6 L490.1 2138.9 L489.0 2139.8 L487.7 2140.1 L484.7 2136.9 L481.6 2131.0 L478.1 2125.0 L479.4 2123.8 L477.6 2118.7 M439.8 2216.9 L440.6 2217.8 L439.9 2220.8 L440.4 2222.4 L439.2 2223.6 L438.5 2226.3 L437.8 2225.3 L437.1 2224.9 L436.3 2224.1 L437.1 2221.6 L437.9 2220.2 L438.6 2218.6 L439.8 2216.9 M484.0 2178.1 L486.0 2179.7 L488.3 2182.1 L491.0 2184.4 L493.6 2188.4 L496.3 2192.4 L494.6 2191.6 L494.3 2192.2 L491.4 2189.0 L488.6 2186.3 L486.8 2183.0 L484.0 2179.1 L484.0 2178.1 M439.1 2250.1 L439.8 2250.6 L440.8 2252.4 L441.3 2258.9 L442.1 2264.8 L441.4 2265.8 L441.1 2267.2 L440.6 2269.7 L439.6 2264.6 L439.1 2259.1 L438.3 2253.8 L437.9 2247.1 L439.1 2250.1 M495.9 2128.6 L497.7 2128.5 L497.2 2130.9 L495.5 2132.8 L494.4 2135.7 L492.0 2137.2 L490.9 2135.7 L490.5 2134.2 L489.8 2132.5 L492.0 2130.3 L493.2 2127.3 L494.9 2128.3 L495.9 2128.6 M468.0 2226.1 L466.8 2226.7 L466.3 2227.1 L465.6 2227.9 L464.5 2227.5 L463.8 2227.0 L464.0 2226.3 L463.8 2225.6 L464.5 2225.2 L465.4 2224.9 L466.2 2225.3 L467.1 2225.5 L468.0 2226.1 M567.4 2448.0 L567.2 2446.7 L570.7 2446.7 L572.5 2446.5 L574.9 2446.2 L575.8 2447.2 L578.5 2448.0 L575.8 2448.9 L575.6 2450.4 L572.5 2449.9 L570.5 2449.5 L567.5 2449.3 L567.4 2448.0 M448.0 2344.2 L448.8 2344.6 L449.5 2345.2 L450.4 2346.0 L450.8 2347.5 L450.1 2348.8 L448.8 2348.4 L447.7 2349.1 L446.7 2348.2 L446.5 2346.8 L446.1 2345.3 L447.3 2344.8 L448.0 2344.2 M478.5 2252.9 L479.9 2253.7 L479.9 2256.1 L480.1 2257.8 L480.1 2260.1 L478.5 2260.6 L477.4 2260.6 L475.6 2261.5 L476.0 2258.7 L475.5 2257.1 L475.5 2254.6 L477.3 2254.7 L478.5 2252.9 M458.2 2331.8 L459.2 2331.4 L458.6 2333.7 L457.8 2335.5 L457.1 2337.5 L456.3 2337.7 L455.3 2338.8 L454.7 2338.3 L455.4 2336.1 L455.6 2334.5 L456.6 2333.0 L457.6 2331.1 L458.2 2331.8 M578.8 2437.8 L578.6 2436.5 L580.3 2437.1 L581.6 2437.1 L582.3 2438.2 L584.4 2439.1 L584.0 2440.2 L582.9 2440.6 L581.8 2441.2 L580.3 2439.8 L578.8 2439.4 L578.9 2438.5 L578.8 2437.8 M459.7 2252.8 L460.6 2253.3 L460.4 2254.6 L460.9 2255.7 L459.7 2256.1 L459.4 2257.5 L458.6 2256.7 L458.1 2256.2 L457.2 2255.8 L457.8 2254.8 L457.8 2253.6 L458.8 2253.8 L459.7 2252.8 M455.2 2199.5 L454.5 2201.3 L454.8 2202.1 L452.6 2204.9 L450.9 2206.3 L448.9 2208.5 L448.9 2207.6 L448.5 2207.2 L448.7 2206.0 L450.9 2203.5 L452.5 2201.6 L453.8 2200.6 L455.2 2199.5 M497.5 2196.3 L496.9 2199.0 L496.6 2200.8 L496.4 2203.0 L494.7 2205.5 L493.3 2205.2 L491.3 2207.0 L491.7 2204.6 L492.2 2202.8 L493.0 2201.1 L494.0 2198.7 L495.6 2197.4 L497.5 2196.3 M461.6 2248.6 L462.8 2248.5 L463.0 2249.6 L464.5 2250.3 L463.7 2251.4 L462.4 2251.6 L461.5 2252.3 L460.3 2252.0 L459.3 2251.3 L459.5 2250.2 L459.0 2249.0 L460.3 2248.4 L461.6 2248.6 M538.5 2432.0 L539.9 2431.8 L541.5 2433.0 L543.0 2434.2 L544.1 2435.9 L543.9 2437.2 L543.6 2438.2 L543.1 2439.5 L541.3 2438.7 L539.7 2436.9 L538.5 2435.0 L538.4 2433.4 L538.5 2432.0 M475.1 2402.1 L479.5 2401.2 L480.5 2399.6 L486.1 2400.2 L490.5 2400.5 L496.0 2401.1 L495.3 2402.7 L494.7 2404.0 L489.5 2404.1 L486.0 2404.1 L482.2 2404.1 L480.1 2403.2 L475.1 2402.1 M462.6 2350.2 L466.2 2351.2 L468.1 2351.4 L470.6 2352.3 L474.5 2354.0 L474.4 2355.8 L476.8 2358.5 L474.9 2359.2 L471.3 2357.8 L468.4 2356.1 L466.3 2354.4 L462.1 2351.8 L462.6 2350.2 M431.5 2278.3 L435.8 2282.8 L437.1 2283.2 L441.3 2287.9 L444.0 2292.0 L446.8 2296.0 L449.2 2299.8 L446.1 2297.1 L442.6 2293.4 L438.9 2289.8 L436.4 2285.8 L431.8 2279.9 L431.5 2278.3 M431.9 2248.3 L433.7 2249.6 L435.6 2249.4 L438.2 2254.1 L439.5 2258.3 L439.7 2261.0 L440.6 2265.4 L438.0 2263.6 L435.5 2260.7 L433.8 2256.3 L432.0 2253.0 L430.2 2248.4 L431.9 2248.3 M549.6 2444.7 L550.4 2443.3 L551.3 2442.3 L552.6 2442.0 L553.7 2442.6 L554.9 2443.1 L554.6 2444.5 L554.8 2445.7 L554.0 2446.7 L552.8 2446.5 L551.6 2446.6 L551.1 2445.6 L549.6 2444.7 M474.8 2299.5 L475.8 2299.7 L475.6 2302.9 L475.1 2305.8 L474.7 2309.3 L473.5 2313.0 L472.2 2313.3 L472.0 2310.3 L471.4 2308.6 L471.7 2305.1 L472.6 2301.6 L473.8 2299.5 L474.8 2299.5 M453.5 2158.1 L453.1 2159.9 L452.3 2161.5 L451.5 2163.0 L450.3 2164.6 L449.0 2165.4 L448.4 2165.1 L447.5 2165.0 L448.6 2163.0 L449.2 2161.2 L450.7 2159.9 L451.7 2159.8 L453.5 2158.1 M474.7 2184.2 L475.7 2184.3 L477.2 2184.9 L479.0 2186.7 L480.1 2187.9 L481.6 2189.5 L480.7 2189.5 L481.2 2190.8 L479.3 2189.6 L477.6 2188.2 L476.8 2186.9 L475.8 2185.7 L474.7 2184.2 M454.7 2301.0 L456.1 2300.5 L457.5 2301.7 L458.6 2302.3 L459.0 2303.5 L459.8 2304.8 L458.7 2305.3 L457.9 2305.9 L456.8 2305.7 L455.0 2305.6 L454.2 2304.0 L454.9 2302.7 L454.7 2301.0 M457.8 2214.4 L457.8 2215.5 L457.3 2217.0 L455.7 2217.1 L454.9 2215.7 L453.7 2215.2 L454.1 2214.0 L453.7 2212.5 L454.7 2211.2 L456.3 2211.9 L457.7 2211.9 L458.7 2213.0 L457.8 2214.4 M461.4 2279.7 L462.3 2279.6 L462.5 2280.6 L461.6 2281.4 L461.5 2282.7 L460.6 2283.3 L460.0 2282.6 L459.4 2282.3 L459.2 2281.4 L459.3 2280.3 L460.1 2279.5 L460.9 2279.1 L461.4 2279.7 M427.0 2282.0 L428.0 2280.3 L429.5 2281.8 L429.7 2284.2 L430.6 2286.3 L429.5 2287.3 L428.8 2288.6 L427.5 2287.5 L426.5 2286.8 L425.9 2285.3 L424.5 2283.1 L425.7 2281.8 L427.0 2282.0 M501.2 2107.5 L503.6 2105.0 L502.5 2110.3 L501.4 2114.9 L499.4 2118.1 L498.0 2120.0 L495.8 2123.8 L495.0 2122.1 L495.3 2118.2 L497.1 2113.5 L498.5 2109.3 L500.5 2105.1 L501.2 2107.5 M585.3 2439.4 L585.5 2438.8 L586.5 2438.4 L587.1 2437.8 L588.2 2437.5 L589.2 2437.6 L588.8 2438.4 L589.2 2438.8 L588.8 2439.5 L587.6 2439.5 L586.5 2440.2 L585.5 2440.0 L585.3 2439.4 M457.9 2141.3 L459.6 2141.3 L459.8 2143.8 L460.2 2145.8 L458.7 2147.0 L458.1 2148.9 L456.9 2148.3 L455.9 2148.0 L454.3 2147.4 L455.3 2145.2 L455.5 2143.4 L456.4 2141.8 L457.9 2141.3 M446.9 2337.2 L448.1 2336.9 L449.4 2337.5 L450.1 2338.8 L449.7 2340.0 L450.1 2341.3 L449.2 2342.1 L448.1 2341.5 L447.1 2341.5 L446.6 2340.5 L446.0 2339.4 L445.8 2337.8 L446.9 2337.2 M436.5 2218.8 L436.6 2220.2 L436.2 2221.8 L434.6 2222.7 L432.8 2222.6 L431.8 2221.4 L430.5 2220.4 L431.4 2219.0 L431.5 2217.5 L433.2 2217.6 L434.4 2217.3 L435.5 2217.9 L436.5 2218.8 M509.3 2365.9 L508.8 2365.1 L510.0 2364.6 L511.6 2365.0 L512.9 2364.8 L514.2 2365.2 L513.4 2365.9 L513.4 2366.3 L513.0 2367.0 L511.6 2366.9 L510.5 2366.8 L510.1 2366.3 L509.3 2365.9 M472.7 2117.8 L474.8 2119.2 L476.9 2125.1 L478.1 2130.9 L479.6 2136.4 L480.0 2141.9 L479.1 2144.8 L476.8 2140.8 L475.0 2137.4 L473.4 2132.0 L472.0 2125.9 L471.8 2120.6 L472.7 2117.8 M510.7 2061.4 L511.3 2061.9 L512.3 2062.9 L509.9 2068.2 L508.2 2071.3 L506.5 2074.9 L506.0 2073.8 L504.5 2075.0 L505.7 2070.6 L506.9 2067.0 L508.5 2062.4 L510.7 2058.0 L510.7 2061.4 M506.6 2408.0 L507.6 2407.3 L508.9 2409.6 L509.9 2410.9 L510.1 2412.3 L510.9 2414.2 L510.2 2415.0 L509.4 2416.1 L507.8 2414.8 L506.9 2412.4 L506.1 2410.5 L506.6 2409.6 L506.6 2408.0 M452.4 2163.6 L452.3 2162.0 L454.9 2163.5 L456.7 2163.4 L457.9 2164.9 L458.4 2166.1 L459.1 2167.5 L458.4 2168.5 L456.2 2167.6 L454.3 2167.5 L452.5 2166.0 L452.2 2164.6 L452.4 2163.6 M472.8 2237.6 L472.5 2238.6 L472.2 2240.1 L467.9 2243.0 L462.9 2244.9 L462.1 2243.8 L460.4 2243.9 L459.6 2243.2 L461.4 2241.2 L465.6 2238.3 L469.6 2237.5 L473.1 2236.3 L472.8 2237.6 M445.7 2312.9 L447.0 2312.0 L448.2 2312.6 L449.2 2313.2 L450.0 2314.2 L449.4 2315.6 L448.0 2316.2 L447.0 2316.4 L445.5 2317.3 L445.5 2315.8 L444.0 2315.3 L444.4 2313.9 L445.7 2312.9 M591.4 2454.8 L592.0 2454.2 L592.6 2453.1 L593.7 2453.6 L594.1 2454.5 L595.0 2455.2 L594.5 2456.1 L593.9 2456.9 L593.2 2458.0 L592.0 2457.5 L591.0 2456.9 L590.5 2455.8 L591.4 2454.8 M496.9 2352.8 L497.5 2353.0 L498.2 2353.2 L498.3 2354.2 L498.9 2355.2 L498.6 2356.1 L498.1 2356.6 L497.2 2356.8 L496.6 2355.8 L496.4 2354.8 L495.6 2353.7 L496.1 2352.9 L496.9 2352.8 M480.7 2161.7 L482.0 2161.9 L484.0 2163.3 L486.5 2166.1 L487.9 2169.1 L489.2 2171.8 L488.4 2172.4 L487.1 2171.9 L485.6 2171.8 L483.0 2168.6 L482.1 2165.8 L479.7 2162.2 L480.7 2161.7 M446.1 2166.2 L445.5 2165.6 L448.0 2165.3 L450.2 2164.8 L452.0 2165.2 L455.5 2165.1 L455.4 2165.8 L455.1 2166.4 L452.5 2166.8 L450.3 2167.0 L447.5 2167.2 L447.2 2166.5 L446.1 2166.2 M460.8 2319.9 L462.0 2319.5 L463.3 2320.9 L464.1 2322.7 L464.2 2324.4 L463.7 2325.6 L463.1 2326.4 L462.1 2328.0 L460.9 2325.6 L459.6 2324.2 L459.0 2321.9 L460.1 2320.9 L460.8 2319.9 M511.4 2079.3 L509.8 2080.2 L509.5 2081.2 L502.7 2082.6 L497.9 2083.6 L495.3 2083.8 L493.2 2083.8 L492.1 2083.4 L497.1 2081.8 L502.1 2080.1 L507.6 2079.1 L510.5 2078.9 L511.4 2079.3 M424.7 2255.1 L425.9 2255.9 L426.8 2258.0 L426.9 2261.0 L426.4 2263.5 L425.9 2266.8 L424.5 2267.4 L423.6 2264.7 L422.7 2263.5 L421.5 2260.9 L422.8 2258.3 L423.6 2256.4 L424.7 2255.1 M666.0 2472.1 L665.2 2471.5 L665.9 2470.0 L666.8 2468.7 L667.9 2467.1 L669.3 2467.1 L669.5 2468.3 L670.3 2468.5 L670.1 2469.7 L669.0 2470.7 L668.1 2471.6 L667.0 2472.3 L666.0 2472.1 M499.5 2091.8 L500.1 2092.8 L498.5 2093.7 L496.0 2093.5 L494.3 2093.2 L491.5 2093.2 L492.1 2092.1 L492.5 2091.3 L494.1 2090.7 L495.9 2090.1 L498.4 2090.0 L499.3 2091.0 L499.5 2091.8 M528.7 2388.5 L530.2 2388.6 L531.7 2390.0 L532.2 2392.5 L532.2 2394.4 L531.4 2395.3 L531.0 2397.0 L529.8 2396.4 L529.0 2394.8 L527.1 2393.9 L527.8 2391.8 L527.5 2389.3 L528.7 2388.5 M554.4 2448.9 L555.1 2448.1 L559.0 2446.8 L562.0 2445.5 L566.7 2444.3 L568.4 2444.6 L571.3 2444.4 L568.5 2445.7 L568.0 2446.8 L562.8 2448.2 L558.4 2449.1 L552.9 2450.2 L554.4 2448.9 M483.2 2355.7 L484.2 2356.5 L484.2 2358.0 L483.8 2359.6 L482.3 2360.1 L481.0 2361.1 L480.0 2360.3 L478.7 2359.7 L479.0 2358.0 L479.4 2356.5 L480.5 2354.9 L482.0 2355.5 L483.2 2355.7 M495.6 2371.7 L497.3 2371.9 L498.7 2374.7 L500.3 2376.2 L500.8 2378.6 L501.0 2381.2 L499.8 2382.2 L498.3 2382.9 L496.4 2380.8 L495.1 2378.2 L495.2 2375.9 L495.7 2374.6 L495.6 2371.7 M474.1 2133.2 L474.7 2132.3 L475.9 2133.1 L476.6 2134.3 L476.6 2135.3 L476.6 2136.1 L476.5 2136.9 L475.9 2137.7 L474.8 2136.9 L474.2 2135.8 L473.6 2134.7 L473.5 2133.6 L474.1 2133.2 M920.1 314.1 L918.9 313.5 L917.3 312.5 L916.2 309.8 L917.6 309.4 L918.7 308.5 L920.0 311.0 L920.9 313.1 L920.1 314.1 M927.1 330.4 L924.6 328.5 L921.2 324.9 L918.2 321.2 L917.7 319.6 L920.0 321.6 L922.6 323.7 L926.1 328.0 L927.1 330.4 M920.3 330.7 L918.6 330.5 L916.5 327.8 L914.9 325.9 L915.2 325.0 L915.7 323.9 L917.9 326.6 L918.9 328.2 L920.3 330.7 M920.0 328.5 L918.7 328.5 L914.9 325.9 L912.2 323.3 L911.0 321.5 L912.8 322.0 L916.2 324.2 L918.5 326.6 L920.0 328.5 M925.9 317.2 L924.3 317.5 L921.7 316.2 L920.6 314.1 L919.9 312.2 L921.7 312.2 L923.9 313.6 L925.8 315.5 L925.9 317.2 M921.0 316.1 L919.0 315.7 L916.9 314.4 L915.6 312.7 L916.0 311.8 L916.7 311.2 L918.8 312.2 L919.7 314.0 L921.0 316.1 M920.3 313.0 L918.8 311.4 L917.2 307.9 L915.8 303.7 L916.2 302.2 L917.6 303.2 L919.2 307.1 L920.7 311.3 L920.3 313.0 M921.3 323.8 L919.7 322.5 L917.8 317.0 L917.4 312.4 L917.8 309.9 L919.4 311.8 L921.3 316.1 L921.6 320.8 L921.3 323.8 M917.9 327.3 L915.7 326.4 L913.4 324.6 L911.6 322.7 L910.5 320.9 L912.0 321.0 L914.7 323.0 L916.9 325.3 L917.9 327.3 M919.1 317.3 L917.8 316.1 L916.1 313.4 L915.4 310.1 L916.0 309.3 L917.1 310.0 L918.6 312.4 L919.5 315.8 L919.1 317.3 M915.3 309.4 L914.6 310.4 L913.0 305.0 L912.3 300.1 L912.8 299.2 L913.8 300.0 L914.9 304.5 L916.3 309.8 L915.3 309.4 M918.9 318.6 L917.1 318.1 L914.7 314.5 L914.1 311.7 L913.6 309.2 L915.6 311.2 L917.6 312.9 L918.2 315.7 L918.9 318.6 M927.0 326.4 L926.0 327.1 L924.0 323.0 L922.9 318.7 L923.8 317.8 L925.2 318.7 L926.7 322.0 L928.5 326.7 L927.0 326.4 M916.8 330.1 L915.9 329.0 L915.3 325.9 L914.9 323.1 L915.3 321.8 L916.2 322.8 L917.0 325.6 L917.0 328.2 L916.8 330.1 M928.5 326.5 L927.7 326.2 L926.0 323.9 L924.2 320.5 L925.1 320.6 L925.7 320.3 L927.4 323.1 L928.7 325.7 L928.5 326.5 M919.5 318.3 L918.1 316.7 L916.2 313.0 L915.5 309.3 L915.7 308.0 L916.4 307.2 L918.6 312.1 L920.6 318.0 L919.5 318.3 M918.0 309.4 L916.6 308.3 L915.3 305.2 L914.9 302.4 L915.3 301.0 L916.4 300.2 L917.7 304.4 L918.3 307.5 L918.0 309.4 M920.4 312.8 L919.5 312.6 L918.3 308.2 L917.2 303.7 L917.7 302.3 L918.9 303.1 L920.5 307.7 L920.8 311.4 L920.4 312.8 M927.9 312.6 L925.0 310.7 L921.5 307.6 L919.0 305.0 L916.4 302.1 L919.5 304.3 L922.4 306.6 L925.2 309.5 L927.9 312.6 M915.2 328.2 L913.1 327.2 L910.0 325.9 L907.2 322.1 L907.4 320.8 L909.0 320.9 L912.4 323.4 L915.6 327.0 L915.2 328.2 M916.0 315.4 L913.9 314.3 L911.2 311.3 L908.4 307.4 L908.3 305.3 L910.6 306.8 L913.0 309.9 L915.4 313.1 L916.0 315.4 M919.3 320.9 L917.3 319.5 L915.3 317.1 L913.0 314.1 L913.1 312.8 L914.6 313.4 L917.1 315.7 L919.5 319.5 L919.3 320.9 M914.9 333.9 L913.8 333.5 L912.6 330.0 L912.4 327.4 L912.6 325.8 L913.6 326.9 L915.2 329.2 L915.5 332.9 L914.9 333.9 M925.9 330.0 L923.5 327.8 L921.6 326.3 L919.2 322.8 L920.8 322.7 L922.0 323.1 L924.1 324.5 L926.2 328.1 L925.9 330.0 M918.1 307.8 L917.1 308.1 L913.5 306.0 L911.4 303.4 L910.2 301.6 L912.0 302.1 L915.1 304.1 L917.9 306.8 L918.1 307.8 M928.4 326.8 L925.4 325.0 L922.3 323.1 L919.4 320.2 L919.3 319.4 L920.1 319.3 L923.5 321.5 L926.5 324.5 L928.4 326.8 M917.3 313.2 L916.3 313.0 L913.9 309.1 L911.7 304.4 L911.6 302.2 L913.4 303.7 L915.9 308.1 L917.6 312.2 L917.3 313.2 M920.6 310.2 L918.8 308.7 L917.3 307.1 L915.8 305.0 L916.0 304.3 L916.9 304.8 L918.6 306.1 L920.2 308.5 L920.6 310.2 M521.0 2050.5 L507.8 2060.6 L515.2 2067.6 L516.2 2075.5 L521.4 2082.9 L519.5 2092.1 L519.4 2100.1 L514.9 2107.7 L507.4 2115.0 L506.8 2120.3 L503.0 2127.3 L498.5 2133.9 L510.7 2144.6 L492.5 2150.8 L491.3 2158.7 L496.7 2167.3 L500.2 2175.7 L496.5 2183.1 L492.9 2191.9 L493.9 2199.9 L490.1 2208.8 L497.6 2212.9 L493.5 2219.9 L494.1 2228.8 L491.0 2236.2 L490.6 2244.6 L488.9 2252.1 L481.1 2258.7 L473.5 2265.3 L487.2 2276.2 L477.0 2284.1 L480.8 2291.4 L481.1 2299.5 L489.9 2306.0 L492.7 2313.2 L489.3 2322.5 L499.2 2327.8 L493.6 2337.9 L495.7 2345.6 L503.3 2350.0 L503.6 2360.4 L508.4 2366.8 L516.9 2370.0 L521.5 2376.6 L522.2 2390.2 L532.1 2389.8 L539.5 2393.1 L545.5 2398.5 L558.3 2393.7 L558.9 2407.3 L567.0 2409.6 L573.9 2414.2 L580.8 2418.3 L589.5 2418.8 L595.1 2425.5 L603.6 2426.4 L607.3 2435.8 L616.5 2435.9 L624.4 2438.3 L631.0 2442.9 L642.5 2439.2 L644.4 2451.7 L652.8 2453.0 L656.5 2463.0 L666.3 2461.8 L671.0 2469.8 L680.3 2469.4 M683.3 2474.8 L673.5 2470.6 L665.1 2470.9 L659.8 2472.4 L650.0 2480.6 L644.0 2470.0 L636.2 2468.0 L628.5 2466.1 L621.4 2460.8 L611.1 2471.6 L604.2 2464.9 L597.1 2459.7 L591.3 2452.8 L581.5 2457.6 L573.0 2458.2 L566.9 2450.8 L554.5 2461.2 L551.1 2448.6 L542.1 2448.7 L537.9 2439.3 L523.7 2446.1 L525.0 2431.0 L519.0 2425.8 L507.6 2427.6 L505.7 2416.8 L497.1 2414.9 L488.4 2412.9 L486.2 2403.0 L483.5 2393.2 L470.8 2396.7 L464.2 2392.2 L461.6 2382.4 L449.2 2372.6 L458.7 2372.6 L461.9 2369.9 L452.9 2367.7 L445.5 2363.8 L445.8 2352.2 L439.2 2347.4 L431.4 2341.7 L443.4 2331.6 L434.8 2324.9 L430.5 2317.5 L432.9 2309.1 L420.5 2302.8 L431.5 2293.1 L431.5 2285.0 L423.8 2278.1 L421.0 2270.4 L423.4 2262.0 L425.7 2253.5 L423.5 2246.1 L419.0 2237.8 L426.2 2230.7 L419.3 2221.7 L431.8 2219.4 L442.1 2218.9 L443.5 2211.6 L450.5 2207.3 L455.9 2198.2 L463.9 2197.8 L472.8 2195.4 L474.2 2185.4 L468.4 2179.1 L463.8 2170.4 L452.9 2180.4 L443.5 2175.4 L436.1 2178.8 L426.4 2172.5 L427.1 2178.1 L419.8 2173.9 L426.1 2169.4 L428.4 2157.6 L438.2 2159.0 L447.8 2158.1 L448.8 2146.7 L453.5 2143.3 L450.0 2135.3 L449.2 2127.3 L450.3 2118.4 L450.9 2110.3 L458.2 2103.8 L464.2 2097.1 L459.5 2087.3 L459.7 2078.7 L470.6 2077.4 L477.7 2071.8 L485.4 2069.1 L493.6 2070.6 L501.7 2068.8 L503.6 2059.4 L511.9 2055.1 M1369.2 625.9 L1370.1 635.2 L1374.8 633.8 L1378.4 635.8 L1381.7 638.4 L1386.6 636.4 L1389.6 640.2 L1394.6 637.6 L1399.6 634.7 L1401.8 641.5 L1404.5 645.6 L1409.9 642.9 L1413.6 644.3 L1416.9 646.9 L1421.3 647.4 L1422.2 654.5 L1426.8 654.2 L1432.0 652.8 L1434.1 657.4 L1433.6 662.5 L1433.8 667.2 L1440.1 665.4 L1441.8 661.5 L1447.8 661.8 L1448.0 656.3 L1452.8 657.3 L1452.6 662.7 L1458.0 663.4 L1461.0 666.0 L1463.5 669.7 L1461.8 675.0"/>
</g>
</g>
<rect x="177.6" y="177.6" width="1673.6" height="2309.9" fill="none" stroke="#000" stroke-width="3.3"/>
<g font-size="46.4" text-anchor="middle" style="paint-order:stroke;fill:#fff;stroke:#000;stroke-width:7px;stroke-linejoin:round">
<text x="724.6" y="270.7" textLength="54.7" lengthAdjust="spacingAndGlyphs" style="fill:#fff">24</text>
<text x="1019.6" y="396.9" textLength="54.7" lengthAdjust="spacingAndGlyphs" style="fill:#fff">24</text>
<text x="1119.8" y="427.0" textLength="54.7" lengthAdjust="spacingAndGlyphs" style="fill:#fff">22</text>
<text x="1209.0" y="458.0" textLength="54.7" lengthAdjust="spacingAndGlyphs" style="fill:#fff">21</text>
<text x="481.8" y="470.2" textLength="54.7" lengthAdjust="spacingAndGlyphs" style="fill:#fff">10</text>
<text x="933.2" y="528.9" textLength="54.7" lengthAdjust="spacingAndGlyphs" style="fill:#fff">24</text>
<text x="325.2" y="632.6" textLength="27.4" lengthAdjust="spacingAndGlyphs" style="fill:#fff">9</text>
<text x="1254.6" y="622.2" textLength="54.7" lengthAdjust="spacingAndGlyphs" style="fill:#fff">23</text>
<text x="1337.6" y="670.6" textLength="54.7" lengthAdjust="spacingAndGlyphs" style="fill:#fff">22</text>
<text x="1481.3" y="708.6" textLength="54.7" lengthAdjust="spacingAndGlyphs" style="fill:#fff">25</text>
<text x="956.0" y="726.8" textLength="54.7" lengthAdjust="spacingAndGlyphs" style="fill:#fff">24</text>
<text x="1673.2" y="750.1" textLength="54.7" lengthAdjust="spacingAndGlyphs" style="fill:#fff">21</text>
<text x="1532.5" y="794.3" textLength="54.7" lengthAdjust="spacingAndGlyphs" style="fill:#fff">23</text>
<text x="1785.5" y="817.8" textLength="54.7" lengthAdjust="spacingAndGlyphs" style="fill:#fff">22</text>
<text x="1795.9" y="859.3" textLength="54.7" lengthAdjust="spacingAndGlyphs" style="fill:#fff">21</text>
<text x="1796.9" y="891.1" textLength="54.7" lengthAdjust="spacingAndGlyphs" style="fill:#fff">21</text>
<text x="825.3" y="916.3" textLength="54.7" lengthAdjust="spacingAndGlyphs" style="fill:#fff">22</text>
<text x="1768.2" y="945.7" textLength="54.7" lengthAdjust="spacingAndGlyphs" style="fill:#fff">22</text>
<text x="694.4" y="957.8" textLength="54.7" lengthAdjust="spacingAndGlyphs" style="fill:#fff">20</text>
<text x="1343.0" y="966.5" textLength="54.7" lengthAdjust="spacingAndGlyphs" style="fill:#fff">23</text>
<text x="1724.3" y="988.9" textLength="54.7" lengthAdjust="spacingAndGlyphs" style="fill:#fff">21</text>
<text x="386.8" y="1023.5" textLength="54.7" lengthAdjust="spacingAndGlyphs" style="fill:#fff">16</text>
<text x="1676.6" y="1058.0" textLength="54.7" lengthAdjust="spacingAndGlyphs" style="fill:#fff">23</text>
<text x="1087.0" y="1146.2" textLength="54.7" lengthAdjust="spacingAndGlyphs" style="fill:#fff">22</text>
<text x="1363.8" y="1151.4" textLength="54.7" lengthAdjust="spacingAndGlyphs" style="fill:#fff">16</text>
<text x="675.4" y="1175.6" textLength="42.9" lengthAdjust="spacingAndGlyphs" style="fill:#fff">-5</text>
<text x="1316.8" y="1182.5" textLength="54.7" lengthAdjust="spacingAndGlyphs" style="fill:#fff">18</text>
<text x="1494.5" y="1289.6" textLength="54.7" lengthAdjust="spacingAndGlyphs" style="fill:#fff">15</text>
<text x="1614.4" y="1303.4" textLength="54.7" lengthAdjust="spacingAndGlyphs" style="fill:#fff">20</text>
<text x="1135.4" y="1308.6" textLength="54.7" lengthAdjust="spacingAndGlyphs" style="fill:#fff">21</text>
<text x="1519.4" y="1390.2" textLength="54.7" lengthAdjust="spacingAndGlyphs" style="fill:#fff">19</text>
<text x="1405.3" y="1410.9" textLength="54.7" lengthAdjust="spacingAndGlyphs" style="fill:#fff">13</text>
<text x="1038.6" y="1469.7" textLength="54.7" lengthAdjust="spacingAndGlyphs" style="fill:#fff">21</text>
<text x="1303.0" y="1471.4" textLength="27.4" lengthAdjust="spacingAndGlyphs" style="fill:#fff">8</text>
<text x="1334.0" y="1547.5" textLength="54.7" lengthAdjust="spacingAndGlyphs" style="fill:#fff">14</text>
<text x="1251.2" y="1628.7" textLength="54.7" lengthAdjust="spacingAndGlyphs" style="fill:#fff">15</text>
<text x="589.0" y="1741.0" textLength="27.4" lengthAdjust="spacingAndGlyphs" style="fill:#fff">6</text>
<text x="1009.2" y="1787.7" textLength="54.7" lengthAdjust="spacingAndGlyphs" style="fill:#fff">20</text>
<text x="1083.5" y="1789.4" textLength="54.7" lengthAdjust="spacingAndGlyphs" style="fill:#fff">18</text>
</g>
<text x="1004.2" y="79.5" font-size="63.8" text-anchor="middle" textLength="920.9" lengthAdjust="spacingAndGlyphs" >SAMeT - Temperatura Mínima</text>
<text x="1023.7" y="152.6" font-size="63.8" text-anchor="middle" textLength="730.8" lengthAdjust="spacingAndGlyphs" >Válida para 29/08/2009</text>
<text x="278.6" y="2547.2" font-size="51.0" text-anchor="middle" textLength="138.1" lengthAdjust="spacingAndGlyphs" >80°W</text>
<text x="613.3" y="2547.2" font-size="51.0" text-anchor="middle" textLength="138.1" lengthAdjust="spacingAndGlyphs" >70°W</text>
<text x="948.1" y="2547.2" font-size="51.0" text-anchor="middle" textLength="138.1" lengthAdjust="spacingAndGlyphs" >60°W</text>
<text x="1282.8" y="2547.2" font-size="51.0" text-anchor="middle" textLength="138.1" lengthAdjust="spacingAndGlyphs" >50°W</text>
<text x="1617.5" y="2547.2" font-size="51.0" text-anchor="middle" textLength="138.1" lengthAdjust="spacingAndGlyphs" >40°W</text>
<text x="155.7" y="292.7" font-size="51.0" text-anchor="end" textLength="126.0" lengthAdjust="spacingAndGlyphs" >10°N</text>
<text x="155.7" y="627.5" font-size="51.0" text-anchor="end" textLength="56.8" lengthAdjust="spacingAndGlyphs" >0°</text>
<text x="155.7" y="962.3" font-size="51.0" text-anchor="end" textLength="120.4" lengthAdjust="spacingAndGlyphs" >10°S</text>
<text x="155.7" y="1297.0" font-size="51.0" text-anchor="end" textLength="120.4" lengthAdjust="spacingAndGlyphs" >20°S</text>
<text x="155.7" y="1631.8" font-size="51.0" text-anchor="end" textLength="120.4" lengthAdjust="spacingAndGlyphs" >30°S</text>
<text x="155.7" y="1966.6" font-size="51.0" text-anchor="end" textLength="120.4" lengthAdjust="spacingAndGlyphs" >40°S</text>
<text x="155.7" y="2301.3" font-size="51.0" text-anchor="end" textLength="120.4" lengthAdjust="spacingAndGlyphs" >50°S</text>
<g shape-rendering="crispEdges">
<rect x="1894.2" y="282.70" width="50.6" height="21.81" fill="#700320"/>
<rect x="1894.2" y="303.91" width="50.6" height="21.81" fill="#790622"/>
<rect x="1894.2" y="325.12" width="50.6" height="21.81" fill="#7f0823"/>
<rect x="1894.2" y="346.33" width="50.6" height="21.81" fill="#870a24"/>
<rect x="1894.2" y="367.54" width="50.6" height="21.81" fill="#900d26"/>
<rect x="1894.2" y="388.76" width="50.6" height="21.81" fill="#960f27"/>
<rect x="1894.2" y="409.97" width="50.6" height="21.81" fill="#9f1228"/>
<rect x="1894.2" y="431.18" width="50.6" height="21.81" fill="#a51429"/>
<rect x="1894.2" y="452.39" width="50.6" height="21.81" fill="#ae172a"/>
<rect x="1894.2" y="473.60" width="50.6" height="21.81" fill="#b3192c"/>
<rect x="1894.2" y="494.81" width="50.6" height="21.81" fill="#b72230"/>
<rect x="1894.2" y="516.02" width="50.6" height="21.81" fill="#ba2832"/>
<rect x="1894.2" y="537.23" width="50.6" height="21.81" fill="#be3036"/>
<rect x="1894.2" y="558.44" width="50.6" height="21.81" fill="#c2383a"/>
<rect x="1894.2" y="579.66" width="50.6" height="21.81" fill="#c53e3d"/>
<rect x="1894.2" y="600.87" width="50.6" height="21.81" fill="#c94741"/>
<rect x="1894.2" y="622.08" width="50.6" height="21.81" fill="#cc4c44"/>
<rect x="1894.2" y="643.29" width="50.6" height="21.81" fill="#d05548"/>
<rect x="1894.2" y="664.50" width="50.6" height="21.81" fill="#d35a4a"/>
<rect x="1894.2" y="685.71" width="50.6" height="21.81" fill="#d7634f"/>
<rect x="1894.2" y="706.92" width="50.6" height="21.81" fill="#db6b55"/>
<rect x="1894.2" y="728.13" width="50.6" height="21.81" fill="#dd7059"/>
<rect x="1894.2" y="749.34" width="50.6" height="21.81" fill="#e17860"/>
<rect x="1894.2" y="770.56" width="50.6" height="21.81" fill="#e37e64"/>
<rect x="1894.2" y="791.77" width="50.6" height="21.81" fill="#e6866a"/>
<rect x="1894.2" y="812.98" width="50.6" height="21.81" fill="#e98b6e"/>
<rect x="1894.2" y="834.19" width="50.6" height="21.81" fill="#ec9374"/>
<rect x="1894.2" y="855.40" width="50.6" height="21.81" fill="#ef9979"/>
<rect x="1894.2" y="876.61" width="50.6" height="21.81" fill="#f2a17f"/>
<rect x="1894.2" y="897.82" width="50.6" height="21.81" fill="#f5a886"/>
<rect x="1894.2" y="919.03" width="50.6" height="21.81" fill="#f5ac8b"/>
<rect x="1894.2" y="940.24" width="50.6" height="21.81" fill="#f6b394"/>
<rect x="1894.2" y="961.46" width="50.6" height="21.81" fill="#f7b799"/>
<rect x="1894.2" y="982.67" width="50.6" height="21.81" fill="#f8bda1"/>
<rect x="1894.2" y="1003.88" width="50.6" height="21.81" fill="#f9c2a7"/>
<rect x="1894.2" y="1025.09" width="50.6" height="21.81" fill="#fac8af"/>
<rect x="1894.2" y="1046.30" width="50.6" height="21.81" fill="#fbccb4"/>
<rect x="1894.2" y="1067.51" width="50.6" height="21.81" fill="#fcd3bc"/>
<rect x="1894.2" y="1088.72" width="50.6" height="21.81" fill="#fdd9c4"/>
<rect x="1894.2" y="1109.93" width="50.6" height="21.81" fill="#fddcc9"/>
<rect x="1894.2" y="1131.14" width="50.6" height="21.81" fill="#fcdfcf"/>
<rect x="1894.2" y="1152.36" width="50.6" height="21.81" fill="#fce2d2"/>
<rect x="1894.2" y="1173.57" width="50.6" height="21.81" fill="#fbe5d8"/>
<rect x="1894.2" y="1194.78" width="50.6" height="21.81" fill="#fae7dc"/>
<rect x="1894.2" y="1215.99" width="50.6" height="21.81" fill="#faeae1"/>
<rect x="1894.2" y="1237.20" width="50.6" height="21.81" fill="#f9eee7"/>
<rect x="1894.2" y="1258.41" width="50.6" height="21.81" fill="#f9f0eb"/>
<rect x="1894.2" y="1279.62" width="50.6" height="21.81" fill="#f8f3f0"/>
<rect x="1894.2" y="1300.83" width="50.6" height="21.81" fill="#f7f5f4"/>
<rect x="1894.2" y="1322.04" width="50.6" height="21.81" fill="#f5f6f7"/>
<rect x="1894.2" y="1343.26" width="50.6" height="21.81" fill="#f2f5f6"/>
<rect x="1894.2" y="1364.47" width="50.6" height="21.81" fill="#edf2f5"/>
<rect x="1894.2" y="1385.68" width="50.6" height="21.81" fill="#eaf1f5"/>
<rect x="1894.2" y="1406.89" width="50.6" height="21.81" fill="#e6eff4"/>
<rect x="1894.2" y="1428.10" width="50.6" height="21.81" fill="#e1edf3"/>
<rect x="1894.2" y="1449.31" width="50.6" height="21.81" fill="#deebf2"/>
<rect x="1894.2" y="1470.52" width="50.6" height="21.81" fill="#dae9f2"/>
<rect x="1894.2" y="1491.73" width="50.6" height="21.81" fill="#d7e8f1"/>
<rect x="1894.2" y="1512.94" width="50.6" height="21.81" fill="#d2e6f0"/>
<rect x="1894.2" y="1534.16" width="50.6" height="21.81" fill="#cfe4ef"/>
<rect x="1894.2" y="1555.37" width="50.6" height="21.81" fill="#c7e0ed"/>
<rect x="1894.2" y="1576.58" width="50.6" height="21.81" fill="#c2ddec"/>
<rect x="1894.2" y="1597.79" width="50.6" height="21.81" fill="#bbdaea"/>
<rect x="1894.2" y="1619.00" width="50.6" height="21.81" fill="#b3d6e8"/>
<rect x="1894.2" y="1640.21" width="50.6" height="21.81" fill="#aed3e6"/>
<rect x="1894.2" y="1661.42" width="50.6" height="21.81" fill="#a7d0e4"/>
<rect x="1894.2" y="1682.63" width="50.6" height="21.81" fill="#a2cde3"/>
<rect x="1894.2" y="1703.84" width="50.6" height="21.81" fill="#9bc9e0"/>
<rect x="1894.2" y="1725.06" width="50.6" height="21.81" fill="#96c7df"/>
<rect x="1894.2" y="1746.27" width="50.6" height="21.81" fill="#8dc2dc"/>
<rect x="1894.2" y="1767.48" width="50.6" height="21.81" fill="#84bcd9"/>
<rect x="1894.2" y="1788.69" width="50.6" height="21.81" fill="#7eb8d7"/>
<rect x="1894.2" y="1809.90" width="50.6" height="21.81" fill="#75b2d4"/>
<rect x="1894.2" y="1831.11" width="50.6" height="21.81" fill="#6eaed2"/>
<rect x="1894.2" y="1852.32" width="50.6" height="21.81" fill="#65a9cf"/>
<rect x="1894.2" y="1873.53" width="50.6" height="21.81" fill="#5fa5cd"/>
<rect x="1894.2" y="1894.74" width="50.6" height="21.81" fill="#569fc9"/>
<rect x="1894.2" y="1915.96" width="50.6" height="21.81" fill="#4f9bc7"/>
<rect x="1894.2" y="1937.17" width="50.6" height="21.81" fill="#4695c4"/>
<rect x="1894.2" y="1958.38" width="50.6" height="21.81" fill="#408fc1"/>
<rect x="1894.2" y="1979.59" width="50.6" height="21.81" fill="#3e8cbf"/>
<rect x="1894.2" y="2000.80" width="50.6" height="21.81" fill="#3a87bd"/>
<rect x="1894.2" y="2022.01" width="50.6" height="21.81" fill="#3783bb"/>
<rect x="1894.2" y="2043.22" width="50.6" height="21.81" fill="#337eb8"/>
<rect x="1894.2" y="2064.43" width="50.6" height="21.81" fill="#307ab6"/>
<rect x="1894.2" y="2085.64" width="50.6" height="21.81" fill="#2c75b4"/>
<rect x="1894.2" y="2106.86" width="50.6" height="21.81" fill="#2a71b2"/>
<rect x="1894.2" y="2128.07" width="50.6" height="21.81" fill="#266caf"/>
<rect x="1894.2" y="2149.28" width="50.6" height="21.81" fill="#2267ac"/>
<rect x="1894.2" y="2170.49" width="50.6" height="21.81" fill="#1f63a8"/>
<rect x="1894.2" y="2191.70" width="50.6" height="21.81" fill="#1c5c9f"/>
<rect x="1894.2" y="2212.91" width="50.6" height="21.81" fill="#1a5899"/>
<rect x="1894.2" y="2234.12" width="50.6" height="21.81" fill="#175290"/>
<rect x="1894.2" y="2255.33" width="50.6" height="21.81" fill="#144e8a"/>
<rect x="1894.2" y="2276.54" width="50.6" height="21.81" fill="#114781"/>
<rect x="1894.2" y="2297.76" width="50.6" height="21.81" fill="#0e4179"/>
<rect x="1894.2" y="2318.97" width="50.6" height="21.81" fill="#0c3d73"/>
<rect x="1894.2" y="2340.18" width="50.6" height="21.81" fill="#08366a"/>
<rect x="1894.2" y="2361.39" width="50.6" height="21.81" fill="#063264"/>
</g>
<path d="M1894.2 283.2 L1919.5 181.5 L1944.8 283.2 Z" fill="#67001f"/>
<path d="M1894.2 2382.1 L1919.5 2483.5 L1944.8 2382.1 Z" fill="#053061"/>
<path d="M1894.2 282.7 L1919.5 183.5 L1944.8 282.7 L1944.8 2382.6 L1919.5 2481.8 L1894.2 2382.6 Z" fill="none" stroke="#000" stroke-width="3.3" stroke-linejoin="miter" stroke-miterlimit="10"/>
<path d="M1946.4 282.7 H1961.0" stroke="#000" stroke-width="3.3"/>
<text x="1975.0" y="302.3" font-size="52.0" text-anchor="start" textLength="64.9" lengthAdjust="spacingAndGlyphs" >35</text>
<path d="M1946.4 472.4 H1961.0" stroke="#000" stroke-width="3.3"/>
<text x="1975.0" y="492.0" font-size="52.0" text-anchor="start" textLength="64.9" lengthAdjust="spacingAndGlyphs" >30</text>
<path d="M1946.4 684.6 H1961.0" stroke="#000" stroke-width="3.3"/>
<text x="1975.0" y="704.2" font-size="52.0" text-anchor="start" textLength="64.9" lengthAdjust="spacingAndGlyphs" >25</text>
<path d="M1946.4 896.9 H1961.0" stroke="#000" stroke-width="3.3"/>
<text x="1975.0" y="916.5" font-size="52.0" text-anchor="start" textLength="64.9" lengthAdjust="spacingAndGlyphs" >20</text>
<path d="M1946.4 1109.1 H1961.0" stroke="#000" stroke-width="3.3"/>
<text x="1975.0" y="1128.7" font-size="52.0" text-anchor="start" textLength="64.9" lengthAdjust="spacingAndGlyphs" >15</text>
<path d="M1946.4 1321.4 H1961.0" stroke="#000" stroke-width="3.3"/>
<text x="1975.0" y="1341.0" font-size="52.0" text-anchor="start" textLength="64.9" lengthAdjust="spacingAndGlyphs" >10</text>
<path d="M1946.4 1533.6 H1961.0" stroke="#000" stroke-width="3.3"/>
<text x="1975.0" y="1553.2" font-size="52.0" text-anchor="start" textLength="32.4" lengthAdjust="spacingAndGlyphs" >5</text>
<path d="M1946.4 1745.9 H1961.0" stroke="#000" stroke-width="3.3"/>
<text x="1975.0" y="1765.5" font-size="52.0" text-anchor="start" textLength="32.4" lengthAdjust="spacingAndGlyphs" >0</text>
<path d="M1946.4 1958.1 H1961.0" stroke="#000" stroke-width="3.3"/>
<text x="1975.0" y="1977.7" font-size="52.0" text-anchor="start" textLength="50.9" lengthAdjust="spacingAndGlyphs" >-5</text>
<path d="M1946.4 2170.4 H1961.0" stroke="#000" stroke-width="3.3"/>
<text x="1975.0" y="2190.0" font-size="52.0" text-anchor="start" textLength="83.3" lengthAdjust="spacingAndGlyphs" >-10</text>
<path d="M1946.4 2382.6 H1961.0" stroke="#000" stroke-width="3.3"/>
<text x="1975.0" y="2402.2" font-size="52.0" text-anchor="start" textLength="83.3" lengthAdjust="spacingAndGlyphs" >-15</text>
<text x="1859.5" y="175.8" font-size="51.0" text-anchor="start" textLength="98.9" lengthAdjust="spacingAndGlyphs" >(°C)</text>
<g transform="translate(1620,2270) scale(0.12096)">
<path d="M165 640 C165 800 230 980 330 1090 C440 1210 580 1285 720 1287 C900 1290 1050 1230 1160 1140 C1270 1050 1350 920 1405 790 C1445 690 1462 600 1465 500 L1535 500 L1335 295 L1120 500 L1190 500 C1190 620 1150 740 1095 830 C1030 930 940 1020 830 1070 C740 1108 620 1115 520 1090 C400 1055 300 960 250 880 C210 810 185 720 180 640 Z" fill="#0072bb"/>
<circle cx="818" cy="932" r="140" fill="#f39200"/>
<path d="M192 770 C160 620 185 420 300 300 C390 215 520 180 640 187 C770 195 880 280 925 370 C955 440 965 510 965 580 L1030 580 L818 775 L640 580 L715 580 C715 500 680 440 620 415 C540 390 440 400 360 460 C280 520 215 640 196 770" fill="#fff" stroke="#0072bb" stroke-width="14" stroke-linejoin="miter"/>
<text x="255" y="830" font-size="205" font-weight="bold" font-style="italic" textLength="430" lengthAdjust="spacingAndGlyphs" style="fill:#111">INPE</text>
</g>

</svg></body></html>
